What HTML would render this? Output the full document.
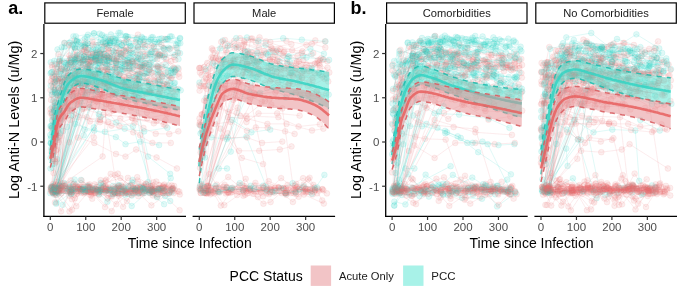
<!DOCTYPE html>
<html><head><meta charset="utf-8"><style>
html,body{margin:0;padding:0;background:#fff;width:685px;height:295px;overflow:hidden;position:relative}
</style></head><body>
<svg width="685" height="295" viewBox="0 0 685 295" style="position:absolute;left:0;top:0">
<defs><filter id="bl" filterUnits="userSpaceOnUse" x="0" y="0" width="685" height="295"><feGaussianBlur stdDeviation="0.75"/></filter><filter id="tx" filterUnits="userSpaceOnUse" x="0" y="0" width="685" height="295"><feGaussianBlur stdDeviation="0.25"/></filter></defs>
<style>.t circle{r:2.9px;fill:#16CFC0;fill-opacity:0.12;stroke:#16CFC0;stroke-opacity:0.12;stroke-width:0.8px}.p circle{r:2.9px;fill:#E86A6C;fill-opacity:0.12;stroke:#E86A6C;stroke-opacity:0.12;stroke-width:0.8px}.t path{fill:none;stroke:#16CFC0;stroke-opacity:0.15;stroke-width:0.85px}.p path{fill:none;stroke:#E86A6C;stroke-opacity:0.15;stroke-width:0.85px}</style>
<rect x="0" y="0" width="685" height="295" fill="#fff"/>
<g filter="url(#bl)">
<g class="p"><path d="M57.3,188.5L74.9,198.2L88.1,186.7L101.4,188.6L110.5,190.2L124.7,192L144.8,187.4L152,186.7L168.7,185.5"/><circle cx="57.3" cy="188.5"/><circle cx="74.9" cy="198.2"/><circle cx="88.1" cy="186.7"/><circle cx="101.4" cy="188.6"/><circle cx="110.5" cy="190.2"/><circle cx="124.7" cy="192"/><circle cx="144.8" cy="187.4"/><circle cx="152" cy="186.7"/><circle cx="168.7" cy="185.5"/></g>
<g class="t"><path d="M53.4,139.8L67.3,92.5L88.7,81.4L107.2,87.5L124.9,91.2L144.4,90.9L169,96"/><circle cx="53.4" cy="139.8"/><circle cx="67.3" cy="92.5"/><circle cx="88.7" cy="81.4"/><circle cx="107.2" cy="87.5"/><circle cx="124.9" cy="91.2"/><circle cx="144.4" cy="90.9"/><circle cx="169" cy="96"/></g>
<g class="p"><path d="M52.1,75.8L59.4,61.4L74.7,40.5L83.8,49.6L96.7,52.6"/><circle cx="52.1" cy="75.8"/><circle cx="59.4" cy="61.4"/><circle cx="74.7" cy="40.5"/><circle cx="83.8" cy="49.6"/><circle cx="96.7" cy="52.6"/></g>
<g class="t"><path d="M51.6,186.2L62.5,185.9L82.3,189.2L99.8,190.8L115.7,188.2L132.1,189.5L144.4,185.6L151.6,191.2"/><circle cx="51.6" cy="186.2"/><circle cx="62.5" cy="185.9"/><circle cx="82.3" cy="189.2"/><circle cx="99.8" cy="190.8"/><circle cx="115.7" cy="188.2"/><circle cx="132.1" cy="189.5"/><circle cx="144.4" cy="185.6"/><circle cx="151.6" cy="191.2"/></g>
<g class="p"><path d="M51.9,190.7L69.5,187.6L85.2,192.1L97.5,190.2L115.3,189.4L131.2,189.3L142.5,193.6L152.2,192.1L163.7,192.8"/><circle cx="51.9" cy="190.7"/><circle cx="69.5" cy="187.6"/><circle cx="85.2" cy="192.1"/><circle cx="97.5" cy="190.2"/><circle cx="115.3" cy="189.4"/><circle cx="131.2" cy="189.3"/><circle cx="142.5" cy="193.6"/><circle cx="152.2" cy="192.1"/><circle cx="163.7" cy="192.8"/></g>
<g class="t"><path d="M59.8,78.9L74.2,46.8L100.6,43.8L110.1,43L121.8,45.3L130.4,53.1L142.7,44.9L167.3,38.8L180.1,38"/><circle cx="59.8" cy="78.9"/><circle cx="74.2" cy="46.8"/><circle cx="100.6" cy="43.8"/><circle cx="110.1" cy="43"/><circle cx="121.8" cy="45.3"/><circle cx="130.4" cy="53.1"/><circle cx="142.7" cy="44.9"/><circle cx="167.3" cy="38.8"/><circle cx="180.1" cy="38"/></g>
<g class="p"><path d="M62.5,96.2L78,83.5L101.9,94L124.8,86.3L150.6,102"/><circle cx="62.5" cy="96.2"/><circle cx="78" cy="83.5"/><circle cx="101.9" cy="94"/><circle cx="124.8" cy="86.3"/><circle cx="150.6" cy="102"/></g>
<g class="p"><path d="M55.3,188.4L68.9,188.9L86.1,190.6L106.2,179.7L126.2,192.5L137.3,187.9L152.4,191.4"/><circle cx="55.3" cy="188.4"/><circle cx="68.9" cy="188.9"/><circle cx="86.1" cy="190.6"/><circle cx="106.2" cy="179.7"/><circle cx="126.2" cy="192.5"/><circle cx="137.3" cy="187.9"/><circle cx="152.4" cy="191.4"/></g>
<g class="p"><path d="M78,137.6L94.3,142.9L115.9,153.9L125.5,156.6L136.1,149.5L156.6,157.5L176.9,168.5"/><circle cx="78" cy="137.6"/><circle cx="94.3" cy="142.9"/><circle cx="115.9" cy="153.9"/><circle cx="125.5" cy="156.6"/><circle cx="136.1" cy="149.5"/><circle cx="156.6" cy="157.5"/><circle cx="176.9" cy="168.5"/></g>
<g class="p"><path d="M50.5,112.9L57,81L74.8,74.7L96.4,87.9L108.7,81.9L131.2,85.1"/><circle cx="50.5" cy="112.9"/><circle cx="57" cy="81"/><circle cx="74.8" cy="74.7"/><circle cx="96.4" cy="87.9"/><circle cx="108.7" cy="81.9"/><circle cx="131.2" cy="85.1"/></g>
<g class="t"><path d="M56.5,64.1L59.3,60.6L84,60.5L108.9,69.8L123.3,69.6L135.7,76.3L158,81.5L174.1,83.4"/><circle cx="56.5" cy="64.1"/><circle cx="59.3" cy="60.6"/><circle cx="84" cy="60.5"/><circle cx="108.9" cy="69.8"/><circle cx="123.3" cy="69.6"/><circle cx="135.7" cy="76.3"/><circle cx="158" cy="81.5"/><circle cx="174.1" cy="83.4"/></g>
<g class="t"><path d="M54.5,163.7L58.6,117L82.6,60.9L91.6,57.4"/><circle cx="54.5" cy="163.7"/><circle cx="58.6" cy="117"/><circle cx="82.6" cy="60.9"/><circle cx="91.6" cy="57.4"/></g>
<g class="p"><path d="M58.1,188.9L75.2,49L95.9,55.2L120.5,56.6L141,58.3L149.4,62.6L159.7,55.2L174.1,67.7"/><circle cx="58.1" cy="188.9"/><circle cx="75.2" cy="49"/><circle cx="95.9" cy="55.2"/><circle cx="120.5" cy="56.6"/><circle cx="141" cy="58.3"/><circle cx="149.4" cy="62.6"/><circle cx="159.7" cy="55.2"/><circle cx="174.1" cy="67.7"/></g>
<g class="p"><path d="M59.9,186.1L71.9,199.2L83.6,186.6L93.2,193.2L111.7,211.1L121.6,193.2L140.5,189.9L153.4,182.4L164.7,191"/><circle cx="59.9" cy="186.1"/><circle cx="71.9" cy="199.2"/><circle cx="83.6" cy="186.6"/><circle cx="93.2" cy="193.2"/><circle cx="111.7" cy="211.1"/><circle cx="121.6" cy="193.2"/><circle cx="140.5" cy="189.9"/><circle cx="153.4" cy="182.4"/><circle cx="164.7" cy="191"/></g>
<g class="p"><path d="M54.7,64.5L74.3,81.3L86.7,82.7L105.3,88.8"/><circle cx="54.7" cy="64.5"/><circle cx="74.3" cy="81.3"/><circle cx="86.7" cy="82.7"/><circle cx="105.3" cy="88.8"/></g>
<g class="p"><path d="M57.4,192.3L72.8,186.2L80.6,188.7L87.9,187.7L96.5,188.8L115,193.1L135.4,189.6L146.5,188.9L159.2,185"/><circle cx="57.4" cy="192.3"/><circle cx="72.8" cy="186.2"/><circle cx="80.6" cy="188.7"/><circle cx="87.9" cy="187.7"/><circle cx="96.5" cy="188.8"/><circle cx="115" cy="193.1"/><circle cx="135.4" cy="189.6"/><circle cx="146.5" cy="188.9"/><circle cx="159.2" cy="185"/></g>
<g class="t"><path d="M53.7,135.1L72.9,78.3L95.8,60.8"/><circle cx="53.7" cy="135.1"/><circle cx="72.9" cy="78.3"/><circle cx="95.8" cy="60.8"/></g>
<g class="p"><path d="M56,125L59.1,112L72.4,96.2L98.4,96.7L108.4,99.2L128.4,100.8L137.3,104.3L153.7,110.4L162.2,107.2L172.1,101.4"/><circle cx="56" cy="125"/><circle cx="59.1" cy="112"/><circle cx="72.4" cy="96.2"/><circle cx="98.4" cy="96.7"/><circle cx="108.4" cy="99.2"/><circle cx="128.4" cy="100.8"/><circle cx="137.3" cy="104.3"/><circle cx="153.7" cy="110.4"/><circle cx="162.2" cy="107.2"/><circle cx="172.1" cy="101.4"/></g>
<g class="t"><path d="M55.4,107.7L75.9,36.3L93.9,33.3L108,40.2L116.1,37.9L128.1,37.2L137.2,38.4L159.3,42.3L177.6,41.8"/><circle cx="55.4" cy="107.7"/><circle cx="75.9" cy="36.3"/><circle cx="93.9" cy="33.3"/><circle cx="108" cy="40.2"/><circle cx="116.1" cy="37.9"/><circle cx="128.1" cy="37.2"/><circle cx="137.2" cy="38.4"/><circle cx="159.3" cy="42.3"/><circle cx="177.6" cy="41.8"/></g>
<g class="p"><path d="M58,140.1L64.9,80.2L75.1,55.1L90.4,60.4L102,62.7L122.6,55.5L132.6,73.1L149.9,69.5L170.6,78.4"/><circle cx="58" cy="140.1"/><circle cx="64.9" cy="80.2"/><circle cx="75.1" cy="55.1"/><circle cx="90.4" cy="60.4"/><circle cx="102" cy="62.7"/><circle cx="122.6" cy="55.5"/><circle cx="132.6" cy="73.1"/><circle cx="149.9" cy="69.5"/><circle cx="170.6" cy="78.4"/></g>
<g class="p"><path d="M56.7,115.2L61.8,78.6L87.7,68.4L107.8,69.7"/><circle cx="56.7" cy="115.2"/><circle cx="61.8" cy="78.6"/><circle cx="87.7" cy="68.4"/><circle cx="107.8" cy="69.7"/></g>
<g class="t"><path d="M50.6,73.3L72.7,44.6L94.1,33.3L104.6,38.2L115.5,40.3L139.8,42.1L154.7,41.8L178.4,43.3"/><circle cx="50.6" cy="73.3"/><circle cx="72.7" cy="44.6"/><circle cx="94.1" cy="33.3"/><circle cx="104.6" cy="38.2"/><circle cx="115.5" cy="40.3"/><circle cx="139.8" cy="42.1"/><circle cx="154.7" cy="41.8"/><circle cx="178.4" cy="43.3"/></g>
<g class="t"><path d="M57.1,92.7L81.8,57.5L100.4,53.5L124,81.8L144.1,73.4L159.5,79.8"/><circle cx="57.1" cy="92.7"/><circle cx="81.8" cy="57.5"/><circle cx="100.4" cy="53.5"/><circle cx="124" cy="81.8"/><circle cx="144.1" cy="73.4"/><circle cx="159.5" cy="79.8"/></g>
<g class="t"><path d="M53.3,154.6L60.5,112.3L86.9,93.4"/><circle cx="53.3" cy="154.6"/><circle cx="60.5" cy="112.3"/><circle cx="86.9" cy="93.4"/></g>
<g class="t"><path d="M57.4,190.7L72.5,189.7L88.8,186L98.6,189.9L114.2,189.7L127.6,194L139.4,192.8L148.1,182.1L165.1,195.9"/><circle cx="57.4" cy="190.7"/><circle cx="72.5" cy="189.7"/><circle cx="88.8" cy="186"/><circle cx="98.6" cy="189.9"/><circle cx="114.2" cy="189.7"/><circle cx="127.6" cy="194"/><circle cx="139.4" cy="192.8"/><circle cx="148.1" cy="182.1"/><circle cx="165.1" cy="195.9"/></g>
<g class="t"><path d="M52.5,167.6L72,68.2L98.3,72.4L120.6,73L147.1,81.2"/><circle cx="52.5" cy="167.6"/><circle cx="72" cy="68.2"/><circle cx="98.3" cy="72.4"/><circle cx="120.6" cy="73"/><circle cx="147.1" cy="81.2"/></g>
<g class="t"><path d="M53.9,185.8L93.8,127.4L118.5,32.8L126.4,36.1L150.9,39.7L169.5,48.7"/><circle cx="53.9" cy="185.8"/><circle cx="93.8" cy="127.4"/><circle cx="118.5" cy="32.8"/><circle cx="126.4" cy="36.1"/><circle cx="150.9" cy="39.7"/><circle cx="169.5" cy="48.7"/></g>
<g class="p"><path d="M52.7,187.5L65.2,183.8L82.2,184.7L89.5,184.4L105.4,180.9L115,174.8L130.4,185L143.8,186.7L162.8,186.7"/><circle cx="52.7" cy="187.5"/><circle cx="65.2" cy="183.8"/><circle cx="82.2" cy="184.7"/><circle cx="89.5" cy="184.4"/><circle cx="105.4" cy="180.9"/><circle cx="115" cy="174.8"/><circle cx="130.4" cy="185"/><circle cx="143.8" cy="186.7"/><circle cx="162.8" cy="186.7"/></g>
<g class="p"><path d="M59.4,136.4L63.3,116.6L74.7,85.9L85,81.4L107.4,71.4L119.5,74.2L140.2,77L159.6,72L169.4,76.3"/><circle cx="59.4" cy="136.4"/><circle cx="63.3" cy="116.6"/><circle cx="74.7" cy="85.9"/><circle cx="85" cy="81.4"/><circle cx="107.4" cy="71.4"/><circle cx="119.5" cy="74.2"/><circle cx="140.2" cy="77"/><circle cx="159.6" cy="72"/><circle cx="169.4" cy="76.3"/></g>
<g class="t"><path d="M51,143.3L65.5,63.4L80,54.5L92.7,51.2L100.8,58.1L113.7,52.3L123.6,56.5L141,66.1L154.7,58.5L174.2,72"/><circle cx="51" cy="143.3"/><circle cx="65.5" cy="63.4"/><circle cx="80" cy="54.5"/><circle cx="92.7" cy="51.2"/><circle cx="100.8" cy="58.1"/><circle cx="113.7" cy="52.3"/><circle cx="123.6" cy="56.5"/><circle cx="141" cy="66.1"/><circle cx="154.7" cy="58.5"/><circle cx="174.2" cy="72"/></g>
<g class="t"><path d="M55.4,192.4L69.1,187.5L83.2,188.7L92.6,189.8L113.1,193.5L133.2,192.9L145.6,190.4L156.4,191L173.3,188.6"/><circle cx="55.4" cy="192.4"/><circle cx="69.1" cy="187.5"/><circle cx="83.2" cy="188.7"/><circle cx="92.6" cy="189.8"/><circle cx="113.1" cy="193.5"/><circle cx="133.2" cy="192.9"/><circle cx="145.6" cy="190.4"/><circle cx="156.4" cy="191"/><circle cx="173.3" cy="188.6"/></g>
<g class="t"><path d="M54.2,89.8L80.4,62.9L100,54.1L116.6,58.3L129.4,64.5L148.5,72.5L157.4,68.7L167.7,74.9"/><circle cx="54.2" cy="89.8"/><circle cx="80.4" cy="62.9"/><circle cx="100" cy="54.1"/><circle cx="116.6" cy="58.3"/><circle cx="129.4" cy="64.5"/><circle cx="148.5" cy="72.5"/><circle cx="157.4" cy="68.7"/><circle cx="167.7" cy="74.9"/></g>
<g class="p"><path d="M58.9,192.3L84.1,108.6L95.5,99.2L109.3,103.9L119.8,102.3L131.1,107.7L144.2,105.6L159.6,105.7"/><circle cx="58.9" cy="192.3"/><circle cx="84.1" cy="108.6"/><circle cx="95.5" cy="99.2"/><circle cx="109.3" cy="103.9"/><circle cx="119.8" cy="102.3"/><circle cx="131.1" cy="107.7"/><circle cx="144.2" cy="105.6"/><circle cx="159.6" cy="105.7"/></g>
<g class="p"><path d="M50.4,109.1L53.7,82.6L78.9,74.8L88.5,54.1L105,62L127.2,71.3L144.6,66.8L160.5,73.8"/><circle cx="50.4" cy="109.1"/><circle cx="53.7" cy="82.6"/><circle cx="78.9" cy="74.8"/><circle cx="88.5" cy="54.1"/><circle cx="105" cy="62"/><circle cx="127.2" cy="71.3"/><circle cx="144.6" cy="66.8"/><circle cx="160.5" cy="73.8"/></g>
<g class="t"><path d="M51.2,148.8L64.9,79.4L88.3,82.9L96.6,81.3L115.9,80L136.9,82.2L149,84.5L170.5,89.1"/><circle cx="51.2" cy="148.8"/><circle cx="64.9" cy="79.4"/><circle cx="88.3" cy="82.9"/><circle cx="96.6" cy="81.3"/><circle cx="115.9" cy="80"/><circle cx="136.9" cy="82.2"/><circle cx="149" cy="84.5"/><circle cx="170.5" cy="89.1"/></g>
<g class="p"><path d="M52.9,117.2L59.2,105.1L78.2,117.2L100.1,119.4L109.3,113.6L119.4,126.2L134.6,122.7L143.4,128L155.7,133.7L169.3,134L178.3,131.3"/><circle cx="52.9" cy="117.2"/><circle cx="59.2" cy="105.1"/><circle cx="78.2" cy="117.2"/><circle cx="100.1" cy="119.4"/><circle cx="109.3" cy="113.6"/><circle cx="119.4" cy="126.2"/><circle cx="134.6" cy="122.7"/><circle cx="143.4" cy="128"/><circle cx="155.7" cy="133.7"/><circle cx="169.3" cy="134"/><circle cx="178.3" cy="131.3"/></g>
<g class="t"><path d="M55.3,105.4L76.5,82.8L97.3,92"/><circle cx="55.3" cy="105.4"/><circle cx="76.5" cy="82.8"/><circle cx="97.3" cy="92"/></g>
<g class="t"><path d="M54.5,191.6L98.2,48.6L110.1,41.1"/><circle cx="54.5" cy="191.6"/><circle cx="98.2" cy="48.6"/><circle cx="110.1" cy="41.1"/></g>
<g class="p"><path d="M50.7,187.3L69.2,195.7L77.8,187.9L89.3,192.2L109.1,188.4L123,186.6L140,190L152.1,191.1L164.9,187.4L172.7,188.2"/><circle cx="50.7" cy="187.3"/><circle cx="69.2" cy="195.7"/><circle cx="77.8" cy="187.9"/><circle cx="89.3" cy="192.2"/><circle cx="109.1" cy="188.4"/><circle cx="123" cy="186.6"/><circle cx="140" cy="190"/><circle cx="152.1" cy="191.1"/><circle cx="164.9" cy="187.4"/><circle cx="172.7" cy="188.2"/></g>
<g class="p"><path d="M51.7,112L61,68.3L70.3,62.2L91,57.4L104.4,57.5L116.2,61.8L136.5,61L157.9,66.8L178.7,73.5"/><circle cx="51.7" cy="112"/><circle cx="61" cy="68.3"/><circle cx="70.3" cy="62.2"/><circle cx="91" cy="57.4"/><circle cx="104.4" cy="57.5"/><circle cx="116.2" cy="61.8"/><circle cx="136.5" cy="61"/><circle cx="157.9" cy="66.8"/><circle cx="178.7" cy="73.5"/></g>
<g class="t"><path d="M51.9,120.2L56,93.2L77.9,58.8L101.4,50L126,51L142.4,56.6L160.3,54.9"/><circle cx="51.9" cy="120.2"/><circle cx="56" cy="93.2"/><circle cx="77.9" cy="58.8"/><circle cx="101.4" cy="50"/><circle cx="126" cy="51"/><circle cx="142.4" cy="56.6"/><circle cx="160.3" cy="54.9"/></g>
<g class="p"><path d="M61.5,186.7L71.1,189.7L85.7,190.6L102.4,190.1L118.3,191.9L131.5,190.8L151.4,189.3L159.3,188L172.3,189"/><circle cx="61.5" cy="186.7"/><circle cx="71.1" cy="189.7"/><circle cx="85.7" cy="190.6"/><circle cx="102.4" cy="190.1"/><circle cx="118.3" cy="191.9"/><circle cx="131.5" cy="190.8"/><circle cx="151.4" cy="189.3"/><circle cx="159.3" cy="188"/><circle cx="172.3" cy="189"/></g>
<g class="p"><path d="M56.5,191.3L76.3,81L99.6,90L108.1,84.6L121.1,85.8L135.1,89L146.1,93.2L157.8,95.7L165.6,98.2"/><circle cx="56.5" cy="191.3"/><circle cx="76.3" cy="81"/><circle cx="99.6" cy="90"/><circle cx="108.1" cy="84.6"/><circle cx="121.1" cy="85.8"/><circle cx="135.1" cy="89"/><circle cx="146.1" cy="93.2"/><circle cx="157.8" cy="95.7"/><circle cx="165.6" cy="98.2"/></g>
<g class="t"><path d="M56.5,138.8L63.8,84.7L84.3,45.8L96.5,45.3L109.8,42.6L136,53.1L156.3,51.3L177.6,52.3"/><circle cx="56.5" cy="138.8"/><circle cx="63.8" cy="84.7"/><circle cx="84.3" cy="45.8"/><circle cx="96.5" cy="45.3"/><circle cx="109.8" cy="42.6"/><circle cx="136" cy="53.1"/><circle cx="156.3" cy="51.3"/><circle cx="177.6" cy="52.3"/></g>
<g class="t"><path d="M50.6,143.2L54.1,111.1L74.6,59L86.1,57L104,59.9L130.3,63.1"/><circle cx="50.6" cy="143.2"/><circle cx="54.1" cy="111.1"/><circle cx="74.6" cy="59"/><circle cx="86.1" cy="57"/><circle cx="104" cy="59.9"/><circle cx="130.3" cy="63.1"/></g>
<g class="p"><path d="M53,76.9L68.3,75.3L81.7,84.1L94.8,87.3L114.7,93.6L136,93.9L151.3,192.5"/><circle cx="53" cy="76.9"/><circle cx="68.3" cy="75.3"/><circle cx="81.7" cy="84.1"/><circle cx="94.8" cy="87.3"/><circle cx="114.7" cy="93.6"/><circle cx="136" cy="93.9"/><circle cx="151.3" cy="192.5"/></g>
<g class="t"><path d="M50.8,62.3L54.2,60.9L67.7,64.6L87.9,64.8L112.8,54.7"/><circle cx="50.8" cy="62.3"/><circle cx="54.2" cy="60.9"/><circle cx="67.7" cy="64.6"/><circle cx="87.9" cy="64.8"/><circle cx="112.8" cy="54.7"/></g>
<g class="p"><path d="M52.1,78.5L54.7,82.8L79.8,100.8L99.7,94.4L121.9,95.3L136,101.4L151.5,93.4L172.4,97.8"/><circle cx="52.1" cy="78.5"/><circle cx="54.7" cy="82.8"/><circle cx="79.8" cy="100.8"/><circle cx="99.7" cy="94.4"/><circle cx="121.9" cy="95.3"/><circle cx="136" cy="101.4"/><circle cx="151.5" cy="93.4"/><circle cx="172.4" cy="97.8"/></g>
<g class="p"><path d="M54.5,187.4L93.8,137.4L107.4,57L116.1,60.5L132.4,68.5"/><circle cx="54.5" cy="187.4"/><circle cx="93.8" cy="137.4"/><circle cx="107.4" cy="57"/><circle cx="116.1" cy="60.5"/><circle cx="132.4" cy="68.5"/></g>
<g class="p"><path d="M56.3,134.4L72.1,64.5L81.8,51.5L94.1,61.7L115.1,68.3"/><circle cx="56.3" cy="134.4"/><circle cx="72.1" cy="64.5"/><circle cx="81.8" cy="51.5"/><circle cx="94.1" cy="61.7"/><circle cx="115.1" cy="68.3"/></g>
<g class="p"><path d="M53.9,152.7L67.9,115.6L77.4,104.5L96.2,101.5L110.9,95.6L127.3,97.3L145.9,104.3L169.9,103.1"/><circle cx="53.9" cy="152.7"/><circle cx="67.9" cy="115.6"/><circle cx="77.4" cy="104.5"/><circle cx="96.2" cy="101.5"/><circle cx="110.9" cy="95.6"/><circle cx="127.3" cy="97.3"/><circle cx="145.9" cy="104.3"/><circle cx="169.9" cy="103.1"/></g>
<g class="p"><path d="M57.4,125.5L67.1,67.9L85,46.7L110.7,38.8L124.1,42.6L138,34.6"/><circle cx="57.4" cy="125.5"/><circle cx="67.1" cy="67.9"/><circle cx="85" cy="46.7"/><circle cx="110.7" cy="38.8"/><circle cx="124.1" cy="42.6"/><circle cx="138" cy="34.6"/></g>
<g class="p"><path d="M55.7,189.1L72,209.7L81.4,188.9L91.2,192.5L106.2,190.5L118.6,195.8L133.5,193.8L153.8,193.4L164.4,188.4L179.3,191.7"/><circle cx="55.7" cy="189.1"/><circle cx="72" cy="209.7"/><circle cx="81.4" cy="188.9"/><circle cx="91.2" cy="192.5"/><circle cx="106.2" cy="190.5"/><circle cx="118.6" cy="195.8"/><circle cx="133.5" cy="193.8"/><circle cx="153.8" cy="193.4"/><circle cx="164.4" cy="188.4"/><circle cx="179.3" cy="191.7"/></g>
<g class="t"><path d="M51.1,189.2L98.1,62.6L120.2,64.3L138,73.3"/><circle cx="51.1" cy="189.2"/><circle cx="98.1" cy="62.6"/><circle cx="120.2" cy="64.3"/><circle cx="138" cy="73.3"/></g>
<g class="p"><path d="M59.4,118.6L79.1,96.5L92.6,99.7L102.1,96.4L110.7,106.4L136.9,97.2L156.3,107.5L167,102.1L176,108.1"/><circle cx="59.4" cy="118.6"/><circle cx="79.1" cy="96.5"/><circle cx="92.6" cy="99.7"/><circle cx="102.1" cy="96.4"/><circle cx="110.7" cy="106.4"/><circle cx="136.9" cy="97.2"/><circle cx="156.3" cy="107.5"/><circle cx="167" cy="102.1"/><circle cx="176" cy="108.1"/></g>
<g class="p"><path d="M52,65L57.7,78.4L73,95.3L81.8,92.9L91.4,92.2L103.9,93.7L121.3,104.2L147.2,118.3L167,114.3"/><circle cx="52" cy="65"/><circle cx="57.7" cy="78.4"/><circle cx="73" cy="95.3"/><circle cx="81.8" cy="92.9"/><circle cx="91.4" cy="92.2"/><circle cx="103.9" cy="93.7"/><circle cx="121.3" cy="104.2"/><circle cx="147.2" cy="118.3"/><circle cx="167" cy="114.3"/></g>
<g class="p"><path d="M51,99.9L64.6,43L85,42.3L103.9,46.5L126.8,39.4L143.4,42.1L153.9,46.8L165,38.8"/><circle cx="51" cy="99.9"/><circle cx="64.6" cy="43"/><circle cx="85" cy="42.3"/><circle cx="103.9" cy="46.5"/><circle cx="126.8" cy="39.4"/><circle cx="143.4" cy="42.1"/><circle cx="153.9" cy="46.8"/><circle cx="165" cy="38.8"/></g>
<g class="t"><path d="M55.7,190.1L94.1,82.5L104,81.7L119.3,74.5L132,91.2L149.6,91.2L160.5,88.3"/><circle cx="55.7" cy="190.1"/><circle cx="94.1" cy="82.5"/><circle cx="104" cy="81.7"/><circle cx="119.3" cy="74.5"/><circle cx="132" cy="91.2"/><circle cx="149.6" cy="91.2"/><circle cx="160.5" cy="88.3"/></g>
<g class="p"><path d="M55.9,79.1L74.4,86.3L94,97.8L113.2,92.5L122.5,106.9L146.9,112.4L168.3,110.5"/><circle cx="55.9" cy="79.1"/><circle cx="74.4" cy="86.3"/><circle cx="94" cy="97.8"/><circle cx="113.2" cy="92.5"/><circle cx="122.5" cy="106.9"/><circle cx="146.9" cy="112.4"/><circle cx="168.3" cy="110.5"/></g>
<g class="t"><path d="M57.9,187.9L84.8,38.7L109.1,41L132.6,53.5L145.1,47.1L164.4,49.4"/><circle cx="57.9" cy="187.9"/><circle cx="84.8" cy="38.7"/><circle cx="109.1" cy="41"/><circle cx="132.6" cy="53.5"/><circle cx="145.1" cy="47.1"/><circle cx="164.4" cy="49.4"/></g>
<g class="t"><path d="M51.9,187.9L83.9,73.4"/><circle cx="51.9" cy="187.9"/><circle cx="83.9" cy="73.4"/></g>
<g class="p"><path d="M58.5,190.7L103.9,88.2L123.1,90.6L134.8,94.8"/><circle cx="58.5" cy="190.7"/><circle cx="103.9" cy="88.2"/><circle cx="123.1" cy="90.6"/><circle cx="134.8" cy="94.8"/></g>
<g class="p"><path d="M52.1,67.1L59.3,64L85.4,47.9L97.8,60.2L119.2,51.5L135.8,42.1L154.9,51.5L164.9,54"/><circle cx="52.1" cy="67.1"/><circle cx="59.3" cy="64"/><circle cx="85.4" cy="47.9"/><circle cx="97.8" cy="60.2"/><circle cx="119.2" cy="51.5"/><circle cx="135.8" cy="42.1"/><circle cx="154.9" cy="51.5"/><circle cx="164.9" cy="54"/></g>
<g class="p"><path d="M53.9,188.4L65.5,188L73.1,184.5L87.4,191.4L97.1,186.7L107.5,198.4L121.7,186.6L137.4,189.6L150.8,186.1L159.6,190.8L174.1,185.9"/><circle cx="53.9" cy="188.4"/><circle cx="65.5" cy="188"/><circle cx="73.1" cy="184.5"/><circle cx="87.4" cy="191.4"/><circle cx="97.1" cy="186.7"/><circle cx="107.5" cy="198.4"/><circle cx="121.7" cy="186.6"/><circle cx="137.4" cy="189.6"/><circle cx="150.8" cy="186.1"/><circle cx="159.6" cy="190.8"/><circle cx="174.1" cy="185.9"/></g>
<g class="p"><path d="M54.9,121.3L61.6,69L75.1,62.7L100.5,60.8L125.1,68.7L139.7,66.9L154.4,76.9L165.8,72.6"/><circle cx="54.9" cy="121.3"/><circle cx="61.6" cy="69"/><circle cx="75.1" cy="62.7"/><circle cx="100.5" cy="60.8"/><circle cx="125.1" cy="68.7"/><circle cx="139.7" cy="66.9"/><circle cx="154.4" cy="76.9"/><circle cx="165.8" cy="72.6"/></g>
<g class="t"><path d="M50.5,168.4L74.4,75.2L94.3,74.2L102.5,76.4L113.4,76.6L122.4,80.9L141.5,81.1"/><circle cx="50.5" cy="168.4"/><circle cx="74.4" cy="75.2"/><circle cx="94.3" cy="74.2"/><circle cx="102.5" cy="76.4"/><circle cx="113.4" cy="76.6"/><circle cx="122.4" cy="80.9"/><circle cx="141.5" cy="81.1"/></g>
<g class="p"><path d="M57.1,190.5L100.1,120.1L111.4,125.6L132.6,118.3L153.8,123.3L165.4,120.1"/><circle cx="57.1" cy="190.5"/><circle cx="100.1" cy="120.1"/><circle cx="111.4" cy="125.6"/><circle cx="132.6" cy="118.3"/><circle cx="153.8" cy="123.3"/><circle cx="165.4" cy="120.1"/></g>
<g class="t"><path d="M52.2,147.6L66.7,76.5L88.7,63.7L109.5,66.9L130.3,68.7L143.2,75.9L157.8,74.6L172.6,75.4"/><circle cx="52.2" cy="147.6"/><circle cx="66.7" cy="76.5"/><circle cx="88.7" cy="63.7"/><circle cx="109.5" cy="66.9"/><circle cx="130.3" cy="68.7"/><circle cx="143.2" cy="75.9"/><circle cx="157.8" cy="74.6"/><circle cx="172.6" cy="75.4"/></g>
<g class="t"><path d="M54.7,90L59.5,59L84,56.4L109.3,60.1L122.3,62.9L142.7,67.5L158.2,71.3L174.9,82.8"/><circle cx="54.7" cy="90"/><circle cx="59.5" cy="59"/><circle cx="84" cy="56.4"/><circle cx="109.3" cy="60.1"/><circle cx="122.3" cy="62.9"/><circle cx="142.7" cy="67.5"/><circle cx="158.2" cy="71.3"/><circle cx="174.9" cy="82.8"/></g>
<g class="t"><path d="M60.9,74.5L75,47.7L90.7,57.6L107.3,64L117.3,56.3L140.6,59.9L157.7,66.2L172.5,68.7"/><circle cx="60.9" cy="74.5"/><circle cx="75" cy="47.7"/><circle cx="90.7" cy="57.6"/><circle cx="107.3" cy="64"/><circle cx="117.3" cy="56.3"/><circle cx="140.6" cy="59.9"/><circle cx="157.7" cy="66.2"/><circle cx="172.5" cy="68.7"/></g>
<g class="p"><path d="M59.2,191.4L78.5,191.2L92.2,198.7L110.7,173.8L125.4,191.2L145.3,189.8L163.3,185.6"/><circle cx="59.2" cy="191.4"/><circle cx="78.5" cy="191.2"/><circle cx="92.2" cy="198.7"/><circle cx="110.7" cy="173.8"/><circle cx="125.4" cy="191.2"/><circle cx="145.3" cy="189.8"/><circle cx="163.3" cy="185.6"/></g>
<g class="t"><path d="M56.1,203.7L73.2,190.9L81.9,188.9L97.4,190.4L105.5,191.5L113.1,185.9L131.7,206L150.1,190.1L160,188.9L171.4,189.2"/><circle cx="56.1" cy="203.7"/><circle cx="73.2" cy="190.9"/><circle cx="81.9" cy="188.9"/><circle cx="97.4" cy="190.4"/><circle cx="105.5" cy="191.5"/><circle cx="113.1" cy="185.9"/><circle cx="131.7" cy="206"/><circle cx="150.1" cy="190.1"/><circle cx="160" cy="188.9"/><circle cx="171.4" cy="189.2"/></g>
<g class="p"><path d="M55.6,193.2L70,190.8L79.8,189.2L88.4,192.2L101.3,189.1L117.9,191.2L128.6,193.4L138.2,196.1L158.6,188.7"/><circle cx="55.6" cy="193.2"/><circle cx="70" cy="190.8"/><circle cx="79.8" cy="189.2"/><circle cx="88.4" cy="192.2"/><circle cx="101.3" cy="189.1"/><circle cx="117.9" cy="191.2"/><circle cx="128.6" cy="193.4"/><circle cx="138.2" cy="196.1"/><circle cx="158.6" cy="188.7"/></g>
<g class="t"><path d="M60.9,71.2L92.8,75.7L135.4,97.8L148.1,156.6L170.1,173.8"/><circle cx="60.9" cy="71.2"/><circle cx="92.8" cy="75.7"/><circle cx="135.4" cy="97.8"/><circle cx="148.1" cy="156.6"/><circle cx="170.1" cy="173.8"/></g>
<g class="p"><path d="M58.7,99.7L71.7,109.7L89.9,121.4L108.2,122.2L120.3,118.4L140.1,135L153.8,191L172.7,187.9"/><circle cx="58.7" cy="99.7"/><circle cx="71.7" cy="109.7"/><circle cx="89.9" cy="121.4"/><circle cx="108.2" cy="122.2"/><circle cx="120.3" cy="118.4"/><circle cx="140.1" cy="135"/><circle cx="153.8" cy="191"/><circle cx="172.7" cy="187.9"/></g>
<g class="p"><path d="M56.9,190.4L109.3,61.7L126.1,63.6L144.1,64.8L156.7,66.2L166,59.3L178.7,68.8"/><circle cx="56.9" cy="190.4"/><circle cx="109.3" cy="61.7"/><circle cx="126.1" cy="63.6"/><circle cx="144.1" cy="64.8"/><circle cx="156.7" cy="66.2"/><circle cx="166" cy="59.3"/><circle cx="178.7" cy="68.8"/></g>
<g class="t"><path d="M52,113.4L77,40.5L88.2,48L110.4,42.9L128.8,42.8"/><circle cx="52" cy="113.4"/><circle cx="77" cy="40.5"/><circle cx="88.2" cy="48"/><circle cx="110.4" cy="42.9"/><circle cx="128.8" cy="42.8"/></g>
<g class="p"><path d="M59.6,188.4L80.9,79.3L92,80.8L111.1,81.6L132.4,91.7L155.2,85.4L173,91.8"/><circle cx="59.6" cy="188.4"/><circle cx="80.9" cy="79.3"/><circle cx="92" cy="80.8"/><circle cx="111.1" cy="81.6"/><circle cx="132.4" cy="91.7"/><circle cx="155.2" cy="85.4"/><circle cx="173" cy="91.8"/></g>
<g class="t"><path d="M52.1,107.3L70.1,85.2L87.6,89.6L105.1,81.4L131.5,82.9L139.5,90.8L150.1,104.4L160,97.7"/><circle cx="52.1" cy="107.3"/><circle cx="70.1" cy="85.2"/><circle cx="87.6" cy="89.6"/><circle cx="105.1" cy="81.4"/><circle cx="131.5" cy="82.9"/><circle cx="139.5" cy="90.8"/><circle cx="150.1" cy="104.4"/><circle cx="160" cy="97.7"/></g>
<g class="p"><path d="M62.5,185.5L73,188.6L80.4,189.4L92.5,188.7L110.5,190.2L121.3,185.3L132.8,186.1L142.7,186.7L157.1,196.7"/><circle cx="62.5" cy="185.5"/><circle cx="73" cy="188.6"/><circle cx="80.4" cy="189.4"/><circle cx="92.5" cy="188.7"/><circle cx="110.5" cy="190.2"/><circle cx="121.3" cy="185.3"/><circle cx="132.8" cy="186.1"/><circle cx="142.7" cy="186.7"/><circle cx="157.1" cy="196.7"/></g>
<g class="t"><path d="M58.5,193.5L71.1,193.3L80.9,179.9L99.1,194.2L108.7,189.9L122,191.8L132.6,179.9L148.7,190L168.6,193.8"/><circle cx="58.5" cy="193.5"/><circle cx="71.1" cy="193.3"/><circle cx="80.9" cy="179.9"/><circle cx="99.1" cy="194.2"/><circle cx="108.7" cy="189.9"/><circle cx="122" cy="191.8"/><circle cx="132.6" cy="179.9"/><circle cx="148.7" cy="190"/><circle cx="168.6" cy="193.8"/></g>
<g class="t"><path d="M60.4,106L62.9,92.8L71.7,60.8L87,37L105.4,37.2L125.9,36.1L140,41.4L152.8,37.1L161.6,38.5L171.6,36.5L179.9,38.6"/><circle cx="60.4" cy="106"/><circle cx="62.9" cy="92.8"/><circle cx="71.7" cy="60.8"/><circle cx="87" cy="37"/><circle cx="105.4" cy="37.2"/><circle cx="125.9" cy="36.1"/><circle cx="140" cy="41.4"/><circle cx="152.8" cy="37.1"/><circle cx="161.6" cy="38.5"/><circle cx="171.6" cy="36.5"/><circle cx="179.9" cy="38.6"/></g>
<g class="t"><path d="M58.5,87.8L64.3,43L73.4,36.3L92.9,49.5L106.7,46.2L129.4,54.3L138,47.4"/><circle cx="58.5" cy="87.8"/><circle cx="64.3" cy="43"/><circle cx="73.4" cy="36.3"/><circle cx="92.9" cy="49.5"/><circle cx="106.7" cy="46.2"/><circle cx="129.4" cy="54.3"/><circle cx="138" cy="47.4"/></g>
<g class="p"><path d="M55.1,193.4L64.6,186.1L78.2,187L89.7,187.4L105.2,190.2L115.4,192.8L123.1,206.8L134.4,189.2L154.9,189.8L173.7,193"/><circle cx="55.1" cy="193.4"/><circle cx="64.6" cy="186.1"/><circle cx="78.2" cy="187"/><circle cx="89.7" cy="187.4"/><circle cx="105.2" cy="190.2"/><circle cx="115.4" cy="192.8"/><circle cx="123.1" cy="206.8"/><circle cx="134.4" cy="189.2"/><circle cx="154.9" cy="189.8"/><circle cx="173.7" cy="193"/></g>
<g class="p"><path d="M52.3,190.3L77.2,101.3L88.9,99.5L100.4,95.9L108.8,94.7L126.3,102.1L147.8,102.1L167,108.7"/><circle cx="52.3" cy="190.3"/><circle cx="77.2" cy="101.3"/><circle cx="88.9" cy="99.5"/><circle cx="100.4" cy="95.9"/><circle cx="108.8" cy="94.7"/><circle cx="126.3" cy="102.1"/><circle cx="147.8" cy="102.1"/><circle cx="167" cy="108.7"/></g>
<g class="t"><path d="M52.7,193L87.8,83.8L110.4,90.2"/><circle cx="52.7" cy="193"/><circle cx="87.8" cy="83.8"/><circle cx="110.4" cy="90.2"/></g>
<g class="t"><path d="M56.2,189.6L85.4,95L101,57.1L112.2,70.7L124.7,63.9L142.5,63.7"/><circle cx="56.2" cy="189.6"/><circle cx="85.4" cy="95"/><circle cx="101" cy="57.1"/><circle cx="112.2" cy="70.7"/><circle cx="124.7" cy="63.9"/><circle cx="142.5" cy="63.7"/></g>
<g class="p"><path d="M52.4,84L58.4,54.1L75.6,58.5L88.2,59.7L96.2,56.6L107.8,50.1L118.8,52.9L134.9,64.7L159.5,68.2L171,61.3"/><circle cx="52.4" cy="84"/><circle cx="58.4" cy="54.1"/><circle cx="75.6" cy="58.5"/><circle cx="88.2" cy="59.7"/><circle cx="96.2" cy="56.6"/><circle cx="107.8" cy="50.1"/><circle cx="118.8" cy="52.9"/><circle cx="134.9" cy="64.7"/><circle cx="159.5" cy="68.2"/><circle cx="171" cy="61.3"/></g>
<g class="p"><path d="M52.8,192.4L86,74.7L105.1,82.8L123.4,82.5L147.5,93.8L171.3,88.6"/><circle cx="52.8" cy="192.4"/><circle cx="86" cy="74.7"/><circle cx="105.1" cy="82.8"/><circle cx="123.4" cy="82.5"/><circle cx="147.5" cy="93.8"/><circle cx="171.3" cy="88.6"/></g>
<g class="p"><path d="M56.8,95.1L63.1,69.8L82.9,64L101.2,55.8"/><circle cx="56.8" cy="95.1"/><circle cx="63.1" cy="69.8"/><circle cx="82.9" cy="64"/><circle cx="101.2" cy="55.8"/></g>
<g class="p"><path d="M50.9,81.4L54.5,73.6L71.4,76.1L88,71.5L111.9,83.2L125.4,83L150.4,93.2L159.9,89.1"/><circle cx="50.9" cy="81.4"/><circle cx="54.5" cy="73.6"/><circle cx="71.4" cy="76.1"/><circle cx="88" cy="71.5"/><circle cx="111.9" cy="83.2"/><circle cx="125.4" cy="83"/><circle cx="150.4" cy="93.2"/><circle cx="159.9" cy="89.1"/></g>
<g class="p"><path d="M51.2,187.1L60.7,187L75.5,187L89.7,188.2L97.8,189.4L115.1,186.6L126.7,190.4L137.7,187.4L152.9,195.4"/><circle cx="51.2" cy="187.1"/><circle cx="60.7" cy="187"/><circle cx="75.5" cy="187"/><circle cx="89.7" cy="188.2"/><circle cx="97.8" cy="189.4"/><circle cx="115.1" cy="186.6"/><circle cx="126.7" cy="190.4"/><circle cx="137.7" cy="187.4"/><circle cx="152.9" cy="195.4"/></g>
<g class="t"><path d="M63,130.9L72.5,96.1L82,81.1L97.6,68.2"/><circle cx="63" cy="130.9"/><circle cx="72.5" cy="96.1"/><circle cx="82" cy="81.1"/><circle cx="97.6" cy="68.2"/></g>
<g class="t"><path d="M57.4,192.3L98.7,82.8L117.9,85.7L135.2,78.1L155,82.6L170.1,83.1L180.7,90.3"/><circle cx="57.4" cy="192.3"/><circle cx="98.7" cy="82.8"/><circle cx="117.9" cy="85.7"/><circle cx="135.2" cy="78.1"/><circle cx="155" cy="82.6"/><circle cx="170.1" cy="83.1"/><circle cx="180.7" cy="90.3"/></g>
<g class="p"><path d="M56.5,195L69.5,211.4L79.8,188.8L99,194.7L111.9,196.4L125.4,192.9L143.9,193.1L153.9,190.9L171.8,185.5"/><circle cx="56.5" cy="195"/><circle cx="69.5" cy="211.4"/><circle cx="79.8" cy="188.8"/><circle cx="99" cy="194.7"/><circle cx="111.9" cy="196.4"/><circle cx="125.4" cy="192.9"/><circle cx="143.9" cy="193.1"/><circle cx="153.9" cy="190.9"/><circle cx="171.8" cy="185.5"/></g>
<g class="t"><path d="M55.2,108L67.9,108.4L89.5,107L98.8,114L116.2,122.6L132.9,126.4L152.1,189.7L170.4,190.8"/><circle cx="55.2" cy="108"/><circle cx="67.9" cy="108.4"/><circle cx="89.5" cy="107"/><circle cx="98.8" cy="114"/><circle cx="116.2" cy="122.6"/><circle cx="132.9" cy="126.4"/><circle cx="152.1" cy="189.7"/><circle cx="170.4" cy="190.8"/></g>
<g class="p"><path d="M52.3,186.7L76.1,69L84.3,71.6L98.7,71.7L122.3,78.6L136.2,82.9L146.6,77L167.4,85"/><circle cx="52.3" cy="186.7"/><circle cx="76.1" cy="69"/><circle cx="84.3" cy="71.6"/><circle cx="98.7" cy="71.7"/><circle cx="122.3" cy="78.6"/><circle cx="136.2" cy="82.9"/><circle cx="146.6" cy="77"/><circle cx="167.4" cy="85"/></g>
<g class="p"><path d="M50.5,90.1L57.3,68.9L69.5,62.3L89.2,61.5"/><circle cx="50.5" cy="90.1"/><circle cx="57.3" cy="68.9"/><circle cx="69.5" cy="62.3"/><circle cx="89.2" cy="61.5"/></g>
<g class="p"><path d="M60.3,187.8L78.6,190L90.2,192L100.9,191.4L115,193.6L125.3,188.6L134.8,190.7L152.4,190.2L162.7,192.8"/><circle cx="60.3" cy="187.8"/><circle cx="78.6" cy="190"/><circle cx="90.2" cy="192"/><circle cx="100.9" cy="191.4"/><circle cx="115" cy="193.6"/><circle cx="125.3" cy="188.6"/><circle cx="134.8" cy="190.7"/><circle cx="152.4" cy="190.2"/><circle cx="162.7" cy="192.8"/></g>
<g class="p"><path d="M59.1,189.8L70.3,191.7L89.8,187.4L107.5,189.9L126.9,201.1L135.5,191.7L154.3,190.9L171.6,188.8"/><circle cx="59.1" cy="189.8"/><circle cx="70.3" cy="191.7"/><circle cx="89.8" cy="187.4"/><circle cx="107.5" cy="189.9"/><circle cx="126.9" cy="201.1"/><circle cx="135.5" cy="191.7"/><circle cx="154.3" cy="190.9"/><circle cx="171.6" cy="188.8"/></g>
<g class="p"><path d="M53.2,192L71.8,192.2L84.1,193.4L99.3,191.9L110.2,190.8L130.1,192L140.5,187.4L149.4,189.6L161.1,192.2L179.6,210.2"/><circle cx="53.2" cy="192"/><circle cx="71.8" cy="192.2"/><circle cx="84.1" cy="193.4"/><circle cx="99.3" cy="191.9"/><circle cx="110.2" cy="190.8"/><circle cx="130.1" cy="192"/><circle cx="140.5" cy="187.4"/><circle cx="149.4" cy="189.6"/><circle cx="161.1" cy="192.2"/><circle cx="179.6" cy="210.2"/></g>
<g class="t"><path d="M52.3,186.8L86.6,83.2L95.2,79.7L118.8,80.1L130.2,79.6L138.4,80.1L160,81.8L168,86.4"/><circle cx="52.3" cy="186.8"/><circle cx="86.6" cy="83.2"/><circle cx="95.2" cy="79.7"/><circle cx="118.8" cy="80.1"/><circle cx="130.2" cy="79.6"/><circle cx="138.4" cy="80.1"/><circle cx="160" cy="81.8"/><circle cx="168" cy="86.4"/></g>
<g class="p"><path d="M52.5,191.8L61.2,193.4L76.5,191.8L92.9,189.6L104.9,191.7L120.4,188.5L138.6,193.1L158.4,189.4"/><circle cx="52.5" cy="191.8"/><circle cx="61.2" cy="193.4"/><circle cx="76.5" cy="191.8"/><circle cx="92.9" cy="189.6"/><circle cx="104.9" cy="191.7"/><circle cx="120.4" cy="188.5"/><circle cx="138.6" cy="193.1"/><circle cx="158.4" cy="189.4"/></g>
<g class="p"><path d="M51,187.9L63.8,185.9L76.3,206.2L94.6,184.3L105.9,186.1L113.8,191.7L121.5,190L137.2,177.2L154.5,188.1"/><circle cx="51" cy="187.9"/><circle cx="63.8" cy="185.9"/><circle cx="76.3" cy="206.2"/><circle cx="94.6" cy="184.3"/><circle cx="105.9" cy="186.1"/><circle cx="113.8" cy="191.7"/><circle cx="121.5" cy="190"/><circle cx="137.2" cy="177.2"/><circle cx="154.5" cy="188.1"/></g>
<g class="t"><path d="M52.8,190.5L99.6,62.5L122.2,66.3"/><circle cx="52.8" cy="190.5"/><circle cx="99.6" cy="62.5"/><circle cx="122.2" cy="66.3"/></g>
<g class="p"><path d="M51.9,115.2L70.2,92.1L83,80.1L106.1,104.1L125.2,95L138.5,98L163.1,108.8"/><circle cx="51.9" cy="115.2"/><circle cx="70.2" cy="92.1"/><circle cx="83" cy="80.1"/><circle cx="106.1" cy="104.1"/><circle cx="125.2" cy="95"/><circle cx="138.5" cy="98"/><circle cx="163.1" cy="108.8"/></g>
<g class="t"><path d="M62.7,204.8L71.1,190.8L80.9,191.6L98.3,193.1L118.8,191.3L131.9,195.5L149.5,192.7"/><circle cx="62.7" cy="204.8"/><circle cx="71.1" cy="190.8"/><circle cx="80.9" cy="191.6"/><circle cx="98.3" cy="193.1"/><circle cx="118.8" cy="191.3"/><circle cx="131.9" cy="195.5"/><circle cx="149.5" cy="192.7"/></g>
<g class="p"><path d="M56,121.9L58.2,109.9L74.9,73.3L96.1,61.2L115.3,67.6L129.1,68.4L141.8,68.4L161.6,78.2"/><circle cx="56" cy="121.9"/><circle cx="58.2" cy="109.9"/><circle cx="74.9" cy="73.3"/><circle cx="96.1" cy="61.2"/><circle cx="115.3" cy="67.6"/><circle cx="129.1" cy="68.4"/><circle cx="141.8" cy="68.4"/><circle cx="161.6" cy="78.2"/></g>
<g class="t"><path d="M51.5,125.7L54.4,117.1L79,72.9L99.4,72.4L111.3,76.7L120,69.4L145.4,73.8L167.9,71.5L177.7,67.8"/><circle cx="51.5" cy="125.7"/><circle cx="54.4" cy="117.1"/><circle cx="79" cy="72.9"/><circle cx="99.4" cy="72.4"/><circle cx="111.3" cy="76.7"/><circle cx="120" cy="69.4"/><circle cx="145.4" cy="73.8"/><circle cx="167.9" cy="71.5"/><circle cx="177.7" cy="67.8"/></g>
<g class="t"><path d="M53.5,190.1L100.6,117L116.3,62.9L129,68.3"/><circle cx="53.5" cy="190.1"/><circle cx="100.6" cy="117"/><circle cx="116.3" cy="62.9"/><circle cx="129" cy="68.3"/></g>
<g class="p"><path d="M59.3,189.5L70.2,58.2L86.9,50L95.6,60.4L104.1,56.9L114.5,61.2L127.6,62.5L142.6,66L162.4,66.9L174.6,68.7"/><circle cx="59.3" cy="189.5"/><circle cx="70.2" cy="58.2"/><circle cx="86.9" cy="50"/><circle cx="95.6" cy="60.4"/><circle cx="104.1" cy="56.9"/><circle cx="114.5" cy="61.2"/><circle cx="127.6" cy="62.5"/><circle cx="142.6" cy="66"/><circle cx="162.4" cy="66.9"/><circle cx="174.6" cy="68.7"/></g>
<g class="t"><path d="M54.6,137.6L61.8,92.9L76.1,66.9L87.5,68.6L95.3,57.3L121.6,68.9L140.4,67.2L149.2,69.8L168.5,81.2"/><circle cx="54.6" cy="137.6"/><circle cx="61.8" cy="92.9"/><circle cx="76.1" cy="66.9"/><circle cx="87.5" cy="68.6"/><circle cx="95.3" cy="57.3"/><circle cx="121.6" cy="68.9"/><circle cx="140.4" cy="67.2"/><circle cx="149.2" cy="69.8"/><circle cx="168.5" cy="81.2"/></g>
<g class="p"><path d="M57.8,137.5L64.7,77.4L90.3,61.7L103.3,54L116.3,53L128.1,63.3L145.2,56L158.9,53.6L175.2,72"/><circle cx="57.8" cy="137.5"/><circle cx="64.7" cy="77.4"/><circle cx="90.3" cy="61.7"/><circle cx="103.3" cy="54"/><circle cx="116.3" cy="53"/><circle cx="128.1" cy="63.3"/><circle cx="145.2" cy="56"/><circle cx="158.9" cy="53.6"/><circle cx="175.2" cy="72"/></g>
<g class="p"><path d="M53.1,87.3L76,90.9L85.7,88.5L102.9,97.2L117.3,192.8L134.5,190.5"/><circle cx="53.1" cy="87.3"/><circle cx="76" cy="90.9"/><circle cx="85.7" cy="88.5"/><circle cx="102.9" cy="97.2"/><circle cx="117.3" cy="192.8"/><circle cx="134.5" cy="190.5"/></g>
<g class="t"><path d="M59,188.4L99.6,33.7L110.9,34.5L120.2,32.8L141.6,36.9L151.4,37.3L170.1,36.4"/><circle cx="59" cy="188.4"/><circle cx="99.6" cy="33.7"/><circle cx="110.9" cy="34.5"/><circle cx="120.2" cy="32.8"/><circle cx="141.6" cy="36.9"/><circle cx="151.4" cy="37.3"/><circle cx="170.1" cy="36.4"/></g>
<g class="p"><path d="M54.4,106.4L62.1,81.9L70.6,88.3L79.6,83.4L99.1,80.1L108.8,87.7"/><circle cx="54.4" cy="106.4"/><circle cx="62.1" cy="81.9"/><circle cx="70.6" cy="88.3"/><circle cx="79.6" cy="83.4"/><circle cx="99.1" cy="80.1"/><circle cx="108.8" cy="87.7"/></g>
<g class="t"><path d="M51.3,136.8L57.1,72.4L81.6,67.2L103.7,72.4L115.7,73.3"/><circle cx="51.3" cy="136.8"/><circle cx="57.1" cy="72.4"/><circle cx="81.6" cy="67.2"/><circle cx="103.7" cy="72.4"/><circle cx="115.7" cy="73.3"/></g>
<g class="t"><path d="M53.9,190.3L73.8,183.7L83.3,187.7L95.4,189L107.4,201.7L119.3,185.5L132.1,182.6L150.5,188.4L170.2,201"/><circle cx="53.9" cy="190.3"/><circle cx="73.8" cy="183.7"/><circle cx="83.3" cy="187.7"/><circle cx="95.4" cy="189"/><circle cx="107.4" cy="201.7"/><circle cx="119.3" cy="185.5"/><circle cx="132.1" cy="182.6"/><circle cx="150.5" cy="188.4"/><circle cx="170.2" cy="201"/></g>
<g class="t"><path d="M60,133.3L76.5,61.2L99,62.7L125,60.9L135.8,57.7L144.3,66.8L165.8,64.8"/><circle cx="60" cy="133.3"/><circle cx="76.5" cy="61.2"/><circle cx="99" cy="62.7"/><circle cx="125" cy="60.9"/><circle cx="135.8" cy="57.7"/><circle cx="144.3" cy="66.8"/><circle cx="165.8" cy="64.8"/></g>
<g class="t"><path d="M53.1,164L67.5,77.8L76.8,78.4L92.8,76.6L112.2,84L130,88.2L138.9,95.9L151.6,88.1L174.8,95.6"/><circle cx="53.1" cy="164"/><circle cx="67.5" cy="77.8"/><circle cx="76.8" cy="78.4"/><circle cx="92.8" cy="76.6"/><circle cx="112.2" cy="84"/><circle cx="130" cy="88.2"/><circle cx="138.9" cy="95.9"/><circle cx="151.6" cy="88.1"/><circle cx="174.8" cy="95.6"/></g>
<g class="p"><path d="M57.4,181.8L82.2,108.8L103.5,114.6L131.8,117.7L163.7,124.3"/><circle cx="57.4" cy="181.8"/><circle cx="82.2" cy="108.8"/><circle cx="103.5" cy="114.6"/><circle cx="131.8" cy="117.7"/><circle cx="163.7" cy="124.3"/></g>
<g class="t"><path d="M75.1,123.9L94.3,130.5L115.9,137.1L125.5,144.2L140.3,141.6L159.1,145.1"/><circle cx="75.1" cy="123.9"/><circle cx="94.3" cy="130.5"/><circle cx="115.9" cy="137.1"/><circle cx="125.5" cy="144.2"/><circle cx="140.3" cy="141.6"/><circle cx="159.1" cy="145.1"/></g>
<g class="t"><path d="M71.6,115.5L84.7,129.6L104.9,131.8L124.7,128.7L144.2,131.4L167.3,127.8"/><circle cx="71.6" cy="115.5"/><circle cx="84.7" cy="129.6"/><circle cx="104.9" cy="131.8"/><circle cx="124.7" cy="128.7"/><circle cx="144.2" cy="131.4"/><circle cx="167.3" cy="127.8"/></g>
<g class="p"><path d="M52.9,148.6L59.1,115.3L73.7,89.7L88.9,85.8L105.4,75.7L125.5,86.8L133.5,90.6L145.7,81.6L164.1,88.3"/><circle cx="52.9" cy="148.6"/><circle cx="59.1" cy="115.3"/><circle cx="73.7" cy="89.7"/><circle cx="88.9" cy="85.8"/><circle cx="105.4" cy="75.7"/><circle cx="125.5" cy="86.8"/><circle cx="133.5" cy="90.6"/><circle cx="145.7" cy="81.6"/><circle cx="164.1" cy="88.3"/></g>
<g class="p"><path d="M53.6,173.1L58.6,95.7L77.9,71.2L88.7,62.5L106.8,74.3"/><circle cx="53.6" cy="173.1"/><circle cx="58.6" cy="95.7"/><circle cx="77.9" cy="71.2"/><circle cx="88.7" cy="62.5"/><circle cx="106.8" cy="74.3"/></g>
<g class="t"><path d="M54.5,128L59.2,93.1L79.8,46.7L87.6,43.5L102.9,42.1L114.9,39.2L130.5,45.8L151,52.1L159.2,38.9"/><circle cx="54.5" cy="128"/><circle cx="59.2" cy="93.1"/><circle cx="79.8" cy="46.7"/><circle cx="87.6" cy="43.5"/><circle cx="102.9" cy="42.1"/><circle cx="114.9" cy="39.2"/><circle cx="130.5" cy="45.8"/><circle cx="151" cy="52.1"/><circle cx="159.2" cy="38.9"/></g>
<g class="p"><path d="M52.1,127.7L59.5,81.1L85.7,55.5L99,51.6L124.2,49.9L147.7,54.3L162.2,55.3"/><circle cx="52.1" cy="127.7"/><circle cx="59.5" cy="81.1"/><circle cx="85.7" cy="55.5"/><circle cx="99" cy="51.6"/><circle cx="124.2" cy="49.9"/><circle cx="147.7" cy="54.3"/><circle cx="162.2" cy="55.3"/></g>
<g class="p"><path d="M54.3,109.4L77.9,69.7L87,67.4L106.6,68.9L128.8,75.2L141.5,72.8L164.5,83.6"/><circle cx="54.3" cy="109.4"/><circle cx="77.9" cy="69.7"/><circle cx="87" cy="67.4"/><circle cx="106.6" cy="68.9"/><circle cx="128.8" cy="75.2"/><circle cx="141.5" cy="72.8"/><circle cx="164.5" cy="83.6"/></g>
<g class="p"><path d="M52.4,192.8L70.3,76L84.8,79.3L93.6,85.8L109.9,82.3L122.5,84L138.3,84.7L149,91.4L158.4,93.8"/><circle cx="52.4" cy="192.8"/><circle cx="70.3" cy="76"/><circle cx="84.8" cy="79.3"/><circle cx="93.6" cy="85.8"/><circle cx="109.9" cy="82.3"/><circle cx="122.5" cy="84"/><circle cx="138.3" cy="84.7"/><circle cx="149" cy="91.4"/><circle cx="158.4" cy="93.8"/></g>
<g class="p"><path d="M50.8,128.8L76.3,55.1L92.8,54.3L114.2,59.1L137.4,65.8L149.2,69.3L173.9,56.8"/><circle cx="50.8" cy="128.8"/><circle cx="76.3" cy="55.1"/><circle cx="92.8" cy="54.3"/><circle cx="114.2" cy="59.1"/><circle cx="137.4" cy="65.8"/><circle cx="149.2" cy="69.3"/><circle cx="173.9" cy="56.8"/></g>
<g class="t"><path d="M52,72.2L74.6,80.8L96.4,90.8L115.7,94.9L133.8,95.9L149.8,192.4"/><circle cx="52" cy="72.2"/><circle cx="74.6" cy="80.8"/><circle cx="96.4" cy="90.8"/><circle cx="115.7" cy="94.9"/><circle cx="133.8" cy="95.9"/><circle cx="149.8" cy="192.4"/></g>
<g class="t"><path d="M56.4,190.9L80.7,83.3L91.6,91L115.7,81.9L140.4,90.7L158.8,93.8L166.9,92.1"/><circle cx="56.4" cy="190.9"/><circle cx="80.7" cy="83.3"/><circle cx="91.6" cy="91"/><circle cx="115.7" cy="81.9"/><circle cx="140.4" cy="90.7"/><circle cx="158.8" cy="93.8"/><circle cx="166.9" cy="92.1"/></g>
<g class="p"><path d="M58.7,189L71.8,190.3L83.9,192.3L95.3,189L103.4,186.4L117.9,186.8L126.5,192.1L146.1,184.2L158.7,194.4L177.6,190.9"/><circle cx="58.7" cy="189"/><circle cx="71.8" cy="190.3"/><circle cx="83.9" cy="192.3"/><circle cx="95.3" cy="189"/><circle cx="103.4" cy="186.4"/><circle cx="117.9" cy="186.8"/><circle cx="126.5" cy="192.1"/><circle cx="146.1" cy="184.2"/><circle cx="158.7" cy="194.4"/><circle cx="177.6" cy="190.9"/></g>
<g class="t"><path d="M59.2,185.2L78.1,79.1L86.6,77.4L104.8,81.5L125.8,82.2L136,85.4L150,90.8L173.6,86.3"/><circle cx="59.2" cy="185.2"/><circle cx="78.1" cy="79.1"/><circle cx="86.6" cy="77.4"/><circle cx="104.8" cy="81.5"/><circle cx="125.8" cy="82.2"/><circle cx="136" cy="85.4"/><circle cx="150" cy="90.8"/><circle cx="173.6" cy="86.3"/></g>
<g class="p"><path d="M57,190.8L76.7,188.3L90.6,195.3L101.6,189.5L116.6,187.9L136.4,191.5L148.2,190.2L162,188.7L169.1,192.7L179.8,194.4"/><circle cx="57" cy="190.8"/><circle cx="76.7" cy="188.3"/><circle cx="90.6" cy="195.3"/><circle cx="101.6" cy="189.5"/><circle cx="116.6" cy="187.9"/><circle cx="136.4" cy="191.5"/><circle cx="148.2" cy="190.2"/><circle cx="162" cy="188.7"/><circle cx="169.1" cy="192.7"/><circle cx="179.8" cy="194.4"/></g>
<g class="p"><path d="M55.3,161.2L60.3,118.6L85.8,51.8L101.5,52.8L116.2,47.5L129.4,50L142.5,51.9L163.8,48.1L176.2,47.7"/><circle cx="55.3" cy="161.2"/><circle cx="60.3" cy="118.6"/><circle cx="85.8" cy="51.8"/><circle cx="101.5" cy="52.8"/><circle cx="116.2" cy="47.5"/><circle cx="129.4" cy="50"/><circle cx="142.5" cy="51.9"/><circle cx="163.8" cy="48.1"/><circle cx="176.2" cy="47.7"/></g>
<g class="p"><path d="M51.7,94.9L70.8,77.5L90.3,75.1L111.1,78.7L128,89L154.5,81L170,95.3"/><circle cx="51.7" cy="94.9"/><circle cx="70.8" cy="77.5"/><circle cx="90.3" cy="75.1"/><circle cx="111.1" cy="78.7"/><circle cx="128" cy="89"/><circle cx="154.5" cy="81"/><circle cx="170" cy="95.3"/></g>
<g class="t"><path d="M56.7,188.5L70.4,42.5L78.7,41.9L100.2,54L116.4,43.9L138.3,58.2L159.8,55.6"/><circle cx="56.7" cy="188.5"/><circle cx="70.4" cy="42.5"/><circle cx="78.7" cy="41.9"/><circle cx="100.2" cy="54"/><circle cx="116.4" cy="43.9"/><circle cx="138.3" cy="58.2"/><circle cx="159.8" cy="55.6"/></g>
<g class="t"><path d="M62.7,189.5L72.1,192.5L85.2,189.5L93.8,189.8L107.3,190.2L118.3,185.1L125.4,188.6L144.4,188.9L164.1,204.2"/><circle cx="62.7" cy="189.5"/><circle cx="72.1" cy="192.5"/><circle cx="85.2" cy="189.5"/><circle cx="93.8" cy="189.8"/><circle cx="107.3" cy="190.2"/><circle cx="118.3" cy="185.1"/><circle cx="125.4" cy="188.6"/><circle cx="144.4" cy="188.9"/><circle cx="164.1" cy="204.2"/></g>
<g class="p"><path d="M56.9,185L76.1,185.1L92.5,191.9L103.5,183.5L120.4,178L130.9,186.2L141.4,186.1L152.3,185.9L166.3,187"/><circle cx="56.9" cy="185"/><circle cx="76.1" cy="185.1"/><circle cx="92.5" cy="191.9"/><circle cx="103.5" cy="183.5"/><circle cx="120.4" cy="178"/><circle cx="130.9" cy="186.2"/><circle cx="141.4" cy="186.1"/><circle cx="152.3" cy="185.9"/><circle cx="166.3" cy="187"/></g>
<g class="p"><path d="M51.4,189.4L66,71.2L88.6,65.8L105,70L126.4,79.2L138.5,70.9L158.4,79.6L179.2,76.8"/><circle cx="51.4" cy="189.4"/><circle cx="66" cy="71.2"/><circle cx="88.6" cy="65.8"/><circle cx="105" cy="70"/><circle cx="126.4" cy="79.2"/><circle cx="138.5" cy="70.9"/><circle cx="158.4" cy="79.6"/><circle cx="179.2" cy="76.8"/></g>
<g class="p"><path d="M52.5,120.9L68.9,81.5L95.4,58.1L119,76.5L131.1,80.6"/><circle cx="52.5" cy="120.9"/><circle cx="68.9" cy="81.5"/><circle cx="95.4" cy="58.1"/><circle cx="119" cy="76.5"/><circle cx="131.1" cy="80.6"/></g>
<g class="t"><path d="M55.3,190.9L97,54.1"/><circle cx="55.3" cy="190.9"/><circle cx="97" cy="54.1"/></g>
<g class="p"><path d="M54.8,191.6L74,194.5L81.4,192.8L94.8,193L110.9,196.1L131.3,194.9L149.6,193.2L157.6,194L170.1,191.9"/><circle cx="54.8" cy="191.6"/><circle cx="74" cy="194.5"/><circle cx="81.4" cy="192.8"/><circle cx="94.8" cy="193"/><circle cx="110.9" cy="196.1"/><circle cx="131.3" cy="194.9"/><circle cx="149.6" cy="193.2"/><circle cx="157.6" cy="194"/><circle cx="170.1" cy="191.9"/></g>
<g class="t"><path d="M57.9,191L69.1,190.6L88.1,189.8L101,187L118.2,188.5L138.4,193.3L151.5,190.2L164.3,190.7"/><circle cx="57.9" cy="191"/><circle cx="69.1" cy="190.6"/><circle cx="88.1" cy="189.8"/><circle cx="101" cy="187"/><circle cx="118.2" cy="188.5"/><circle cx="138.4" cy="193.3"/><circle cx="151.5" cy="190.2"/><circle cx="164.3" cy="190.7"/></g>
<g class="t"><path d="M51.1,142.8L54.3,110.5L64.4,62.4L83.5,60.1L91.6,69.8L105.4,63.2"/><circle cx="51.1" cy="142.8"/><circle cx="54.3" cy="110.5"/><circle cx="64.4" cy="62.4"/><circle cx="83.5" cy="60.1"/><circle cx="91.6" cy="69.8"/><circle cx="105.4" cy="63.2"/></g>
<g class="p"><path d="M53.9,194.4L61.1,211.3L70.2,192.2L89.1,186.7L108.7,193.6L125.4,190.7L141.6,192.7L158.5,189.7L167.2,193"/><circle cx="53.9" cy="194.4"/><circle cx="61.1" cy="211.3"/><circle cx="70.2" cy="192.2"/><circle cx="89.1" cy="186.7"/><circle cx="108.7" cy="193.6"/><circle cx="125.4" cy="190.7"/><circle cx="141.6" cy="192.7"/><circle cx="158.5" cy="189.7"/><circle cx="167.2" cy="193"/></g>
<g class="t"><path d="M55.9,133.9L60.7,101.1L75.2,70.7L90.5,71.4L99.8,73.4L110.4,75.8L126.2,81.3"/><circle cx="55.9" cy="133.9"/><circle cx="60.7" cy="101.1"/><circle cx="75.2" cy="70.7"/><circle cx="90.5" cy="71.4"/><circle cx="99.8" cy="73.4"/><circle cx="110.4" cy="75.8"/><circle cx="126.2" cy="81.3"/></g>
<g class="t"><path d="M53.4,189.5L69.7,186.2L87.4,190.6L97.9,189.9L117.8,193.5L133.3,189L143.4,189.1L163.5,189.1L170.7,178.2"/><circle cx="53.4" cy="189.5"/><circle cx="69.7" cy="186.2"/><circle cx="87.4" cy="190.6"/><circle cx="97.9" cy="189.9"/><circle cx="117.8" cy="193.5"/><circle cx="133.3" cy="189"/><circle cx="143.4" cy="189.1"/><circle cx="163.5" cy="189.1"/><circle cx="170.7" cy="178.2"/></g>
<g class="p"><path d="M61.2,190.7L78.1,188.9L95.8,191.9L106.2,191.1L118.8,188.6L138.2,191.1L150.5,188.1L162.2,187.7"/><circle cx="61.2" cy="190.7"/><circle cx="78.1" cy="188.9"/><circle cx="95.8" cy="191.9"/><circle cx="106.2" cy="191.1"/><circle cx="118.8" cy="188.6"/><circle cx="138.2" cy="191.1"/><circle cx="150.5" cy="188.1"/><circle cx="162.2" cy="187.7"/></g>
<g class="p"><path d="M54.2,187.2L90.1,65.6L103.5,83.1L117.2,71.8L137.2,79.7"/><circle cx="54.2" cy="187.2"/><circle cx="90.1" cy="65.6"/><circle cx="103.5" cy="83.1"/><circle cx="117.2" cy="71.8"/><circle cx="137.2" cy="79.7"/></g>
<g class="t"><path d="M55.5,194.8L96.8,89.9L104.2,54L112.9,49.6L121.2,55.3L132,62L140.1,54.2L150.7,54.3L163.9,57.3L180,53.2"/><circle cx="55.5" cy="194.8"/><circle cx="96.8" cy="89.9"/><circle cx="104.2" cy="54"/><circle cx="112.9" cy="49.6"/><circle cx="121.2" cy="55.3"/><circle cx="132" cy="62"/><circle cx="140.1" cy="54.2"/><circle cx="150.7" cy="54.3"/><circle cx="163.9" cy="57.3"/><circle cx="180" cy="53.2"/></g>
<g class="p"><path d="M69.4,142.3L76.6,92.9L100.8,69.5"/><circle cx="69.4" cy="142.3"/><circle cx="76.6" cy="92.9"/><circle cx="100.8" cy="69.5"/></g>
<g class="p"><path d="M71.6,111L86.8,117.2L99.9,122.1L133.3,132.3L152.4,142.9L170.8,142.9"/><circle cx="71.6" cy="111"/><circle cx="86.8" cy="117.2"/><circle cx="99.9" cy="122.1"/><circle cx="133.3" cy="132.3"/><circle cx="152.4" cy="142.9"/><circle cx="170.8" cy="142.9"/></g>
<g class="t"><path d="M55.2,92.3L69.1,60.5L95.1,58.9L106.9,56L132.5,48.1L157.7,56.1"/><circle cx="55.2" cy="92.3"/><circle cx="69.1" cy="60.5"/><circle cx="95.1" cy="58.9"/><circle cx="106.9" cy="56"/><circle cx="132.5" cy="48.1"/><circle cx="157.7" cy="56.1"/></g>
<g class="t"><path d="M53.2,192.2L71.1,194.1L85.2,192L99.4,191.5L112.7,194.4L125.3,194.7L139.6,187.2L157,197.2L171.6,192.3"/><circle cx="53.2" cy="192.2"/><circle cx="71.1" cy="194.1"/><circle cx="85.2" cy="192"/><circle cx="99.4" cy="191.5"/><circle cx="112.7" cy="194.4"/><circle cx="125.3" cy="194.7"/><circle cx="139.6" cy="187.2"/><circle cx="157" cy="197.2"/><circle cx="171.6" cy="192.3"/></g>
<g class="p"><path d="M61.9,183.4L81.6,180.5L96.7,190L116.3,204.1L136.4,187.5L156.3,181.6L174.6,189.8"/><circle cx="61.9" cy="183.4"/><circle cx="81.6" cy="180.5"/><circle cx="96.7" cy="190"/><circle cx="116.3" cy="204.1"/><circle cx="136.4" cy="187.5"/><circle cx="156.3" cy="181.6"/><circle cx="174.6" cy="189.8"/></g>
<g class="p"><path d="M57.1,190.7L92.9,44.8L105.5,44.1L126.1,48.2L138.1,47.2L151.4,45.8L161.4,44.6L170.2,48.6"/><circle cx="57.1" cy="190.7"/><circle cx="92.9" cy="44.8"/><circle cx="105.5" cy="44.1"/><circle cx="126.1" cy="48.2"/><circle cx="138.1" cy="47.2"/><circle cx="151.4" cy="45.8"/><circle cx="161.4" cy="44.6"/><circle cx="170.2" cy="48.6"/></g>
<g class="t"><path d="M52,94.4L74.5,61.5L95.5,65.6"/><circle cx="52" cy="94.4"/><circle cx="74.5" cy="61.5"/><circle cx="95.5" cy="65.6"/></g>
<g class="t"><path d="M57.2,159.2L64.7,102.9L75.6,77.7L97.6,68.6L114.6,69.6L139,76.3L146.9,72.5L171.2,69.9"/><circle cx="57.2" cy="159.2"/><circle cx="64.7" cy="102.9"/><circle cx="75.6" cy="77.7"/><circle cx="97.6" cy="68.6"/><circle cx="114.6" cy="69.6"/><circle cx="139" cy="76.3"/><circle cx="146.9" cy="72.5"/><circle cx="171.2" cy="69.9"/></g>
<g class="p"><path d="M56,150.6L60.3,112.2L80.7,71.7L102.2,67.5L116.2,65.9L137.6,74.6L151.6,72.6L162.1,76L171.6,77.9"/><circle cx="56" cy="150.6"/><circle cx="60.3" cy="112.2"/><circle cx="80.7" cy="71.7"/><circle cx="102.2" cy="67.5"/><circle cx="116.2" cy="65.9"/><circle cx="137.6" cy="74.6"/><circle cx="151.6" cy="72.6"/><circle cx="162.1" cy="76"/><circle cx="171.6" cy="77.9"/></g>
<g class="t"><path d="M52,154.4L74.7,76.1L88.4,77.2L110.6,79"/><circle cx="52" cy="154.4"/><circle cx="74.7" cy="76.1"/><circle cx="88.4" cy="77.2"/><circle cx="110.6" cy="79"/></g>
<g class="p"><path d="M50.6,189.9L69.4,55.5L81.3,63.8L95.3,53.1L108.8,51.2L117.3,59L132,61L145.6,63.1"/><circle cx="50.6" cy="189.9"/><circle cx="69.4" cy="55.5"/><circle cx="81.3" cy="63.8"/><circle cx="95.3" cy="53.1"/><circle cx="108.8" cy="51.2"/><circle cx="117.3" cy="59"/><circle cx="132" cy="61"/><circle cx="145.6" cy="63.1"/></g>
<g class="p"><path d="M55.8,162.2L75.8,80.6L88.2,79.4L105.8,76.3"/><circle cx="55.8" cy="162.2"/><circle cx="75.8" cy="80.6"/><circle cx="88.2" cy="79.4"/><circle cx="105.8" cy="76.3"/></g>
<g class="p"><path d="M55.3,186.1L65.5,186L81.4,187.1L95.4,193L103.3,188.7L121.3,194.1L135.6,190.2L151.4,205.3L169,193.1"/><circle cx="55.3" cy="186.1"/><circle cx="65.5" cy="186"/><circle cx="81.4" cy="187.1"/><circle cx="95.4" cy="193"/><circle cx="103.3" cy="188.7"/><circle cx="121.3" cy="194.1"/><circle cx="135.6" cy="190.2"/><circle cx="151.4" cy="205.3"/><circle cx="169" cy="193.1"/></g>
<g class="p"><path d="M55.1,89L70.6,91.8L91.9,82.4L108.5,85.8L116.5,92.1L136.1,85L148.2,84.9L162.4,94.6"/><circle cx="55.1" cy="89"/><circle cx="70.6" cy="91.8"/><circle cx="91.9" cy="82.4"/><circle cx="108.5" cy="85.8"/><circle cx="116.5" cy="92.1"/><circle cx="136.1" cy="85"/><circle cx="148.2" cy="84.9"/><circle cx="162.4" cy="94.6"/></g>
<g class="t"><path d="M50.8,85.7L56.6,80.5L71.4,62.5L91.4,57.4L105.8,66.6L128.6,57.8L149.1,65"/><circle cx="50.8" cy="85.7"/><circle cx="56.6" cy="80.5"/><circle cx="71.4" cy="62.5"/><circle cx="91.4" cy="57.4"/><circle cx="105.8" cy="66.6"/><circle cx="128.6" cy="57.8"/><circle cx="149.1" cy="65"/></g>
<g class="t"><path d="M53.3,101.1L63.9,85.6L80,84.5L95.9,78.3L116.4,92.3L127.4,88.4L139.3,79.2L163.7,83.7L178.3,88.9"/><circle cx="53.3" cy="101.1"/><circle cx="63.9" cy="85.6"/><circle cx="80" cy="84.5"/><circle cx="95.9" cy="78.3"/><circle cx="116.4" cy="92.3"/><circle cx="127.4" cy="88.4"/><circle cx="139.3" cy="79.2"/><circle cx="163.7" cy="83.7"/><circle cx="178.3" cy="88.9"/></g>
<g class="t"><path d="M51.9,127.6L62.9,87.7L89.3,65.6L99.4,60.5L112.9,76.6L133.4,66.9L145.1,63.5L162.5,76.9L171.2,72.9"/><circle cx="51.9" cy="127.6"/><circle cx="62.9" cy="87.7"/><circle cx="89.3" cy="65.6"/><circle cx="99.4" cy="60.5"/><circle cx="112.9" cy="76.6"/><circle cx="133.4" cy="66.9"/><circle cx="145.1" cy="63.5"/><circle cx="162.5" cy="76.9"/><circle cx="171.2" cy="72.9"/></g>
<g class="t"><path d="M51.5,126.2L55.7,103L76.5,41.3L88,34.7L106.3,43.1L114.1,43.1L121.9,45.3L148.4,41.6L168.1,39.2L180.3,43.3"/><circle cx="51.5" cy="126.2"/><circle cx="55.7" cy="103"/><circle cx="76.5" cy="41.3"/><circle cx="88" cy="34.7"/><circle cx="106.3" cy="43.1"/><circle cx="114.1" cy="43.1"/><circle cx="121.9" cy="45.3"/><circle cx="148.4" cy="41.6"/><circle cx="168.1" cy="39.2"/><circle cx="180.3" cy="43.3"/></g>
<g class="p"><path d="M51.3,152.3L54.6,117.4L74.3,85.7L98.1,86.7L117.4,82.4L139.1,89L162.1,85.6L175.8,92.3"/><circle cx="51.3" cy="152.3"/><circle cx="54.6" cy="117.4"/><circle cx="74.3" cy="85.7"/><circle cx="98.1" cy="86.7"/><circle cx="117.4" cy="82.4"/><circle cx="139.1" cy="89"/><circle cx="162.1" cy="85.6"/><circle cx="175.8" cy="92.3"/></g>
<g class="t"><path d="M51.1,188L67.1,126.9L77.3,55.1L95.7,58.4L111.7,58.5L127.4,60L146.9,58.5L164.7,55.3"/><circle cx="51.1" cy="188"/><circle cx="67.1" cy="126.9"/><circle cx="77.3" cy="55.1"/><circle cx="95.7" cy="58.4"/><circle cx="111.7" cy="58.5"/><circle cx="127.4" cy="60"/><circle cx="146.9" cy="58.5"/><circle cx="164.7" cy="55.3"/></g>
<g class="t"><path d="M50.6,157.7L63.7,62.1L86.1,68.7L109,57.9L116.8,67.5"/><circle cx="50.6" cy="157.7"/><circle cx="63.7" cy="62.1"/><circle cx="86.1" cy="68.7"/><circle cx="109" cy="57.9"/><circle cx="116.8" cy="67.5"/></g>
<g class="t"><path d="M50.3,135L54.2,77.4L69.4,43L85.2,44.8L108,60.5L119.5,46.3L137.3,60.4L150.7,62.8L175.4,70.3"/><circle cx="50.3" cy="135"/><circle cx="54.2" cy="77.4"/><circle cx="69.4" cy="43"/><circle cx="85.2" cy="44.8"/><circle cx="108" cy="60.5"/><circle cx="119.5" cy="46.3"/><circle cx="137.3" cy="60.4"/><circle cx="150.7" cy="62.8"/><circle cx="175.4" cy="70.3"/></g>
<g class="t"><path d="M51.3,72.4L57.5,49.4L75.2,47.5L84.2,56.5L108.6,57.6L124.8,66.6L133.1,63.3L150.8,66.5L176,69.5"/><circle cx="51.3" cy="72.4"/><circle cx="57.5" cy="49.4"/><circle cx="75.2" cy="47.5"/><circle cx="84.2" cy="56.5"/><circle cx="108.6" cy="57.6"/><circle cx="124.8" cy="66.6"/><circle cx="133.1" cy="63.3"/><circle cx="150.8" cy="66.5"/><circle cx="176" cy="69.5"/></g>
<g class="t"><path d="M50.5,126L74.6,57L84.9,60L106.7,55.4L129.1,77.9L139.8,74.2"/><circle cx="50.5" cy="126"/><circle cx="74.6" cy="57"/><circle cx="84.9" cy="60"/><circle cx="106.7" cy="55.4"/><circle cx="129.1" cy="77.9"/><circle cx="139.8" cy="74.2"/></g>
<g class="t"><path d="M58,188.5L71.6,189.5L87.3,186.4L102.7,185.7L122.6,190.4L142.6,187.9L153,192.1L161.1,189.3"/><circle cx="58" cy="188.5"/><circle cx="71.6" cy="189.5"/><circle cx="87.3" cy="186.4"/><circle cx="102.7" cy="185.7"/><circle cx="122.6" cy="190.4"/><circle cx="142.6" cy="187.9"/><circle cx="153" cy="192.1"/><circle cx="161.1" cy="189.3"/></g>
<g class="p"><path d="M53.4,159.3L61.6,89.3L83.1,88.5L96.9,83L115,84.8L136.6,79"/><circle cx="53.4" cy="159.3"/><circle cx="61.6" cy="89.3"/><circle cx="83.1" cy="88.5"/><circle cx="96.9" cy="83"/><circle cx="115" cy="84.8"/><circle cx="136.6" cy="79"/></g>
<g class="p"><path d="M55.3,189.1L102.6,156.5L110,56.6L125.3,53.7L137.6,54.8"/><circle cx="55.3" cy="189.1"/><circle cx="102.6" cy="156.5"/><circle cx="110" cy="56.6"/><circle cx="125.3" cy="53.7"/><circle cx="137.6" cy="54.8"/></g>
<g class="p"><path d="M56.1,71.8L58.3,79.1L69.5,83.4L82.4,92.2L100,84.1L119.3,90.5L142,96.1L166.8,84"/><circle cx="56.1" cy="71.8"/><circle cx="58.3" cy="79.1"/><circle cx="69.5" cy="83.4"/><circle cx="82.4" cy="92.2"/><circle cx="100" cy="84.1"/><circle cx="119.3" cy="90.5"/><circle cx="142" cy="96.1"/><circle cx="166.8" cy="84"/></g>
<g class="t"><path d="M57.6,66.7L64.2,47.1L81.2,45.7L102.1,34.9L126,42.5L137.8,46.4L151.9,51.5L176.2,45"/><circle cx="57.6" cy="66.7"/><circle cx="64.2" cy="47.1"/><circle cx="81.2" cy="45.7"/><circle cx="102.1" cy="34.9"/><circle cx="126" cy="42.5"/><circle cx="137.8" cy="46.4"/><circle cx="151.9" cy="51.5"/><circle cx="176.2" cy="45"/></g>
<g class="t"><path d="M52.2,132.2L74.8,59.4L83,63.3L96.5,54.6L115.9,62.7L129.1,62.5L152.6,59.8L173.2,72.9"/><circle cx="52.2" cy="132.2"/><circle cx="74.8" cy="59.4"/><circle cx="83" cy="63.3"/><circle cx="96.5" cy="54.6"/><circle cx="115.9" cy="62.7"/><circle cx="129.1" cy="62.5"/><circle cx="152.6" cy="59.8"/><circle cx="173.2" cy="72.9"/></g>
<g class="p"><path d="M57.9,190.8L77.3,193.5L87.9,185.1L105.6,188.6L118.8,193.2L132.7,187.7L144.5,189.8L164.3,184.6L172.3,189.6"/><circle cx="57.9" cy="190.8"/><circle cx="77.3" cy="193.5"/><circle cx="87.9" cy="185.1"/><circle cx="105.6" cy="188.6"/><circle cx="118.8" cy="193.2"/><circle cx="132.7" cy="187.7"/><circle cx="144.5" cy="189.8"/><circle cx="164.3" cy="184.6"/><circle cx="172.3" cy="189.6"/></g>
<g class="p"><path d="M55.3,146.2L66.5,101.8L77.8,95.7L99.4,89.9L109.4,89.8L125.1,94L151.1,92L174,99"/><circle cx="55.3" cy="146.2"/><circle cx="66.5" cy="101.8"/><circle cx="77.8" cy="95.7"/><circle cx="99.4" cy="89.9"/><circle cx="109.4" cy="89.8"/><circle cx="125.1" cy="94"/><circle cx="151.1" cy="92"/><circle cx="174" cy="99"/></g>
<g class="t"><path d="M50.3,193.2L101.1,40.3L112.7,38.5L125.3,36.9L142.5,38.1L157.4,42.1L166.1,39.3"/><circle cx="50.3" cy="193.2"/><circle cx="101.1" cy="40.3"/><circle cx="112.7" cy="38.5"/><circle cx="125.3" cy="36.9"/><circle cx="142.5" cy="38.1"/><circle cx="157.4" cy="42.1"/><circle cx="166.1" cy="39.3"/></g>
<g class="p"><path d="M55.7,184.5L64.4,90.6L85,92.9L101.3,80.6L112.1,94.7L126,92.6L145,91.7L161.4,100.1"/><circle cx="55.7" cy="184.5"/><circle cx="64.4" cy="90.6"/><circle cx="85" cy="92.9"/><circle cx="101.3" cy="80.6"/><circle cx="112.1" cy="94.7"/><circle cx="126" cy="92.6"/><circle cx="145" cy="91.7"/><circle cx="161.4" cy="100.1"/></g>
<g class="t"><path d="M50.7,138.7L61.7,47.3L76.5,41.7L87.1,51.5L102.2,49.3L118.9,41.6L130.4,46.3L144.5,38.9L163.3,48.1L178.5,59.1"/><circle cx="50.7" cy="138.7"/><circle cx="61.7" cy="47.3"/><circle cx="76.5" cy="41.7"/><circle cx="87.1" cy="51.5"/><circle cx="102.2" cy="49.3"/><circle cx="118.9" cy="41.6"/><circle cx="130.4" cy="46.3"/><circle cx="144.5" cy="38.9"/><circle cx="163.3" cy="48.1"/><circle cx="178.5" cy="59.1"/></g>
<g class="p"><path d="M52.9,184.1L66.8,190.9L75.5,185.8L91.5,190.9L103.8,187.3L117.8,173.7L130.9,190.5L140.1,189.6L160.5,187.9"/><circle cx="52.9" cy="184.1"/><circle cx="66.8" cy="190.9"/><circle cx="75.5" cy="185.8"/><circle cx="91.5" cy="190.9"/><circle cx="103.8" cy="187.3"/><circle cx="117.8" cy="173.7"/><circle cx="130.9" cy="190.5"/><circle cx="140.1" cy="189.6"/><circle cx="160.5" cy="187.9"/></g>
<g class="p"><path d="M54.8,159.2L62.1,85.4L75,73.8L91.2,73.6L105.9,77L124.5,77.5L149,80.3"/><circle cx="54.8" cy="159.2"/><circle cx="62.1" cy="85.4"/><circle cx="75" cy="73.8"/><circle cx="91.2" cy="73.6"/><circle cx="105.9" cy="77"/><circle cx="124.5" cy="77.5"/><circle cx="149" cy="80.3"/></g>
<g class="t"><path d="M56.3,94.4L66.7,68.4L77.6,61L94.3,56.2L106.9,60.8L130.3,57.5L149.7,54.5L175,55.1"/><circle cx="56.3" cy="94.4"/><circle cx="66.7" cy="68.4"/><circle cx="77.6" cy="61"/><circle cx="94.3" cy="56.2"/><circle cx="106.9" cy="60.8"/><circle cx="130.3" cy="57.5"/><circle cx="149.7" cy="54.5"/><circle cx="175" cy="55.1"/></g>
<g class="p"><path d="M60.1,188.7L69.2,45L79,58.6L92.4,40.8L108.4,47.4L122.6,52.9L144.7,45.4L157.3,59.1L178.1,53.1"/><circle cx="60.1" cy="188.7"/><circle cx="69.2" cy="45"/><circle cx="79" cy="58.6"/><circle cx="92.4" cy="40.8"/><circle cx="108.4" cy="47.4"/><circle cx="122.6" cy="52.9"/><circle cx="144.7" cy="45.4"/><circle cx="157.3" cy="59.1"/><circle cx="178.1" cy="53.1"/></g>
<g class="t"><path d="M55.3,187.5L83.7,135.3L105.3,43.5L120.8,53.5L136.2,39.4L153.6,46.3L168.4,47.8L177.3,48"/><circle cx="55.3" cy="187.5"/><circle cx="83.7" cy="135.3"/><circle cx="105.3" cy="43.5"/><circle cx="120.8" cy="53.5"/><circle cx="136.2" cy="39.4"/><circle cx="153.6" cy="46.3"/><circle cx="168.4" cy="47.8"/><circle cx="177.3" cy="48"/></g>
<g class="p"><path d="M58.5,142.4L70.1,119.9L89.2,107.4L97.5,101.7L112.9,110.7L135.7,119.3L156.5,121L165.5,125.4"/><circle cx="58.5" cy="142.4"/><circle cx="70.1" cy="119.9"/><circle cx="89.2" cy="107.4"/><circle cx="97.5" cy="101.7"/><circle cx="112.9" cy="110.7"/><circle cx="135.7" cy="119.3"/><circle cx="156.5" cy="121"/><circle cx="165.5" cy="125.4"/></g>
<g class="p"><path d="M54.8,102.1L60,61.3L83.2,59.7L107.6,56.9L132.6,61.4L158.4,54.7L175.3,59.9"/><circle cx="54.8" cy="102.1"/><circle cx="60" cy="61.3"/><circle cx="83.2" cy="59.7"/><circle cx="107.6" cy="56.9"/><circle cx="132.6" cy="61.4"/><circle cx="158.4" cy="54.7"/><circle cx="175.3" cy="59.9"/></g>
<g class="t"><path d="M56.4,202.7L67.6,189.9L75.1,188.9L92.4,190.1L100.5,189.8L114.2,192L128.4,186.6L135.8,189.7L144.4,192.9L158.7,190.2"/><circle cx="56.4" cy="202.7"/><circle cx="67.6" cy="189.9"/><circle cx="75.1" cy="188.9"/><circle cx="92.4" cy="190.1"/><circle cx="100.5" cy="189.8"/><circle cx="114.2" cy="192"/><circle cx="128.4" cy="186.6"/><circle cx="135.8" cy="189.7"/><circle cx="144.4" cy="192.9"/><circle cx="158.7" cy="190.2"/></g>
<g class="t"><path d="M56.3,191.5L80.9,85.3L92.9,90.4L112.9,94.2L124.5,84.7L139.7,90"/><circle cx="56.3" cy="191.5"/><circle cx="80.9" cy="85.3"/><circle cx="92.9" cy="90.4"/><circle cx="112.9" cy="94.2"/><circle cx="124.5" cy="84.7"/><circle cx="139.7" cy="90"/></g>
<g class="p"><path d="M55.8,131.5L78.1,83.6L95,76.2L104,83.7L126.9,87.3L149.5,89.9L159.9,92.3"/><circle cx="55.8" cy="131.5"/><circle cx="78.1" cy="83.6"/><circle cx="95" cy="76.2"/><circle cx="104" cy="83.7"/><circle cx="126.9" cy="87.3"/><circle cx="149.5" cy="89.9"/><circle cx="159.9" cy="92.3"/></g>
<g class="p"><path d="M54.9,202.4L70.7,188.3L87.8,190.9L105.4,186.4L118.8,186L137.9,181.4L152.2,192L163.4,191"/><circle cx="54.9" cy="202.4"/><circle cx="70.7" cy="188.3"/><circle cx="87.8" cy="190.9"/><circle cx="105.4" cy="186.4"/><circle cx="118.8" cy="186"/><circle cx="137.9" cy="181.4"/><circle cx="152.2" cy="192"/><circle cx="163.4" cy="191"/></g>
<g class="p"><path d="M56.9,149.5L65,89.3L89.6,74.2L113.5,86.7L133.2,88.3L150.4,82.9L176.7,89.5"/><circle cx="56.9" cy="149.5"/><circle cx="65" cy="89.3"/><circle cx="89.6" cy="74.2"/><circle cx="113.5" cy="86.7"/><circle cx="133.2" cy="88.3"/><circle cx="150.4" cy="82.9"/><circle cx="176.7" cy="89.5"/></g>
<g class="t"><path d="M52.5,91.8L54.8,82.2L64.1,67.3L87.6,43.3L96,50L109.6,45.2"/><circle cx="52.5" cy="91.8"/><circle cx="54.8" cy="82.2"/><circle cx="64.1" cy="67.3"/><circle cx="87.6" cy="43.3"/><circle cx="96" cy="50"/><circle cx="109.6" cy="45.2"/></g>
<g class="p"><path d="M51,191.5L70.8,192.4L91.2,193.9L100.7,180.2L109.4,187.5L120.7,188.6L127.9,177.9L145.9,183.6L162.9,193.1"/><circle cx="51" cy="191.5"/><circle cx="70.8" cy="192.4"/><circle cx="91.2" cy="193.9"/><circle cx="100.7" cy="180.2"/><circle cx="109.4" cy="187.5"/><circle cx="120.7" cy="188.6"/><circle cx="127.9" cy="177.9"/><circle cx="145.9" cy="183.6"/><circle cx="162.9" cy="193.1"/></g>
<g class="t"><path d="M54.8,188.2L63.8,183L74.6,179.6L82.6,190.1L100.8,182.9L110.3,189.4L124.1,188.4L135.1,189L142.9,189.5L157.9,188.9"/><circle cx="54.8" cy="188.2"/><circle cx="63.8" cy="183"/><circle cx="74.6" cy="179.6"/><circle cx="82.6" cy="190.1"/><circle cx="100.8" cy="182.9"/><circle cx="110.3" cy="189.4"/><circle cx="124.1" cy="188.4"/><circle cx="135.1" cy="189"/><circle cx="142.9" cy="189.5"/><circle cx="157.9" cy="188.9"/></g>
<g class="p"><path d="M62.6,189.6L70.6,180.4L90.9,192.1L105,207.1L114.6,192.5L124.3,190.6L137.1,191.2L151.7,190.2L166.3,188.9"/><circle cx="62.6" cy="189.6"/><circle cx="70.6" cy="180.4"/><circle cx="90.9" cy="192.1"/><circle cx="105" cy="207.1"/><circle cx="114.6" cy="192.5"/><circle cx="124.3" cy="190.6"/><circle cx="137.1" cy="191.2"/><circle cx="151.7" cy="190.2"/><circle cx="166.3" cy="188.9"/></g>
<g class="p"><path d="M59.6,190.6L95.8,74.9"/><circle cx="59.6" cy="190.6"/><circle cx="95.8" cy="74.9"/></g>
<g class="p"><path d="M55.9,189.3L69.8,79.8L78.3,80.2L95,74.2L107.3,83L129.1,85.1L139.8,85.5L159.4,85.2"/><circle cx="55.9" cy="189.3"/><circle cx="69.8" cy="79.8"/><circle cx="78.3" cy="80.2"/><circle cx="95" cy="74.2"/><circle cx="107.3" cy="83"/><circle cx="129.1" cy="85.1"/><circle cx="139.8" cy="85.5"/><circle cx="159.4" cy="85.2"/></g>
<path d="M50.3,145.5L50.8,142.2L51.4,138.8L51.9,135.3L52.4,131.7L53,127.8L53.5,123.6L54,119.6L54.6,115.9L55.1,112.8L55.6,110.4L56.1,108.4L56.7,106.7L57.2,105.1L57.7,103.5L58.3,101.9L58.8,100.2L59.3,98.4L59.9,96.8L60.4,95.1L60.9,93.4L61.5,91.7L62,90.1L62.5,88.4L63.1,86.6L63.6,84.9L64.1,83.3L64.5,82.4L65.9,79.5L67.3,77.1L68.7,75.1L70.2,73.6L71.6,72.6L73,71.7L74.4,70.9L75.8,70.2L77.2,69.6L78.7,69.2L80.1,69L81.5,69L82.9,69.1L84.3,69.2L85.8,69.4L87.2,69.6L88.6,69.8L90,70L91.4,70.3L92.8,70.6L94.3,70.8L95.7,71.1L97.1,71.4L98.5,71.6L99.9,71.9L101.3,72.2L102.8,72.5L104.2,72.8L105.6,73.2L107,73.6L108.4,74.1L109.9,74.5L111.3,75L112.7,75.5L114.1,76L115.5,76.4L116.9,76.9L118.4,77.4L119.8,77.8L121.2,78.2L122.6,78.6L124,79L125.5,79.4L126.9,79.7L128.3,80L129.7,80.3L131.1,80.6L132.5,80.9L134,81.1L135.4,81.4L136.8,81.6L138.2,81.9L139.6,82.1L141.1,82.4L142.5,82.6L143.9,82.9L145.3,83.1L146.7,83.4L148.1,83.7L149.6,84L151,84.2L152.4,84.5L153.8,84.8L155.2,85L156.6,85.3L158.1,85.6L159.5,85.9L160.9,86.1L162.3,86.4L163.7,86.7L165.2,86.9L166.6,87.2L168,87.5L169.4,87.8L170.8,88L172.2,88.3L173.7,88.6L175.1,88.9L176.5,89.1L177.9,89.4L179.3,89.7L180,89.8L180,110.2L179.3,110L177.9,109.7L176.5,109.5L175.1,109.2L173.7,108.9L172.2,108.6L170.8,108.4L169.4,108.1L168,107.8L166.6,107.5L165.2,107.2L163.7,106.9L162.3,106.6L160.9,106.4L159.5,106.1L158.1,105.8L156.6,105.5L155.2,105.2L153.8,104.9L152.4,104.6L151,104.3L149.6,104L148.1,103.7L146.7,103.4L145.3,103.1L143.9,102.8L142.5,102.5L141.1,102.3L139.6,102L138.2,101.7L136.8,101.4L135.4,101.1L134,100.8L132.5,100.5L131.1,100.2L129.7,99.9L128.3,99.6L126.9,99.2L125.5,98.8L124,98.5L122.6,98L121.2,97.5L119.8,97L118.4,96.4L116.9,95.8L115.5,95.1L114.1,94.4L112.7,93.7L111.3,93.1L109.9,92.4L108.4,91.7L107,91L105.6,90.3L104.2,89.7L102.8,89.1L101.3,88.5L99.9,88L98.5,87.5L97.1,87L95.7,86.5L94.3,86L92.8,85.5L91.4,85.1L90,84.7L88.6,84.3L87.2,83.9L85.8,83.6L84.3,83.4L82.9,83.3L81.5,83.2L80.1,83.2L78.7,83.6L77.2,84.2L75.8,85L74.4,86L73,87.2L71.6,88.5L70.2,89.8L68.7,91.6L67.3,93.9L65.9,96.7L64.5,99.8L64.1,100.8L63.6,102.4L63.1,104.2L62.5,106L62,107.7L61.5,109.4L60.9,111.1L60.4,112.8L59.9,114.4L59.3,116.1L58.8,117.9L58.3,119.6L57.7,121.2L57.2,122.7L56.7,124.4L56.1,126.1L55.6,128.1L55.1,130.5L54.6,133.6L54,137.3L53.5,141.3L53,145.4L52.4,149.4L51.9,153L51.4,156.4L50.8,159.9L50.3,163.2Z" fill="#4FE3CF" fill-opacity="0.5"/>
<path d="M50.3,145.5L50.8,142.2L51.4,138.8L51.9,135.3L52.4,131.7L53,127.8L53.5,123.6L54,119.6L54.6,115.9L55.1,112.8L55.6,110.4L56.1,108.4L56.7,106.7L57.2,105.1L57.7,103.5L58.3,101.9L58.8,100.2L59.3,98.4L59.9,96.8L60.4,95.1L60.9,93.4L61.5,91.7L62,90.1L62.5,88.4L63.1,86.6L63.6,84.9L64.1,83.3L64.5,82.4L65.9,79.5L67.3,77.1L68.7,75.1L70.2,73.6L71.6,72.6L73,71.7L74.4,70.9L75.8,70.2L77.2,69.6L78.7,69.2L80.1,69L81.5,69L82.9,69.1L84.3,69.2L85.8,69.4L87.2,69.6L88.6,69.8L90,70L91.4,70.3L92.8,70.6L94.3,70.8L95.7,71.1L97.1,71.4L98.5,71.6L99.9,71.9L101.3,72.2L102.8,72.5L104.2,72.8L105.6,73.2L107,73.6L108.4,74.1L109.9,74.5L111.3,75L112.7,75.5L114.1,76L115.5,76.4L116.9,76.9L118.4,77.4L119.8,77.8L121.2,78.2L122.6,78.6L124,79L125.5,79.4L126.9,79.7L128.3,80L129.7,80.3L131.1,80.6L132.5,80.9L134,81.1L135.4,81.4L136.8,81.6L138.2,81.9L139.6,82.1L141.1,82.4L142.5,82.6L143.9,82.9L145.3,83.1L146.7,83.4L148.1,83.7L149.6,84L151,84.2L152.4,84.5L153.8,84.8L155.2,85L156.6,85.3L158.1,85.6L159.5,85.9L160.9,86.1L162.3,86.4L163.7,86.7L165.2,86.9L166.6,87.2L168,87.5L169.4,87.8L170.8,88L172.2,88.3L173.7,88.6L175.1,88.9L176.5,89.1L177.9,89.4L179.3,89.7L180,89.8" fill="none" stroke="#22BDAE" stroke-width="1.5" stroke-dasharray="5,5.3" stroke-opacity="0.9"/>
<path d="M50.3,163.2L50.8,159.9L51.4,156.4L51.9,153L52.4,149.4L53,145.4L53.5,141.3L54,137.3L54.6,133.6L55.1,130.5L55.6,128.1L56.1,126.1L56.7,124.4L57.2,122.7L57.7,121.2L58.3,119.6L58.8,117.9L59.3,116.1L59.9,114.4L60.4,112.8L60.9,111.1L61.5,109.4L62,107.7L62.5,106L63.1,104.2L63.6,102.4L64.1,100.8L64.5,99.8L65.9,96.7L67.3,93.9L68.7,91.6L70.2,89.8L71.6,88.5L73,87.2L74.4,86L75.8,85L77.2,84.2L78.7,83.6L80.1,83.2L81.5,83.2L82.9,83.3L84.3,83.4L85.8,83.6L87.2,83.9L88.6,84.3L90,84.7L91.4,85.1L92.8,85.5L94.3,86L95.7,86.5L97.1,87L98.5,87.5L99.9,88L101.3,88.5L102.8,89.1L104.2,89.7L105.6,90.3L107,91L108.4,91.7L109.9,92.4L111.3,93.1L112.7,93.7L114.1,94.4L115.5,95.1L116.9,95.8L118.4,96.4L119.8,97L121.2,97.5L122.6,98L124,98.5L125.5,98.8L126.9,99.2L128.3,99.6L129.7,99.9L131.1,100.2L132.5,100.5L134,100.8L135.4,101.1L136.8,101.4L138.2,101.7L139.6,102L141.1,102.3L142.5,102.5L143.9,102.8L145.3,103.1L146.7,103.4L148.1,103.7L149.6,104L151,104.3L152.4,104.6L153.8,104.9L155.2,105.2L156.6,105.5L158.1,105.8L159.5,106.1L160.9,106.4L162.3,106.6L163.7,106.9L165.2,107.2L166.6,107.5L168,107.8L169.4,108.1L170.8,108.4L172.2,108.6L173.7,108.9L175.1,109.2L176.5,109.5L177.9,109.7L179.3,110L180,110.2" fill="none" stroke="#22BDAE" stroke-width="1.5" stroke-dasharray="5,5.3" stroke-opacity="0.9"/>
<path d="M50.3,154.4L50.8,151L51.4,147.6L51.9,144.1L52.4,140.5L53,136.6L53.5,132.5L54,128.4L54.6,124.7L55.1,121.6L55.6,119.3L56.1,117.3L56.7,115.5L57.2,113.9L57.7,112.3L58.3,110.7L58.8,109L59.3,107.3L59.9,105.6L60.4,103.9L60.9,102.2L61.5,100.6L62,98.9L62.5,97.2L63.1,95.4L63.6,93.6L64.1,92L64.5,91.1L65.9,88.1L67.3,85.5L68.7,83.3L70.2,81.7L71.6,80.5L73,79.5L74.4,78.5L75.8,77.6L77.2,76.9L78.7,76.4L80.1,76.1L81.5,76.1L82.9,76.2L84.3,76.3L85.8,76.5L87.2,76.7L88.6,77L90,77.3L91.4,77.7L92.8,78.1L94.3,78.4L95.7,78.8L97.1,79.2L98.5,79.5L99.9,79.9L101.3,80.3L102.8,80.8L104.2,81.3L105.6,81.8L107,82.3L108.4,82.9L109.9,83.4L111.3,84L112.7,84.6L114.1,85.2L115.5,85.8L116.9,86.3L118.4,86.9L119.8,87.4L121.2,87.9L122.6,88.3L124,88.7L125.5,89.1L126.9,89.5L128.3,89.8L129.7,90.1L131.1,90.4L132.5,90.7L134,91L135.4,91.3L136.8,91.5L138.2,91.8L139.6,92.1L141.1,92.3L142.5,92.6L143.9,92.9L145.3,93.1L146.7,93.4L148.1,93.7L149.6,94L151,94.3L152.4,94.6L153.8,94.8L155.2,95.1L156.6,95.4L158.1,95.7L159.5,96L160.9,96.2L162.3,96.5L163.7,96.8L165.2,97.1L166.6,97.4L168,97.6L169.4,97.9L170.8,98.2L172.2,98.5L173.7,98.7L175.1,99L176.5,99.3L177.9,99.6L179.3,99.8L180,100" fill="none" stroke="#35D3C3" stroke-width="2.6" stroke-opacity="0.85"/>
<path d="M50.3,150L50.8,147.8L51.4,145.6L51.9,143.3L52.4,140.9L53,138.5L53.5,136.1L54,133.6L54.6,130.9L55.1,127.8L55.6,124.6L56.1,121.3L56.7,118.1L57.2,115.2L57.7,112.8L58.3,111.1L58.8,109.9L59.3,108.8L59.9,107.8L60.4,107L60.9,106.2L61.5,105.6L62,104.9L62.5,104.3L63.1,103.6L63.6,103L64.1,102.3L64.5,101.8L65.9,99.5L67.3,97.2L68.7,95L70.2,93.4L71.6,92.3L73,91.4L74.4,90.5L75.8,89.7L77.2,89.1L78.7,88.7L80.1,88.5L81.5,88.5L82.9,88.6L84.3,88.7L85.8,88.9L87.2,89.1L88.6,89.3L90,89.6L91.4,89.9L92.8,90.2L94.3,90.5L95.7,90.8L97.1,91.1L98.5,91.3L99.9,91.6L101.3,91.8L102.8,92.1L104.2,92.3L105.6,92.6L107,92.8L108.4,93.1L109.9,93.3L111.3,93.6L112.7,93.8L114.1,94.1L115.5,94.3L116.9,94.6L118.4,94.9L119.8,95.1L121.2,95.4L122.6,95.6L124,95.9L125.5,96.1L126.9,96.4L128.3,96.6L129.7,96.9L131.1,97.1L132.5,97.4L134,97.6L135.4,97.9L136.8,98.1L138.2,98.4L139.6,98.6L141.1,98.9L142.5,99.1L143.9,99.4L145.3,99.6L146.7,99.9L148.1,100.2L149.6,100.4L151,100.7L152.4,101L153.8,101.3L155.2,101.5L156.6,101.8L158.1,102.1L159.5,102.4L160.9,102.6L162.3,102.9L163.7,103.2L165.2,103.5L166.6,103.8L168,104.1L169.4,104.4L170.8,104.7L172.2,105L173.7,105.3L175.1,105.6L176.5,105.9L177.9,106.2L179.3,106.5L180,106.6L180,126.1L179.3,125.9L177.9,125.5L176.5,125.1L175.1,124.7L173.7,124.3L172.2,124L170.8,123.6L169.4,123.2L168,122.9L166.6,122.5L165.2,122.2L163.7,121.8L162.3,121.5L160.9,121.1L159.5,120.8L158.1,120.4L156.6,120.1L155.2,119.8L153.8,119.5L152.4,119.1L151,118.8L149.6,118.5L148.1,118.2L146.7,117.9L145.3,117.6L143.9,117.3L142.5,117L141.1,116.7L139.6,116.4L138.2,116.2L136.8,115.9L135.4,115.6L134,115.4L132.5,115.1L131.1,114.8L129.7,114.6L128.3,114.3L126.9,114.1L125.5,113.8L124,113.6L122.6,113.3L121.2,113.1L119.8,112.8L118.4,112.6L116.9,112.3L115.5,112.1L114.1,111.9L112.7,111.6L111.3,111.4L109.9,111.2L108.4,110.9L107,110.7L105.6,110.5L104.2,110.3L102.8,110L101.3,109.8L99.9,109.6L98.5,109.4L97.1,109.2L95.7,108.9L94.3,108.7L92.8,108.4L91.4,108.2L90,107.9L88.6,107.7L87.2,107.5L85.8,107.3L84.3,107.2L82.9,107.1L81.5,107.1L80.1,107.1L78.7,107.4L77.2,107.9L75.8,108.6L74.4,109.4L73,110.3L71.6,111.4L70.2,112.5L68.7,114.2L67.3,116.4L65.9,118.9L64.5,121.2L64.1,121.7L63.6,122.4L63.1,123.1L62.5,123.7L62,124.4L61.5,125L60.9,125.7L60.4,126.5L59.9,127.3L59.3,128.2L58.8,129.2L58.3,130.4L57.7,132.1L57.2,134.4L56.7,137.2L56.1,140.2L55.6,143.5L55.1,146.6L54.6,149.6L54,152.1L53.5,154.5L53,156.9L52.4,159.1L51.9,161.4L51.4,163.5L50.8,165.6L50.3,167.7Z" fill="#E5898D" fill-opacity="0.5"/>
<path d="M50.3,150L50.8,147.8L51.4,145.6L51.9,143.3L52.4,140.9L53,138.5L53.5,136.1L54,133.6L54.6,130.9L55.1,127.8L55.6,124.6L56.1,121.3L56.7,118.1L57.2,115.2L57.7,112.8L58.3,111.1L58.8,109.9L59.3,108.8L59.9,107.8L60.4,107L60.9,106.2L61.5,105.6L62,104.9L62.5,104.3L63.1,103.6L63.6,103L64.1,102.3L64.5,101.8L65.9,99.5L67.3,97.2L68.7,95L70.2,93.4L71.6,92.3L73,91.4L74.4,90.5L75.8,89.7L77.2,89.1L78.7,88.7L80.1,88.5L81.5,88.5L82.9,88.6L84.3,88.7L85.8,88.9L87.2,89.1L88.6,89.3L90,89.6L91.4,89.9L92.8,90.2L94.3,90.5L95.7,90.8L97.1,91.1L98.5,91.3L99.9,91.6L101.3,91.8L102.8,92.1L104.2,92.3L105.6,92.6L107,92.8L108.4,93.1L109.9,93.3L111.3,93.6L112.7,93.8L114.1,94.1L115.5,94.3L116.9,94.6L118.4,94.9L119.8,95.1L121.2,95.4L122.6,95.6L124,95.9L125.5,96.1L126.9,96.4L128.3,96.6L129.7,96.9L131.1,97.1L132.5,97.4L134,97.6L135.4,97.9L136.8,98.1L138.2,98.4L139.6,98.6L141.1,98.9L142.5,99.1L143.9,99.4L145.3,99.6L146.7,99.9L148.1,100.2L149.6,100.4L151,100.7L152.4,101L153.8,101.3L155.2,101.5L156.6,101.8L158.1,102.1L159.5,102.4L160.9,102.6L162.3,102.9L163.7,103.2L165.2,103.5L166.6,103.8L168,104.1L169.4,104.4L170.8,104.7L172.2,105L173.7,105.3L175.1,105.6L176.5,105.9L177.9,106.2L179.3,106.5L180,106.6" fill="none" stroke="#D85F63" stroke-width="1.5" stroke-dasharray="5,5.3" stroke-opacity="0.9"/>
<path d="M50.3,167.7L50.8,165.6L51.4,163.5L51.9,161.4L52.4,159.1L53,156.9L53.5,154.5L54,152.1L54.6,149.6L55.1,146.6L55.6,143.5L56.1,140.2L56.7,137.2L57.2,134.4L57.7,132.1L58.3,130.4L58.8,129.2L59.3,128.2L59.9,127.3L60.4,126.5L60.9,125.7L61.5,125L62,124.4L62.5,123.7L63.1,123.1L63.6,122.4L64.1,121.7L64.5,121.2L65.9,118.9L67.3,116.4L68.7,114.2L70.2,112.5L71.6,111.4L73,110.3L74.4,109.4L75.8,108.6L77.2,107.9L78.7,107.4L80.1,107.1L81.5,107.1L82.9,107.1L84.3,107.2L85.8,107.3L87.2,107.5L88.6,107.7L90,107.9L91.4,108.2L92.8,108.4L94.3,108.7L95.7,108.9L97.1,109.2L98.5,109.4L99.9,109.6L101.3,109.8L102.8,110L104.2,110.3L105.6,110.5L107,110.7L108.4,110.9L109.9,111.2L111.3,111.4L112.7,111.6L114.1,111.9L115.5,112.1L116.9,112.3L118.4,112.6L119.8,112.8L121.2,113.1L122.6,113.3L124,113.6L125.5,113.8L126.9,114.1L128.3,114.3L129.7,114.6L131.1,114.8L132.5,115.1L134,115.4L135.4,115.6L136.8,115.9L138.2,116.2L139.6,116.4L141.1,116.7L142.5,117L143.9,117.3L145.3,117.6L146.7,117.9L148.1,118.2L149.6,118.5L151,118.8L152.4,119.1L153.8,119.5L155.2,119.8L156.6,120.1L158.1,120.4L159.5,120.8L160.9,121.1L162.3,121.5L163.7,121.8L165.2,122.2L166.6,122.5L168,122.9L169.4,123.2L170.8,123.6L172.2,124L173.7,124.3L175.1,124.7L176.5,125.1L177.9,125.5L179.3,125.9L180,126.1" fill="none" stroke="#D85F63" stroke-width="1.5" stroke-dasharray="5,5.3" stroke-opacity="0.9"/>
<path d="M50.3,158.8L50.8,156.7L51.4,154.6L51.9,152.3L52.4,150L53,147.7L53.5,145.3L54,142.8L54.6,140.2L55.1,137.2L55.6,134L56.1,130.8L56.7,127.6L57.2,124.8L57.7,122.4L58.3,120.8L58.8,119.6L59.3,118.5L59.9,117.6L60.4,116.7L60.9,116L61.5,115.3L62,114.6L62.5,114L63.1,113.4L63.6,112.7L64.1,112L64.5,111.5L65.9,109.2L67.3,106.8L68.7,104.6L70.2,102.9L71.6,101.8L73,100.9L74.4,99.9L75.8,99.1L77.2,98.5L78.7,98L80.1,97.8L81.5,97.8L82.9,97.8L84.3,97.9L85.8,98.1L87.2,98.3L88.6,98.5L90,98.8L91.4,99L92.8,99.3L94.3,99.6L95.7,99.9L97.1,100.1L98.5,100.4L99.9,100.6L101.3,100.8L102.8,101L104.2,101.3L105.6,101.5L107,101.8L108.4,102L109.9,102.2L111.3,102.5L112.7,102.7L114.1,103L115.5,103.2L116.9,103.5L118.4,103.7L119.8,104L121.2,104.2L122.6,104.5L124,104.7L125.5,105L126.9,105.2L128.3,105.5L129.7,105.7L131.1,106L132.5,106.2L134,106.5L135.4,106.7L136.8,107L138.2,107.3L139.6,107.5L141.1,107.8L142.5,108.1L143.9,108.3L145.3,108.6L146.7,108.9L148.1,109.2L149.6,109.5L151,109.8L152.4,110.1L153.8,110.4L155.2,110.7L156.6,111L158.1,111.3L159.5,111.6L160.9,111.9L162.3,112.2L163.7,112.5L165.2,112.8L166.6,113.1L168,113.5L169.4,113.8L170.8,114.1L172.2,114.5L173.7,114.8L175.1,115.1L176.5,115.5L177.9,115.8L179.3,116.2L180,116.3" fill="none" stroke="#E8605F" stroke-width="2.6" stroke-opacity="0.85"/>
</g>
<g filter="url(#bl)">
<g class="p"><path d="M203.8,152L218.3,59L230.3,55.4L243.2,48.3L256.9,51.8L277.3,49.9L296.9,61.9L317.2,63.3L327.4,61.2"/><circle cx="203.8" cy="152"/><circle cx="218.3" cy="59"/><circle cx="230.3" cy="55.4"/><circle cx="243.2" cy="48.3"/><circle cx="256.9" cy="51.8"/><circle cx="277.3" cy="49.9"/><circle cx="296.9" cy="61.9"/><circle cx="317.2" cy="63.3"/><circle cx="327.4" cy="61.2"/></g>
<g class="p"><path d="M202.3,188.4L245.9,67.3L267.4,76.3L279.6,87.3L299.4,85.7L314.8,73.4"/><circle cx="202.3" cy="188.4"/><circle cx="245.9" cy="67.3"/><circle cx="267.4" cy="76.3"/><circle cx="279.6" cy="87.3"/><circle cx="299.4" cy="85.7"/><circle cx="314.8" cy="73.4"/></g>
<g class="p"><path d="M199.4,189.3L214.5,193.5L228.2,192.6L245.7,178.8L253.2,193.6L269.1,194.2L285.4,192.9L303.9,194.5L323.8,203.6"/><circle cx="199.4" cy="189.3"/><circle cx="214.5" cy="193.5"/><circle cx="228.2" cy="192.6"/><circle cx="245.7" cy="178.8"/><circle cx="253.2" cy="193.6"/><circle cx="269.1" cy="194.2"/><circle cx="285.4" cy="192.9"/><circle cx="303.9" cy="194.5"/><circle cx="323.8" cy="203.6"/></g>
<g class="p"><path d="M199.4,85.4L217.5,90.5L236.7,88.8L254.1,92.9L271.3,104.6L282.3,108.4L293.3,188.2L305.2,189.7L322.5,189"/><circle cx="199.4" cy="85.4"/><circle cx="217.5" cy="90.5"/><circle cx="236.7" cy="88.8"/><circle cx="254.1" cy="92.9"/><circle cx="271.3" cy="104.6"/><circle cx="282.3" cy="108.4"/><circle cx="293.3" cy="188.2"/><circle cx="305.2" cy="189.7"/><circle cx="322.5" cy="189"/></g>
<g class="p"><path d="M210,190.1L219.4,192.5L227,192.3L238.9,184.9L259,187.7L266.3,193.3L285.3,193.1L295.9,192.2L308.1,179.3L317,193.3"/><circle cx="210" cy="190.1"/><circle cx="219.4" cy="192.5"/><circle cx="227" cy="192.3"/><circle cx="238.9" cy="184.9"/><circle cx="259" cy="187.7"/><circle cx="266.3" cy="193.3"/><circle cx="285.3" cy="193.1"/><circle cx="295.9" cy="192.2"/><circle cx="308.1" cy="179.3"/><circle cx="317" cy="193.3"/></g>
<g class="t"><path d="M208.7,190.4L222.8,69L247.2,63.5L256.8,62.6L267.8,70.9L279.4,61.4L291.1,72.9L298.9,77.7L320.2,74.8"/><circle cx="208.7" cy="190.4"/><circle cx="222.8" cy="69"/><circle cx="247.2" cy="63.5"/><circle cx="256.8" cy="62.6"/><circle cx="267.8" cy="70.9"/><circle cx="279.4" cy="61.4"/><circle cx="291.1" cy="72.9"/><circle cx="298.9" cy="77.7"/><circle cx="320.2" cy="74.8"/></g>
<g class="p"><path d="M200.4,189.1L215.6,188.3L226.9,187L244.2,189.4L263.2,188.1L278.8,187.6L296.1,194L313.4,184.9"/><circle cx="200.4" cy="189.1"/><circle cx="215.6" cy="188.3"/><circle cx="226.9" cy="187"/><circle cx="244.2" cy="189.4"/><circle cx="263.2" cy="188.1"/><circle cx="278.8" cy="187.6"/><circle cx="296.1" cy="194"/><circle cx="313.4" cy="184.9"/></g>
<g class="p"><path d="M208,192.4L219.1,187.7L232.4,192L248.6,190.7L268.7,181.2L289.2,190.5L305.8,188.6"/><circle cx="208" cy="192.4"/><circle cx="219.1" cy="187.7"/><circle cx="232.4" cy="192"/><circle cx="248.6" cy="190.7"/><circle cx="268.7" cy="181.2"/><circle cx="289.2" cy="190.5"/><circle cx="305.8" cy="188.6"/></g>
<g class="p"><path d="M206.4,79.3L221,84.3L244.7,80.3L257.7,78.8"/><circle cx="206.4" cy="79.3"/><circle cx="221" cy="84.3"/><circle cx="244.7" cy="80.3"/><circle cx="257.7" cy="78.8"/></g>
<g class="p"><path d="M209.3,174.1L216.7,184.6L226.1,189.8L243.4,195.7L254.2,185.6L273,191.4L287.6,184.9L306.5,191.1L314.8,190"/><circle cx="209.3" cy="174.1"/><circle cx="216.7" cy="184.6"/><circle cx="226.1" cy="189.8"/><circle cx="243.4" cy="195.7"/><circle cx="254.2" cy="185.6"/><circle cx="273" cy="191.4"/><circle cx="287.6" cy="184.9"/><circle cx="306.5" cy="191.1"/><circle cx="314.8" cy="190"/></g>
<g class="p"><path d="M199.5,118.5L216.7,81L243.1,72.5L264.9,82.7L284.7,78.5L299.2,81L318.4,94.7"/><circle cx="199.5" cy="118.5"/><circle cx="216.7" cy="81"/><circle cx="243.1" cy="72.5"/><circle cx="264.9" cy="82.7"/><circle cx="284.7" cy="78.5"/><circle cx="299.2" cy="81"/><circle cx="318.4" cy="94.7"/></g>
<g class="t"><path d="M200.1,125.6L205.8,98L216.9,84.8L233.2,66.3L247.5,69.4"/><circle cx="200.1" cy="125.6"/><circle cx="205.8" cy="98"/><circle cx="216.9" cy="84.8"/><circle cx="233.2" cy="66.3"/><circle cx="247.5" cy="69.4"/></g>
<g class="p"><path d="M199.3,124.5L202,114.5L213.1,86.1L222.5,87.7L238.7,82.3L254.9,84.3L267,88.3L278.2,82.3L288.3,84.7"/><circle cx="199.3" cy="124.5"/><circle cx="202" cy="114.5"/><circle cx="213.1" cy="86.1"/><circle cx="222.5" cy="87.7"/><circle cx="238.7" cy="82.3"/><circle cx="254.9" cy="84.3"/><circle cx="267" cy="88.3"/><circle cx="278.2" cy="82.3"/><circle cx="288.3" cy="84.7"/></g>
<g class="p"><path d="M203.8,113.5L211,76.1L230.9,66.8L250,70.8L258.6,74.2L280.8,74.1L288.7,83.3L312.4,85.4L324.6,78.9"/><circle cx="203.8" cy="113.5"/><circle cx="211" cy="76.1"/><circle cx="230.9" cy="66.8"/><circle cx="250" cy="70.8"/><circle cx="258.6" cy="74.2"/><circle cx="280.8" cy="74.1"/><circle cx="288.7" cy="83.3"/><circle cx="312.4" cy="85.4"/><circle cx="324.6" cy="78.9"/></g>
<g class="t"><path d="M199.5,82.6L222.8,40.6L247.8,51.1L265.6,44.9L276,51.4L288.1,56.4L310.4,48.8L323.9,53.8"/><circle cx="199.5" cy="82.6"/><circle cx="222.8" cy="40.6"/><circle cx="247.8" cy="51.1"/><circle cx="265.6" cy="44.9"/><circle cx="276" cy="51.4"/><circle cx="288.1" cy="56.4"/><circle cx="310.4" cy="48.8"/><circle cx="323.9" cy="53.8"/></g>
<g class="p"><path d="M210.6,130.7L214.5,62L224.9,40L248.1,54.1L258.1,68.4L275.3,63.2L284.4,68.4L309.4,67.8L328.2,81.5"/><circle cx="210.6" cy="130.7"/><circle cx="214.5" cy="62"/><circle cx="224.9" cy="40"/><circle cx="248.1" cy="54.1"/><circle cx="258.1" cy="68.4"/><circle cx="275.3" cy="63.2"/><circle cx="284.4" cy="68.4"/><circle cx="309.4" cy="67.8"/><circle cx="328.2" cy="81.5"/></g>
<g class="p"><path d="M227.7,133.2L239,150.8L259.2,150.8L279.8,149.5L291.5,146.4"/><circle cx="227.7" cy="133.2"/><circle cx="239" cy="150.8"/><circle cx="259.2" cy="150.8"/><circle cx="279.8" cy="149.5"/><circle cx="291.5" cy="146.4"/></g>
<g class="t"><path d="M202.8,156.8L210.1,112.9L218.8,75.4L229.2,76.3L245.4,57L254.2,62.8L271.3,65.4L291.6,67.8L303.9,70.7L318.8,72.7"/><circle cx="202.8" cy="156.8"/><circle cx="210.1" cy="112.9"/><circle cx="218.8" cy="75.4"/><circle cx="229.2" cy="76.3"/><circle cx="245.4" cy="57"/><circle cx="254.2" cy="62.8"/><circle cx="271.3" cy="65.4"/><circle cx="291.6" cy="67.8"/><circle cx="303.9" cy="70.7"/><circle cx="318.8" cy="72.7"/></g>
<g class="t"><path d="M203.5,142.7L223.5,78.1L233.4,59.8L256.5,76.9L272.3,73L281.3,77.7L303,69.3L326.2,73.8"/><circle cx="203.5" cy="142.7"/><circle cx="223.5" cy="78.1"/><circle cx="233.4" cy="59.8"/><circle cx="256.5" cy="76.9"/><circle cx="272.3" cy="73"/><circle cx="281.3" cy="77.7"/><circle cx="303" cy="69.3"/><circle cx="326.2" cy="73.8"/></g>
<g class="p"><path d="M228,117.2L247.2,118.6L267.4,123.9L286.5,123.9L312,130.5L323.4,128.7"/><circle cx="228" cy="117.2"/><circle cx="247.2" cy="118.6"/><circle cx="267.4" cy="123.9"/><circle cx="286.5" cy="123.9"/><circle cx="312" cy="130.5"/><circle cx="323.4" cy="128.7"/></g>
<g class="p"><path d="M204.6,193L247.8,64L259.3,61.3L279.8,67.9L289.5,76.1L306.8,73.2L318.6,73.1"/><circle cx="204.6" cy="193"/><circle cx="247.8" cy="64"/><circle cx="259.3" cy="61.3"/><circle cx="279.8" cy="67.9"/><circle cx="289.5" cy="76.1"/><circle cx="306.8" cy="73.2"/><circle cx="318.6" cy="73.1"/></g>
<g class="p"><path d="M206.2,77.9L210.3,68.6L230.5,62.3L242.8,60.7L258.7,69L280.9,69.5L291,65.5L304.3,68.7L318.8,63.4"/><circle cx="206.2" cy="77.9"/><circle cx="210.3" cy="68.6"/><circle cx="230.5" cy="62.3"/><circle cx="242.8" cy="60.7"/><circle cx="258.7" cy="69"/><circle cx="280.9" cy="69.5"/><circle cx="291" cy="65.5"/><circle cx="304.3" cy="68.7"/><circle cx="318.8" cy="63.4"/></g>
<g class="p"><path d="M207.3,186L226.6,187.5L243,190.6L261.1,192.1L278.4,187.1L296.4,187.8L307.9,192L318.9,190.4"/><circle cx="207.3" cy="186"/><circle cx="226.6" cy="187.5"/><circle cx="243" cy="190.6"/><circle cx="261.1" cy="192.1"/><circle cx="278.4" cy="187.1"/><circle cx="296.4" cy="187.8"/><circle cx="307.9" cy="192"/><circle cx="318.9" cy="190.4"/></g>
<g class="p"><path d="M202.3,130L215.3,123.9L230.4,121.9L247,130.7L255.8,127.5L267.6,127.7L285.2,131.3L294.6,133.9"/><circle cx="202.3" cy="130"/><circle cx="215.3" cy="123.9"/><circle cx="230.4" cy="121.9"/><circle cx="247" cy="130.7"/><circle cx="255.8" cy="127.5"/><circle cx="267.6" cy="127.7"/><circle cx="285.2" cy="131.3"/><circle cx="294.6" cy="133.9"/></g>
<g class="p"><path d="M203.3,190.1L249.9,54.2L272.9,50.6L295.8,68.2"/><circle cx="203.3" cy="190.1"/><circle cx="249.9" cy="54.2"/><circle cx="272.9" cy="50.6"/><circle cx="295.8" cy="68.2"/></g>
<g class="p"><path d="M200.8,192.9L209,192.8L224.9,189.2L242.6,185.2L254.6,191.5L274.4,192.7L281.6,193.2L292.9,201.9L302.6,191.4L310.1,189.8"/><circle cx="200.8" cy="192.9"/><circle cx="209" cy="192.8"/><circle cx="224.9" cy="189.2"/><circle cx="242.6" cy="185.2"/><circle cx="254.6" cy="191.5"/><circle cx="274.4" cy="192.7"/><circle cx="281.6" cy="193.2"/><circle cx="292.9" cy="201.9"/><circle cx="302.6" cy="191.4"/><circle cx="310.1" cy="189.8"/></g>
<g class="p"><path d="M199.4,67.9L224.8,88.2L249.7,99.7"/><circle cx="199.4" cy="67.9"/><circle cx="224.8" cy="88.2"/><circle cx="249.7" cy="99.7"/></g>
<g class="t"><path d="M199.9,186.1L230.8,151.6L248.3,69.8L261,71.1L281.9,80L291.7,72.4L311.7,67.7L326.8,78.2"/><circle cx="199.9" cy="186.1"/><circle cx="230.8" cy="151.6"/><circle cx="248.3" cy="69.8"/><circle cx="261" cy="71.1"/><circle cx="281.9" cy="80"/><circle cx="291.7" cy="72.4"/><circle cx="311.7" cy="67.7"/><circle cx="326.8" cy="78.2"/></g>
<g class="t"><path d="M205.6,69.1L212.9,63.1L234.6,63L252.8,75.9L276.4,68.4"/><circle cx="205.6" cy="69.1"/><circle cx="212.9" cy="63.1"/><circle cx="234.6" cy="63"/><circle cx="252.8" cy="75.9"/><circle cx="276.4" cy="68.4"/></g>
<g class="p"><path d="M203.4,81.3L208.1,74.8L230.5,66.1L250.3,63.4L269.9,59.9L288.7,70L302.2,72L327.5,67.7"/><circle cx="203.4" cy="81.3"/><circle cx="208.1" cy="74.8"/><circle cx="230.5" cy="66.1"/><circle cx="250.3" cy="63.4"/><circle cx="269.9" cy="59.9"/><circle cx="288.7" cy="70"/><circle cx="302.2" cy="72"/><circle cx="327.5" cy="67.7"/></g>
<g class="p"><path d="M207.7,97.8L224.5,98L246.2,191.3L266.6,189.8L285.1,193.3L307.7,188.8L323.4,190.3"/><circle cx="207.7" cy="97.8"/><circle cx="224.5" cy="98"/><circle cx="246.2" cy="191.3"/><circle cx="266.6" cy="189.8"/><circle cx="285.1" cy="193.3"/><circle cx="307.7" cy="188.8"/><circle cx="323.4" cy="190.3"/></g>
<g class="p"><path d="M199.6,90.6L221.7,63.8L248.2,69.8L270.7,67.9L280.2,65.3L295,70.5L312.7,80.4"/><circle cx="199.6" cy="90.6"/><circle cx="221.7" cy="63.8"/><circle cx="248.2" cy="69.8"/><circle cx="270.7" cy="67.9"/><circle cx="280.2" cy="65.3"/><circle cx="295" cy="70.5"/><circle cx="312.7" cy="80.4"/></g>
<g class="p"><path d="M211.1,187.4L224.3,205.1L243.6,191.5L255.4,182.9L265.4,185.9L274.7,188L283.3,188.1L302.4,187.4L312.6,194.4"/><circle cx="211.1" cy="187.4"/><circle cx="224.3" cy="205.1"/><circle cx="243.6" cy="191.5"/><circle cx="255.4" cy="182.9"/><circle cx="265.4" cy="185.9"/><circle cx="274.7" cy="188"/><circle cx="283.3" cy="188.1"/><circle cx="302.4" cy="187.4"/><circle cx="312.6" cy="194.4"/></g>
<g class="p"><path d="M208.4,107.8L223.9,59.9L242.2,62.9L252.8,56.6L270.2,72.3"/><circle cx="208.4" cy="107.8"/><circle cx="223.9" cy="59.9"/><circle cx="242.2" cy="62.9"/><circle cx="252.8" cy="56.6"/><circle cx="270.2" cy="72.3"/></g>
<g class="p"><path d="M208.2,185.7L235.7,98.2L255,93.8L275.3,92.6L286.8,95L300.1,95.3L321.6,96.8"/><circle cx="208.2" cy="185.7"/><circle cx="235.7" cy="98.2"/><circle cx="255" cy="93.8"/><circle cx="275.3" cy="92.6"/><circle cx="286.8" cy="95"/><circle cx="300.1" cy="95.3"/><circle cx="321.6" cy="96.8"/></g>
<g class="p"><path d="M220.6,128.7L241.8,157.9L263.1,164.1"/><circle cx="220.6" cy="128.7"/><circle cx="241.8" cy="157.9"/><circle cx="263.1" cy="164.1"/></g>
<g class="p"><path d="M213.5,106.6L240.4,115.9L278.4,117.2L298.6,126.5L319.8,124.3"/><circle cx="213.5" cy="106.6"/><circle cx="240.4" cy="115.9"/><circle cx="278.4" cy="117.2"/><circle cx="298.6" cy="126.5"/><circle cx="319.8" cy="124.3"/></g>
<g class="p"><path d="M201.9,156.1L225.9,50.1L239.9,38.2L265.9,41.3L292.2,50.2L315.3,40.4"/><circle cx="201.9" cy="156.1"/><circle cx="225.9" cy="50.1"/><circle cx="239.9" cy="38.2"/><circle cx="265.9" cy="41.3"/><circle cx="292.2" cy="50.2"/><circle cx="315.3" cy="40.4"/></g>
<g class="t"><path d="M200.6,189.2L210.1,114.5L220.2,48.4L236.4,47.1L245.9,57.1L266.2,63.2L287.5,63.8L311.6,69.4L322.9,59.2"/><circle cx="200.6" cy="189.2"/><circle cx="210.1" cy="114.5"/><circle cx="220.2" cy="48.4"/><circle cx="236.4" cy="47.1"/><circle cx="245.9" cy="57.1"/><circle cx="266.2" cy="63.2"/><circle cx="287.5" cy="63.8"/><circle cx="311.6" cy="69.4"/><circle cx="322.9" cy="59.2"/></g>
<g class="p"><path d="M202.9,132.3L205.2,86L215.3,53.2L227.1,52.6L238.3,45.1L251.3,52L263,55L277.3,61L300.7,73.7L309.3,71.2L317.7,60.4L329.3,72.5"/><circle cx="202.9" cy="132.3"/><circle cx="205.2" cy="86"/><circle cx="215.3" cy="53.2"/><circle cx="227.1" cy="52.6"/><circle cx="238.3" cy="45.1"/><circle cx="251.3" cy="52"/><circle cx="263" cy="55"/><circle cx="277.3" cy="61"/><circle cx="300.7" cy="73.7"/><circle cx="309.3" cy="71.2"/><circle cx="317.7" cy="60.4"/><circle cx="329.3" cy="72.5"/></g>
<g class="p"><path d="M211.6,193.1L228.6,192.7L239,191.6L250.9,191.7L270.2,188.6L286.1,192.8L295,191.4L303.6,184.6L312.5,188.9"/><circle cx="211.6" cy="193.1"/><circle cx="228.6" cy="192.7"/><circle cx="239" cy="191.6"/><circle cx="250.9" cy="191.7"/><circle cx="270.2" cy="188.6"/><circle cx="286.1" cy="192.8"/><circle cx="295" cy="191.4"/><circle cx="303.6" cy="184.6"/><circle cx="312.5" cy="188.9"/></g>
<g class="p"><path d="M202.8,132.2L206,101.1L221.2,41.9L234.2,40.9L258.9,47.7L283.6,52.3L306.6,64.5L323.4,59.7"/><circle cx="202.8" cy="132.2"/><circle cx="206" cy="101.1"/><circle cx="221.2" cy="41.9"/><circle cx="234.2" cy="40.9"/><circle cx="258.9" cy="47.7"/><circle cx="283.6" cy="52.3"/><circle cx="306.6" cy="64.5"/><circle cx="323.4" cy="59.7"/></g>
<g class="p"><path d="M200.3,190.6L214.6,189.5L232.5,187.7L246.1,187.9L263.4,203.7L270.6,202L285.9,188.2L303.1,178.2L314.5,187.4"/><circle cx="200.3" cy="190.6"/><circle cx="214.6" cy="189.5"/><circle cx="232.5" cy="187.7"/><circle cx="246.1" cy="187.9"/><circle cx="263.4" cy="203.7"/><circle cx="270.6" cy="202"/><circle cx="285.9" cy="188.2"/><circle cx="303.1" cy="178.2"/><circle cx="314.5" cy="187.4"/></g>
<g class="p"><path d="M200.6,125.3L204.2,100.6L216.2,86.8L225,84L234.9,75.2L250.5,75L271.8,76L292.5,75.5L309,82.3L326.5,74.7"/><circle cx="200.6" cy="125.3"/><circle cx="204.2" cy="100.6"/><circle cx="216.2" cy="86.8"/><circle cx="225" cy="84"/><circle cx="234.9" cy="75.2"/><circle cx="250.5" cy="75"/><circle cx="271.8" cy="76"/><circle cx="292.5" cy="75.5"/><circle cx="309" cy="82.3"/><circle cx="326.5" cy="74.7"/></g>
<g class="p"><path d="M200,122.2L222.5,97.2L243.1,92.1L261.7,102.1"/><circle cx="200" cy="122.2"/><circle cx="222.5" cy="97.2"/><circle cx="243.1" cy="92.1"/><circle cx="261.7" cy="102.1"/></g>
<g class="p"><path d="M206.1,188.9L220.3,106.6L228.1,111.8L237.6,107.7L246.5,122L258.5,113.3L277.2,113.3L299.6,115.6"/><circle cx="206.1" cy="188.9"/><circle cx="220.3" cy="106.6"/><circle cx="228.1" cy="111.8"/><circle cx="237.6" cy="107.7"/><circle cx="246.5" cy="122"/><circle cx="258.5" cy="113.3"/><circle cx="277.2" cy="113.3"/><circle cx="299.6" cy="115.6"/></g>
<g class="t"><path d="M208.1,191.8L256.3,57.4L266.3,53.5L289.2,56.4"/><circle cx="208.1" cy="191.8"/><circle cx="256.3" cy="57.4"/><circle cx="266.3" cy="53.5"/><circle cx="289.2" cy="56.4"/></g>
<g class="p"><path d="M203.5,86.4L225.6,67.4L237.1,57L247.9,57L260.2,60L277.7,59.5L296,63.3L320,68.2"/><circle cx="203.5" cy="86.4"/><circle cx="225.6" cy="67.4"/><circle cx="237.1" cy="57"/><circle cx="247.9" cy="57"/><circle cx="260.2" cy="60"/><circle cx="277.7" cy="59.5"/><circle cx="296" cy="63.3"/><circle cx="320" cy="68.2"/></g>
<g class="p"><path d="M206.3,192.9L235.5,90L244.4,41.1L259.5,37.3L270.3,42L286.4,40.9L306.4,44.8L324.9,41.3"/><circle cx="206.3" cy="192.9"/><circle cx="235.5" cy="90"/><circle cx="244.4" cy="41.1"/><circle cx="259.5" cy="37.3"/><circle cx="270.3" cy="42"/><circle cx="286.4" cy="40.9"/><circle cx="306.4" cy="44.8"/><circle cx="324.9" cy="41.3"/></g>
<g class="p"><path d="M208.3,191.1L215.5,191.5L228.6,192.1L239.3,189.6L256.3,191.8L271.6,187L290.7,193.2L298.6,196.7L310.2,192.2"/><circle cx="208.3" cy="191.1"/><circle cx="215.5" cy="191.5"/><circle cx="228.6" cy="192.1"/><circle cx="239.3" cy="189.6"/><circle cx="256.3" cy="191.8"/><circle cx="271.6" cy="187"/><circle cx="290.7" cy="193.2"/><circle cx="298.6" cy="196.7"/><circle cx="310.2" cy="192.2"/></g>
<g class="t"><path d="M232.3,119.9L251.4,132.3L270.2,129.6"/><circle cx="232.3" cy="119.9"/><circle cx="251.4" cy="132.3"/><circle cx="270.2" cy="129.6"/></g>
<g class="p"><path d="M201.7,74.8L207.3,63L221.2,72L234,66.8L246.9,64.3"/><circle cx="201.7" cy="74.8"/><circle cx="207.3" cy="63"/><circle cx="221.2" cy="72"/><circle cx="234" cy="66.8"/><circle cx="246.9" cy="64.3"/></g>
<g class="t"><path d="M200.5,133.5L211.4,137.3L226.7,139.1L246.4,136.6L266.4,187.1"/><circle cx="200.5" cy="133.5"/><circle cx="211.4" cy="137.3"/><circle cx="226.7" cy="139.1"/><circle cx="246.4" cy="136.6"/><circle cx="266.4" cy="187.1"/></g>
<g class="p"><path d="M200,167.8L225,45.5L238.6,47L252,38.5L271,47.3L291.4,44.2"/><circle cx="200" cy="167.8"/><circle cx="225" cy="45.5"/><circle cx="238.6" cy="47"/><circle cx="252" cy="38.5"/><circle cx="271" cy="47.3"/><circle cx="291.4" cy="44.2"/></g>
<g class="t"><path d="M218.8,168.5L227,168.5"/><circle cx="218.8" cy="168.5"/><circle cx="227" cy="168.5"/></g>
<g class="p"><path d="M208.2,185.7L242.2,75.2L259.6,74.6L270,81.4L293.1,83.8L307.7,85.9L317.2,91"/><circle cx="208.2" cy="185.7"/><circle cx="242.2" cy="75.2"/><circle cx="259.6" cy="74.6"/><circle cx="270" cy="81.4"/><circle cx="293.1" cy="83.8"/><circle cx="307.7" cy="85.9"/><circle cx="317.2" cy="91"/></g>
<g class="t"><path d="M200.7,190.4L247.2,54.4L269.7,52L287.2,58.8L306.5,57.6L329.1,59.9"/><circle cx="200.7" cy="190.4"/><circle cx="247.2" cy="54.4"/><circle cx="269.7" cy="52"/><circle cx="287.2" cy="58.8"/><circle cx="306.5" cy="57.6"/><circle cx="329.1" cy="59.9"/></g>
<g class="p"><path d="M200.9,86.2L209.5,81.8L228.7,89.3L238.9,81.6L259.4,94L269.7,98.7"/><circle cx="200.9" cy="86.2"/><circle cx="209.5" cy="81.8"/><circle cx="228.7" cy="89.3"/><circle cx="238.9" cy="81.6"/><circle cx="259.4" cy="94"/><circle cx="269.7" cy="98.7"/></g>
<g class="p"><path d="M200.9,124.6L211.9,48.5L229.9,45.1L244.5,42.3L255.8,42.5L278.6,51.3"/><circle cx="200.9" cy="124.6"/><circle cx="211.9" cy="48.5"/><circle cx="229.9" cy="45.1"/><circle cx="244.5" cy="42.3"/><circle cx="255.8" cy="42.5"/><circle cx="278.6" cy="51.3"/></g>
<g class="p"><path d="M204.3,192.9L234.6,48.2L253.1,58.1L271.9,61.8L296.5,68.4L321.2,58.3"/><circle cx="204.3" cy="192.9"/><circle cx="234.6" cy="48.2"/><circle cx="253.1" cy="58.1"/><circle cx="271.9" cy="61.8"/><circle cx="296.5" cy="68.4"/><circle cx="321.2" cy="58.3"/></g>
<g class="p"><path d="M208.3,186.4L228.8,66.5L244.5,69.6L265.5,73.2L276.7,77.9L290,72.8L301.9,77.8L312.4,77.3L322.4,76.7"/><circle cx="208.3" cy="186.4"/><circle cx="228.8" cy="66.5"/><circle cx="244.5" cy="69.6"/><circle cx="265.5" cy="73.2"/><circle cx="276.7" cy="77.9"/><circle cx="290" cy="72.8"/><circle cx="301.9" cy="77.8"/><circle cx="312.4" cy="77.3"/><circle cx="322.4" cy="76.7"/></g>
<g class="p"><path d="M200.7,68L204.2,66.9L213.1,58.2L221.3,63.1L235.1,59L249.1,61.9L260.2,71.1L274.7,68.3L297.7,74.6"/><circle cx="200.7" cy="68"/><circle cx="204.2" cy="66.9"/><circle cx="213.1" cy="58.2"/><circle cx="221.3" cy="63.1"/><circle cx="235.1" cy="59"/><circle cx="249.1" cy="61.9"/><circle cx="260.2" cy="71.1"/><circle cx="274.7" cy="68.3"/><circle cx="297.7" cy="74.6"/></g>
<g class="p"><path d="M206.2,193.6L246.3,115.8L264.8,101.2"/><circle cx="206.2" cy="193.6"/><circle cx="246.3" cy="115.8"/><circle cx="264.8" cy="101.2"/></g>
<g class="p"><path d="M201.6,114.5L219.6,59.9L238.5,64.7L253.8,73.5L268.6,66.3L293.3,76.7"/><circle cx="201.6" cy="114.5"/><circle cx="219.6" cy="59.9"/><circle cx="238.5" cy="64.7"/><circle cx="253.8" cy="73.5"/><circle cx="268.6" cy="66.3"/><circle cx="293.3" cy="76.7"/></g>
<g class="t"><path d="M206,143.4L227.8,46.1L236.2,38.1L247,37.5L258.3,41.2L283.2,38.2L301.8,39.7L325.5,41.3"/><circle cx="206" cy="143.4"/><circle cx="227.8" cy="46.1"/><circle cx="236.2" cy="38.1"/><circle cx="247" cy="37.5"/><circle cx="258.3" cy="41.2"/><circle cx="283.2" cy="38.2"/><circle cx="301.8" cy="39.7"/><circle cx="325.5" cy="41.3"/></g>
<g class="p"><path d="M200.8,192.9L221.3,189.3L231.6,189.8L250,189.8L260.5,189.5L278.6,187.7L295,185.5L314.2,191.7"/><circle cx="200.8" cy="192.9"/><circle cx="221.3" cy="189.3"/><circle cx="231.6" cy="189.8"/><circle cx="250" cy="189.8"/><circle cx="260.5" cy="189.5"/><circle cx="278.6" cy="187.7"/><circle cx="295" cy="185.5"/><circle cx="314.2" cy="191.7"/></g>
<g class="p"><path d="M207.2,193.4L236.6,112.9L250.7,38.8L272.1,48.6L280.4,49L302.4,51.2L311.9,43.7L325.3,47.5"/><circle cx="207.2" cy="193.4"/><circle cx="236.6" cy="112.9"/><circle cx="250.7" cy="38.8"/><circle cx="272.1" cy="48.6"/><circle cx="280.4" cy="49"/><circle cx="302.4" cy="51.2"/><circle cx="311.9" cy="43.7"/><circle cx="325.3" cy="47.5"/></g>
<g class="p"><path d="M205.4,190.9L216.1,188L225.8,193.4L244.8,186.2L260.4,191L275.5,188.3L286.7,191L297.4,186.6L317.9,188.9L326.9,193.4"/><circle cx="205.4" cy="190.9"/><circle cx="216.1" cy="188"/><circle cx="225.8" cy="193.4"/><circle cx="244.8" cy="186.2"/><circle cx="260.4" cy="191"/><circle cx="275.5" cy="188.3"/><circle cx="286.7" cy="191"/><circle cx="297.4" cy="186.6"/><circle cx="317.9" cy="188.9"/><circle cx="326.9" cy="193.4"/></g>
<g class="p"><path d="M210.4,194.3L223.3,186.8L237.1,195L250.1,189.7L270.2,192.1L286.2,194.8L293.6,193.2L309.6,177.8L322.2,200.4"/><circle cx="210.4" cy="194.3"/><circle cx="223.3" cy="186.8"/><circle cx="237.1" cy="195"/><circle cx="250.1" cy="189.7"/><circle cx="270.2" cy="192.1"/><circle cx="286.2" cy="194.8"/><circle cx="293.6" cy="193.2"/><circle cx="309.6" cy="177.8"/><circle cx="322.2" cy="200.4"/></g>
<g class="p"><path d="M210.7,190.5L228.2,177L247.2,193.4L266.8,189.5L283.4,188.2L298.9,189.1L312,190.8"/><circle cx="210.7" cy="190.5"/><circle cx="228.2" cy="177"/><circle cx="247.2" cy="193.4"/><circle cx="266.8" cy="189.5"/><circle cx="283.4" cy="188.2"/><circle cx="298.9" cy="189.1"/><circle cx="312" cy="190.8"/></g>
<g class="p"><path d="M199.7,187.7L236.5,69.4L253.3,69.8L275.9,73.7L289.7,83.1L302.3,78"/><circle cx="199.7" cy="187.7"/><circle cx="236.5" cy="69.4"/><circle cx="253.3" cy="69.8"/><circle cx="275.9" cy="73.7"/><circle cx="289.7" cy="83.1"/><circle cx="302.3" cy="78"/></g>
<g class="t"><path d="M206.1,190.9L227.9,137.5L249.2,91.7L260.1,92.8L273.8,87.4L285.8,97.6L308.5,100L328.7,94.6"/><circle cx="206.1" cy="190.9"/><circle cx="227.9" cy="137.5"/><circle cx="249.2" cy="91.7"/><circle cx="260.1" cy="92.8"/><circle cx="273.8" cy="87.4"/><circle cx="285.8" cy="97.6"/><circle cx="308.5" cy="100"/><circle cx="328.7" cy="94.6"/></g>
<g class="p"><path d="M205,188L215.7,57.8L225.7,59.5L245.5,56.5L253.4,59.1L269.9,59L286,67.9L298.9,61.5L314.8,64"/><circle cx="205" cy="188"/><circle cx="215.7" cy="57.8"/><circle cx="225.7" cy="59.5"/><circle cx="245.5" cy="56.5"/><circle cx="253.4" cy="59.1"/><circle cx="269.9" cy="59"/><circle cx="286" cy="67.9"/><circle cx="298.9" cy="61.5"/><circle cx="314.8" cy="64"/></g>
<g class="t"><path d="M201.7,184.1L215.5,185.9L226.5,187.9L242.9,190.2L250.7,185.8L263.2,185.6L275.7,191.3L292.7,183.2L303.6,186.3L317.1,187.5"/><circle cx="201.7" cy="184.1"/><circle cx="215.5" cy="185.9"/><circle cx="226.5" cy="187.9"/><circle cx="242.9" cy="190.2"/><circle cx="250.7" cy="185.8"/><circle cx="263.2" cy="185.6"/><circle cx="275.7" cy="191.3"/><circle cx="292.7" cy="183.2"/><circle cx="303.6" cy="186.3"/><circle cx="317.1" cy="187.5"/></g>
<g class="p"><path d="M222.7,137.6L247.2,137.6L262,142.9L282.3,141.6"/><circle cx="222.7" cy="137.6"/><circle cx="247.2" cy="137.6"/><circle cx="262" cy="142.9"/><circle cx="282.3" cy="141.6"/></g>
<g class="p"><path d="M206.5,88.8L217.7,91L233.1,99.8L250.3,97.6L270,192.6L279.4,191.1"/><circle cx="206.5" cy="88.8"/><circle cx="217.7" cy="91"/><circle cx="233.1" cy="99.8"/><circle cx="250.3" cy="97.6"/><circle cx="270" cy="192.6"/><circle cx="279.4" cy="191.1"/></g>
<g class="p"><path d="M200.4,184.7L218.1,192L233.3,189.4L248.7,188.5L263.5,187.5L283.8,188.8L295.8,190.2L305.2,189"/><circle cx="200.4" cy="184.7"/><circle cx="218.1" cy="192"/><circle cx="233.3" cy="189.4"/><circle cx="248.7" cy="188.5"/><circle cx="263.5" cy="187.5"/><circle cx="283.8" cy="188.8"/><circle cx="295.8" cy="190.2"/><circle cx="305.2" cy="189"/></g>
<g class="t"><path d="M201.7,132.1L209.3,85.6L225,64.4L245,51.7L257.5,53L268,55.2L289.8,62L302.9,55.9L311.5,54.3"/><circle cx="201.7" cy="132.1"/><circle cx="209.3" cy="85.6"/><circle cx="225" cy="64.4"/><circle cx="245" cy="51.7"/><circle cx="257.5" cy="53"/><circle cx="268" cy="55.2"/><circle cx="289.8" cy="62"/><circle cx="302.9" cy="55.9"/><circle cx="311.5" cy="54.3"/></g>
<g class="t"><path d="M204.4,187.2L218.2,191.6L230.7,189.1L250.3,188.4L266.6,191L281.3,188.2L295.4,192.3L315.1,188.4L324.4,174.9"/><circle cx="204.4" cy="187.2"/><circle cx="218.2" cy="191.6"/><circle cx="230.7" cy="189.1"/><circle cx="250.3" cy="188.4"/><circle cx="266.6" cy="191"/><circle cx="281.3" cy="188.2"/><circle cx="295.4" cy="192.3"/><circle cx="315.1" cy="188.4"/><circle cx="324.4" cy="174.9"/></g>
<g class="t"><path d="M204.9,157.5L215.5,66L227.1,75.7L242,67.2L250.5,83.3"/><circle cx="204.9" cy="157.5"/><circle cx="215.5" cy="66"/><circle cx="227.1" cy="75.7"/><circle cx="242" cy="67.2"/><circle cx="250.5" cy="83.3"/></g>
<g class="p"><path d="M202.1,185.8L233.5,60.7L244.8,50.4L255.5,61.7L273,57.2L287.2,62.5L301.2,65.7L319.7,64.8"/><circle cx="202.1" cy="185.8"/><circle cx="233.5" cy="60.7"/><circle cx="244.8" cy="50.4"/><circle cx="255.5" cy="61.7"/><circle cx="273" cy="57.2"/><circle cx="287.2" cy="62.5"/><circle cx="301.2" cy="65.7"/><circle cx="319.7" cy="64.8"/></g>
<g class="p"><path d="M200.6,152.5L219.1,69.6L231.7,65.1L257.5,62.5L283.2,55.6L303.2,60.1"/><circle cx="200.6" cy="152.5"/><circle cx="219.1" cy="69.6"/><circle cx="231.7" cy="65.1"/><circle cx="257.5" cy="62.5"/><circle cx="283.2" cy="55.6"/><circle cx="303.2" cy="60.1"/></g>
<g class="p"><path d="M200.7,163.3L212.8,50.1L223,59L243.8,57.5L261.1,54.8L274.7,54.6L297.5,55.9L313.2,53.1"/><circle cx="200.7" cy="163.3"/><circle cx="212.8" cy="50.1"/><circle cx="223" cy="59"/><circle cx="243.8" cy="57.5"/><circle cx="261.1" cy="54.8"/><circle cx="274.7" cy="54.6"/><circle cx="297.5" cy="55.9"/><circle cx="313.2" cy="53.1"/></g>
<g class="p"><path d="M205.3,192.9L213.2,192.3L220.8,205.5L230.5,192.8L245.1,194.7L257.9,197.1L270.8,189.5L287.7,192.6L296.2,183.8L305.9,192.1L322.2,189.4"/><circle cx="205.3" cy="192.9"/><circle cx="213.2" cy="192.3"/><circle cx="220.8" cy="205.5"/><circle cx="230.5" cy="192.8"/><circle cx="245.1" cy="194.7"/><circle cx="257.9" cy="197.1"/><circle cx="270.8" cy="189.5"/><circle cx="287.7" cy="192.6"/><circle cx="296.2" cy="183.8"/><circle cx="305.9" cy="192.1"/><circle cx="322.2" cy="189.4"/></g>
<g class="p"><path d="M207,190.6L244,44.4L264.2,51.2L284.3,51.3L301.7,52.8L319.7,59.8"/><circle cx="207" cy="190.6"/><circle cx="244" cy="44.4"/><circle cx="264.2" cy="51.2"/><circle cx="284.3" cy="51.3"/><circle cx="301.7" cy="52.8"/><circle cx="319.7" cy="59.8"/></g>
<g class="p"><path d="M207.1,186.7L254.7,95.6L276.4,90.7L295.7,92.7L312,93.2"/><circle cx="207.1" cy="186.7"/><circle cx="254.7" cy="95.6"/><circle cx="276.4" cy="90.7"/><circle cx="295.7" cy="92.7"/><circle cx="312" cy="93.2"/></g>
<g class="p"><path d="M201.3,189.4L208.6,187.7L224.6,184.8L244.8,188.2L263.1,196.2L281.1,178.1L295.2,188.7L303.8,190.9L315.1,190.2"/><circle cx="201.3" cy="189.4"/><circle cx="208.6" cy="187.7"/><circle cx="224.6" cy="184.8"/><circle cx="244.8" cy="188.2"/><circle cx="263.1" cy="196.2"/><circle cx="281.1" cy="178.1"/><circle cx="295.2" cy="188.7"/><circle cx="303.8" cy="190.9"/><circle cx="315.1" cy="190.2"/></g>
<g class="p"><path d="M199.9,72.6L205.5,71L218.8,83.9L238.1,83.3L251.2,88.1L271.1,79.7L284.8,86.9L308.2,94L316.4,91.5L326.3,93.7"/><circle cx="199.9" cy="72.6"/><circle cx="205.5" cy="71"/><circle cx="218.8" cy="83.9"/><circle cx="238.1" cy="83.3"/><circle cx="251.2" cy="88.1"/><circle cx="271.1" cy="79.7"/><circle cx="284.8" cy="86.9"/><circle cx="308.2" cy="94"/><circle cx="316.4" cy="91.5"/><circle cx="326.3" cy="93.7"/></g>
<g class="p"><path d="M199.4,68.2L211.5,57.3L230.6,62.5L255.9,66.2L277,72"/><circle cx="199.4" cy="68.2"/><circle cx="211.5" cy="57.3"/><circle cx="230.6" cy="62.5"/><circle cx="255.9" cy="66.2"/><circle cx="277" cy="72"/></g>
<g class="t"><path d="M203,192.6L219.6,191.8L232,188.2L239.8,183.2L254.3,188.9L272.2,192.1L286,193.7L299.6,189.7L311.8,193.7"/><circle cx="203" cy="192.6"/><circle cx="219.6" cy="191.8"/><circle cx="232" cy="188.2"/><circle cx="239.8" cy="183.2"/><circle cx="254.3" cy="188.9"/><circle cx="272.2" cy="192.1"/><circle cx="286" cy="193.7"/><circle cx="299.6" cy="189.7"/><circle cx="311.8" cy="193.7"/></g>
<path d="M199.3,149.5L199.8,144.8L200.4,140.2L200.9,136L201.4,132.3L202,128.9L202.5,125.7L203,122.5L203.6,119.4L204.1,116.5L204.6,113.6L205.1,110.8L205.7,108.1L206.2,105.6L206.7,103L207.3,100.6L207.8,98.2L208.3,96L208.9,93.7L209.4,91.6L209.9,89.5L210.5,87.4L211,85.4L211.5,83.5L212.1,81.6L212.6,79.7L213.1,77.9L213.5,76.8L214.9,72.6L216.3,69.1L217.7,66.2L219.2,63.6L220.6,61.3L222,59.6L223.4,58.2L224.8,57L226.2,55.8L227.7,54.7L229.1,53.8L230.5,53.1L231.9,52.7L233.3,52.7L234.8,52.7L236.2,52.9L237.6,53L239,53.3L240.4,53.6L241.8,53.9L243.3,54.2L244.7,54.6L246.1,55L247.5,55.3L248.9,55.7L250.3,56L251.8,56.4L253.2,56.9L254.6,57.4L256,57.9L257.4,58.5L258.9,59.1L260.3,59.7L261.7,60.3L263.1,60.9L264.5,61.4L265.9,62L267.4,62.6L268.8,63.1L270.2,63.6L271.6,64L273,64.4L274.5,64.8L275.9,65.1L277.3,65.4L278.7,65.6L280.1,65.8L281.5,66L283,66.2L284.4,66.4L285.8,66.6L287.2,66.7L288.6,66.9L290.1,67L291.5,67.2L292.9,67.4L294.3,67.5L295.7,67.7L297.1,67.9L298.6,68.1L300,68.2L301.4,68.4L302.8,68.6L304.2,68.8L305.6,69L307.1,69.2L308.5,69.3L309.9,69.5L311.3,69.7L312.7,69.9L314.2,70.1L315.6,70.2L317,70.4L318.4,70.6L319.8,70.8L321.2,71L322.7,71.2L324.1,71.4L325.5,71.6L326.9,71.8L328.3,72L329,72.1L329,108.4L328.3,108.1L326.9,107.4L325.5,106.8L324.1,106.1L322.7,105.5L321.2,104.9L319.8,104.3L318.4,103.7L317,103.1L315.6,102.5L314.2,101.9L312.7,101.3L311.3,100.8L309.9,100.2L308.5,99.6L307.1,99.1L305.6,98.6L304.2,98L302.8,97.5L301.4,97L300,96.5L298.6,96.1L297.1,95.6L295.7,95.1L294.3,94.7L292.9,94.2L291.5,93.8L290.1,93.5L288.6,93.1L287.2,92.7L285.8,92.4L284.4,92L283,91.7L281.5,91.3L280.1,91L278.7,90.7L277.3,90.3L275.9,89.9L274.5,89.6L273,89.2L271.6,88.7L270.2,88.2L268.8,87.7L267.4,87.1L265.9,86.5L264.5,85.9L263.1,85.3L261.7,84.6L260.3,84L258.9,83.4L257.4,82.8L256,82.2L254.6,81.6L253.2,81.1L251.8,80.6L250.3,80.1L248.9,79.7L247.5,79.4L246.1,79L244.7,78.6L243.3,78.2L241.8,77.9L240.4,77.5L239,77.2L237.6,77L236.2,76.8L234.8,76.6L233.3,76.5L231.9,76.6L230.5,77L229.1,77.7L227.7,78.7L226.2,80L224.8,81.3L223.4,82.8L222,84.4L220.6,86.5L219.2,89.1L217.7,92.1L216.3,95.4L214.9,99.3L213.5,104L213.1,105.2L212.6,107.2L212.1,109.2L211.5,111.3L211,113.4L210.5,115.6L209.9,117.8L209.4,120L208.9,122.4L208.3,124.8L207.8,127.3L207.3,129.9L206.7,132.6L206.2,135.3L205.7,138.2L205.1,141.1L204.6,144.2L204.1,147.3L203.6,150.6L203,153.9L202.5,157.4L202,161L201.4,164.7L200.9,168.6L200.4,173.2L199.8,178.1L199.3,183.1Z" fill="#4FE3CF" fill-opacity="0.5"/>
<path d="M199.3,149.5L199.8,144.8L200.4,140.2L200.9,136L201.4,132.3L202,128.9L202.5,125.7L203,122.5L203.6,119.4L204.1,116.5L204.6,113.6L205.1,110.8L205.7,108.1L206.2,105.6L206.7,103L207.3,100.6L207.8,98.2L208.3,96L208.9,93.7L209.4,91.6L209.9,89.5L210.5,87.4L211,85.4L211.5,83.5L212.1,81.6L212.6,79.7L213.1,77.9L213.5,76.8L214.9,72.6L216.3,69.1L217.7,66.2L219.2,63.6L220.6,61.3L222,59.6L223.4,58.2L224.8,57L226.2,55.8L227.7,54.7L229.1,53.8L230.5,53.1L231.9,52.7L233.3,52.7L234.8,52.7L236.2,52.9L237.6,53L239,53.3L240.4,53.6L241.8,53.9L243.3,54.2L244.7,54.6L246.1,55L247.5,55.3L248.9,55.7L250.3,56L251.8,56.4L253.2,56.9L254.6,57.4L256,57.9L257.4,58.5L258.9,59.1L260.3,59.7L261.7,60.3L263.1,60.9L264.5,61.4L265.9,62L267.4,62.6L268.8,63.1L270.2,63.6L271.6,64L273,64.4L274.5,64.8L275.9,65.1L277.3,65.4L278.7,65.6L280.1,65.8L281.5,66L283,66.2L284.4,66.4L285.8,66.6L287.2,66.7L288.6,66.9L290.1,67L291.5,67.2L292.9,67.4L294.3,67.5L295.7,67.7L297.1,67.9L298.6,68.1L300,68.2L301.4,68.4L302.8,68.6L304.2,68.8L305.6,69L307.1,69.2L308.5,69.3L309.9,69.5L311.3,69.7L312.7,69.9L314.2,70.1L315.6,70.2L317,70.4L318.4,70.6L319.8,70.8L321.2,71L322.7,71.2L324.1,71.4L325.5,71.6L326.9,71.8L328.3,72L329,72.1" fill="none" stroke="#22BDAE" stroke-width="1.5" stroke-dasharray="5,5.3" stroke-opacity="0.9"/>
<path d="M199.3,183.1L199.8,178.1L200.4,173.2L200.9,168.6L201.4,164.7L202,161L202.5,157.4L203,153.9L203.6,150.6L204.1,147.3L204.6,144.2L205.1,141.1L205.7,138.2L206.2,135.3L206.7,132.6L207.3,129.9L207.8,127.3L208.3,124.8L208.9,122.4L209.4,120L209.9,117.8L210.5,115.6L211,113.4L211.5,111.3L212.1,109.2L212.6,107.2L213.1,105.2L213.5,104L214.9,99.3L216.3,95.4L217.7,92.1L219.2,89.1L220.6,86.5L222,84.4L223.4,82.8L224.8,81.3L226.2,80L227.7,78.7L229.1,77.7L230.5,77L231.9,76.6L233.3,76.5L234.8,76.6L236.2,76.8L237.6,77L239,77.2L240.4,77.5L241.8,77.9L243.3,78.2L244.7,78.6L246.1,79L247.5,79.4L248.9,79.7L250.3,80.1L251.8,80.6L253.2,81.1L254.6,81.6L256,82.2L257.4,82.8L258.9,83.4L260.3,84L261.7,84.6L263.1,85.3L264.5,85.9L265.9,86.5L267.4,87.1L268.8,87.7L270.2,88.2L271.6,88.7L273,89.2L274.5,89.6L275.9,89.9L277.3,90.3L278.7,90.7L280.1,91L281.5,91.3L283,91.7L284.4,92L285.8,92.4L287.2,92.7L288.6,93.1L290.1,93.5L291.5,93.8L292.9,94.2L294.3,94.7L295.7,95.1L297.1,95.6L298.6,96.1L300,96.5L301.4,97L302.8,97.5L304.2,98L305.6,98.6L307.1,99.1L308.5,99.6L309.9,100.2L311.3,100.8L312.7,101.3L314.2,101.9L315.6,102.5L317,103.1L318.4,103.7L319.8,104.3L321.2,104.9L322.7,105.5L324.1,106.1L325.5,106.8L326.9,107.4L328.3,108.1L329,108.4" fill="none" stroke="#22BDAE" stroke-width="1.5" stroke-dasharray="5,5.3" stroke-opacity="0.9"/>
<path d="M199.3,166.3L199.8,161.4L200.4,156.7L200.9,152.3L201.4,148.5L202,145L202.5,141.5L203,138.2L203.6,135L204.1,131.9L204.6,128.9L205.1,126L205.7,123.2L206.2,120.4L206.7,117.8L207.3,115.3L207.8,112.8L208.3,110.4L208.9,108.1L209.4,105.8L209.9,103.6L210.5,101.5L211,99.4L211.5,97.4L212.1,95.4L212.6,93.4L213.1,91.6L213.5,90.4L214.9,86L216.3,82.3L217.7,79.2L219.2,76.4L220.6,73.9L222,72L223.4,70.5L224.8,69.2L226.2,67.9L227.7,66.7L229.1,65.8L230.5,65.1L231.9,64.7L233.3,64.6L234.8,64.7L236.2,64.8L237.6,65L239,65.3L240.4,65.5L241.8,65.9L243.3,66.2L244.7,66.6L246.1,67L247.5,67.3L248.9,67.7L250.3,68.1L251.8,68.5L253.2,69L254.6,69.5L256,70.1L257.4,70.6L258.9,71.2L260.3,71.8L261.7,72.5L263.1,73.1L264.5,73.7L265.9,74.3L267.4,74.8L268.8,75.4L270.2,75.9L271.6,76.4L273,76.8L274.5,77.2L275.9,77.5L277.3,77.8L278.7,78.1L280.1,78.4L281.5,78.7L283,79L284.4,79.2L285.8,79.5L287.2,79.7L288.6,80L290.1,80.2L291.5,80.5L292.9,80.8L294.3,81.1L295.7,81.4L297.1,81.7L298.6,82.1L300,82.4L301.4,82.7L302.8,83.1L304.2,83.4L305.6,83.8L307.1,84.1L308.5,84.5L309.9,84.9L311.3,85.2L312.7,85.6L314.2,86L315.6,86.4L317,86.8L318.4,87.1L319.8,87.5L321.2,87.9L322.7,88.4L324.1,88.8L325.5,89.2L326.9,89.6L328.3,90L329,90.3" fill="none" stroke="#35D3C3" stroke-width="2.6" stroke-opacity="0.85"/>
<path d="M199.3,147.7L199.8,145.4L200.4,143.1L200.9,140.8L201.4,138.5L202,136.3L202.5,134.1L203,132L203.6,130L204.1,128.1L204.6,126.2L205.1,124.4L205.7,122.8L206.2,121.1L206.7,119.5L207.3,118L207.8,116.4L208.3,115L208.9,113.5L209.4,112.1L209.9,110.7L210.5,109.3L211,108L211.5,106.7L212.1,105.4L212.6,104.1L213.1,102.9L213.5,102.1L214.9,98.9L216.3,95.8L217.7,92.6L219.2,89.3L220.6,86.3L222,84.1L223.4,83L224.8,82.1L226.2,81.2L227.7,80.5L229.1,79.9L230.5,79.5L231.9,79.2L233.3,79.2L234.8,79.3L236.2,79.6L237.6,80L239,80.4L240.4,81L241.8,81.5L243.3,82.1L244.7,82.6L246.1,83.1L247.5,83.6L248.9,83.9L250.3,84.2L251.8,84.5L253.2,84.8L254.6,85L256,85.3L257.4,85.5L258.9,85.8L260.3,86L261.7,86.2L263.1,86.4L264.5,86.6L265.9,86.8L267.4,87L268.8,87.1L270.2,87.3L271.6,87.4L273,87.5L274.5,87.6L275.9,87.7L277.3,87.8L278.7,87.9L280.1,87.9L281.5,88L283,88L284.4,88.1L285.8,88.1L287.2,88.1L288.6,88.2L290.1,88.2L291.5,88.3L292.9,88.4L294.3,88.5L295.7,88.6L297.1,88.7L298.6,88.9L300,89.2L301.4,89.4L302.8,89.8L304.2,90.1L305.6,90.5L307.1,91L308.5,91.4L309.9,91.9L311.3,92.4L312.7,92.9L314.2,93.4L315.6,94L317,94.7L318.4,95.3L319.8,96.1L321.2,96.8L322.7,97.6L324.1,98.5L325.5,99.4L326.9,100.3L328.3,101.3L329,101.8L329,129.2L328.3,128.4L326.9,126.8L325.5,125.3L324.1,123.8L322.7,122.4L321.2,121.1L319.8,119.8L318.4,118.6L317,117.5L315.6,116.6L314.2,115.7L312.7,115L311.3,114.4L309.9,113.8L308.5,113.2L307.1,112.6L305.6,112.1L304.2,111.6L302.8,111.2L301.4,110.8L300,110.4L298.6,110.1L297.1,109.8L295.7,109.6L294.3,109.4L292.9,109.3L291.5,109.2L290.1,109.1L288.6,109L287.2,108.9L285.8,108.8L284.4,108.7L283,108.6L281.5,108.5L280.1,108.4L278.7,108.4L277.3,108.2L275.9,108.1L274.5,108L273,107.9L271.6,107.7L270.2,107.5L268.8,107.4L267.4,107.2L265.9,106.9L264.5,106.7L263.1,106.5L261.7,106.2L260.3,106L258.9,105.7L257.4,105.5L256,105.2L254.6,104.9L253.2,104.6L251.8,104.3L250.3,104L248.9,103.7L247.5,103.3L246.1,102.8L244.7,102.3L243.3,101.7L241.8,101.1L240.4,100.5L239,100L237.6,99.5L236.2,99.1L234.8,98.8L233.3,98.7L231.9,98.7L230.5,98.9L229.1,99.4L227.7,99.9L226.2,100.7L224.8,101.6L223.4,102.6L222,104L220.6,106.5L219.2,109.9L217.7,113.7L216.3,117.4L214.9,121L213.5,124.7L213.1,125.6L212.6,127.1L212.1,128.5L211.5,130L211,131.5L210.5,133L209.9,134.6L209.4,136.1L208.9,137.8L208.3,139.4L207.8,141.1L207.3,142.8L206.7,144.6L206.2,146.4L205.7,148.2L205.1,150.1L204.6,152.1L204.1,154.2L203.6,156.4L203,158.6L202.5,161L202,163.4L201.4,165.8L200.9,168.3L200.4,170.9L199.8,173.4L199.3,176.1Z" fill="#E5898D" fill-opacity="0.5"/>
<path d="M199.3,147.7L199.8,145.4L200.4,143.1L200.9,140.8L201.4,138.5L202,136.3L202.5,134.1L203,132L203.6,130L204.1,128.1L204.6,126.2L205.1,124.4L205.7,122.8L206.2,121.1L206.7,119.5L207.3,118L207.8,116.4L208.3,115L208.9,113.5L209.4,112.1L209.9,110.7L210.5,109.3L211,108L211.5,106.7L212.1,105.4L212.6,104.1L213.1,102.9L213.5,102.1L214.9,98.9L216.3,95.8L217.7,92.6L219.2,89.3L220.6,86.3L222,84.1L223.4,83L224.8,82.1L226.2,81.2L227.7,80.5L229.1,79.9L230.5,79.5L231.9,79.2L233.3,79.2L234.8,79.3L236.2,79.6L237.6,80L239,80.4L240.4,81L241.8,81.5L243.3,82.1L244.7,82.6L246.1,83.1L247.5,83.6L248.9,83.9L250.3,84.2L251.8,84.5L253.2,84.8L254.6,85L256,85.3L257.4,85.5L258.9,85.8L260.3,86L261.7,86.2L263.1,86.4L264.5,86.6L265.9,86.8L267.4,87L268.8,87.1L270.2,87.3L271.6,87.4L273,87.5L274.5,87.6L275.9,87.7L277.3,87.8L278.7,87.9L280.1,87.9L281.5,88L283,88L284.4,88.1L285.8,88.1L287.2,88.1L288.6,88.2L290.1,88.2L291.5,88.3L292.9,88.4L294.3,88.5L295.7,88.6L297.1,88.7L298.6,88.9L300,89.2L301.4,89.4L302.8,89.8L304.2,90.1L305.6,90.5L307.1,91L308.5,91.4L309.9,91.9L311.3,92.4L312.7,92.9L314.2,93.4L315.6,94L317,94.7L318.4,95.3L319.8,96.1L321.2,96.8L322.7,97.6L324.1,98.5L325.5,99.4L326.9,100.3L328.3,101.3L329,101.8" fill="none" stroke="#D85F63" stroke-width="1.5" stroke-dasharray="5,5.3" stroke-opacity="0.9"/>
<path d="M199.3,176.1L199.8,173.4L200.4,170.9L200.9,168.3L201.4,165.8L202,163.4L202.5,161L203,158.6L203.6,156.4L204.1,154.2L204.6,152.1L205.1,150.1L205.7,148.2L206.2,146.4L206.7,144.6L207.3,142.8L207.8,141.1L208.3,139.4L208.9,137.8L209.4,136.1L209.9,134.6L210.5,133L211,131.5L211.5,130L212.1,128.5L212.6,127.1L213.1,125.6L213.5,124.7L214.9,121L216.3,117.4L217.7,113.7L219.2,109.9L220.6,106.5L222,104L223.4,102.6L224.8,101.6L226.2,100.7L227.7,99.9L229.1,99.4L230.5,98.9L231.9,98.7L233.3,98.7L234.8,98.8L236.2,99.1L237.6,99.5L239,100L240.4,100.5L241.8,101.1L243.3,101.7L244.7,102.3L246.1,102.8L247.5,103.3L248.9,103.7L250.3,104L251.8,104.3L253.2,104.6L254.6,104.9L256,105.2L257.4,105.5L258.9,105.7L260.3,106L261.7,106.2L263.1,106.5L264.5,106.7L265.9,106.9L267.4,107.2L268.8,107.4L270.2,107.5L271.6,107.7L273,107.9L274.5,108L275.9,108.1L277.3,108.2L278.7,108.4L280.1,108.4L281.5,108.5L283,108.6L284.4,108.7L285.8,108.8L287.2,108.9L288.6,109L290.1,109.1L291.5,109.2L292.9,109.3L294.3,109.4L295.7,109.6L297.1,109.8L298.6,110.1L300,110.4L301.4,110.8L302.8,111.2L304.2,111.6L305.6,112.1L307.1,112.6L308.5,113.2L309.9,113.8L311.3,114.4L312.7,115L314.2,115.7L315.6,116.6L317,117.5L318.4,118.6L319.8,119.8L321.2,121.1L322.7,122.4L324.1,123.8L325.5,125.3L326.9,126.8L328.3,128.4L329,129.2" fill="none" stroke="#D85F63" stroke-width="1.5" stroke-dasharray="5,5.3" stroke-opacity="0.9"/>
<path d="M199.3,161.9L199.8,159.4L200.4,157L200.9,154.5L201.4,152.2L202,149.8L202.5,147.6L203,145.3L203.6,143.2L204.1,141.1L204.6,139.2L205.1,137.3L205.7,135.5L206.2,133.8L206.7,132.1L207.3,130.4L207.8,128.8L208.3,127.2L208.9,125.6L209.4,124.1L209.9,122.6L210.5,121.2L211,119.7L211.5,118.3L212.1,116.9L212.6,115.6L213.1,114.2L213.5,113.4L214.9,109.9L216.3,106.6L217.7,103.1L219.2,99.6L220.6,96.4L222,94.1L223.4,92.8L224.8,91.8L226.2,91L227.7,90.2L229.1,89.6L230.5,89.2L231.9,89L233.3,88.9L234.8,89.1L236.2,89.4L237.6,89.7L239,90.2L240.4,90.7L241.8,91.3L243.3,91.9L244.7,92.5L246.1,93L247.5,93.4L248.9,93.8L250.3,94.1L251.8,94.4L253.2,94.7L254.6,95L256,95.2L257.4,95.5L258.9,95.7L260.3,96L261.7,96.2L263.1,96.5L264.5,96.7L265.9,96.9L267.4,97.1L268.8,97.2L270.2,97.4L271.6,97.6L273,97.7L274.5,97.8L275.9,97.9L277.3,98L278.7,98.1L280.1,98.2L281.5,98.3L283,98.3L284.4,98.4L285.8,98.4L287.2,98.5L288.6,98.6L290.1,98.7L291.5,98.7L292.9,98.8L294.3,99L295.7,99.1L297.1,99.3L298.6,99.5L300,99.8L301.4,100.1L302.8,100.5L304.2,100.9L305.6,101.3L307.1,101.8L308.5,102.3L309.9,102.8L311.3,103.4L312.7,104L314.2,104.6L315.6,105.3L317,106.1L318.4,107L319.8,107.9L321.2,108.9L322.7,110L324.1,111.2L325.5,112.3L326.9,113.6L328.3,114.8L329,115.5" fill="none" stroke="#E8605F" stroke-width="2.6" stroke-opacity="0.85"/>
</g>
<g filter="url(#bl)">
<g class="p"><path d="M392.2,123.6L405.3,103.1L424.9,105.5L448.3,118.9L464.2,104.9L488.4,119.7L510.3,116.5"/><circle cx="392.2" cy="123.6"/><circle cx="405.3" cy="103.1"/><circle cx="424.9" cy="105.5"/><circle cx="448.3" cy="118.9"/><circle cx="464.2" cy="104.9"/><circle cx="488.4" cy="119.7"/><circle cx="510.3" cy="116.5"/></g>
<g class="t"><path d="M394.2,108.8L406.3,60.8L424,63.7L447.7,69.8L461.7,74.1L484.3,74.8L503.5,81.9"/><circle cx="394.2" cy="108.8"/><circle cx="406.3" cy="60.8"/><circle cx="424" cy="63.7"/><circle cx="447.7" cy="69.8"/><circle cx="461.7" cy="74.1"/><circle cx="484.3" cy="74.8"/><circle cx="503.5" cy="81.9"/></g>
<g class="t"><path d="M400.6,189.6L420.5,190.2L440.4,191.4L452.9,192.3L470.6,189.6L491.2,191.4L506.5,191.8"/><circle cx="400.6" cy="189.6"/><circle cx="420.5" cy="190.2"/><circle cx="440.4" cy="191.4"/><circle cx="452.9" cy="192.3"/><circle cx="470.6" cy="189.6"/><circle cx="491.2" cy="191.4"/><circle cx="506.5" cy="191.8"/></g>
<g class="t"><path d="M393.8,74.5L411.6,55.7L436.9,64.9L455.9,74L463.8,76.4"/><circle cx="393.8" cy="74.5"/><circle cx="411.6" cy="55.7"/><circle cx="436.9" cy="64.9"/><circle cx="455.9" cy="74"/><circle cx="463.8" cy="76.4"/></g>
<g class="p"><path d="M414.4,145.5L434.6,157.9L455.2,142.9L475.4,142.9L494.6,144.2L514.8,142.9"/><circle cx="414.4" cy="145.5"/><circle cx="434.6" cy="157.9"/><circle cx="455.2" cy="142.9"/><circle cx="475.4" cy="142.9"/><circle cx="494.6" cy="144.2"/><circle cx="514.8" cy="142.9"/></g>
<g class="t"><path d="M395.2,188.6L422,38L435,36L457.7,37.5L475.2,35.9"/><circle cx="395.2" cy="188.6"/><circle cx="422" cy="38"/><circle cx="435" cy="36"/><circle cx="457.7" cy="37.5"/><circle cx="475.2" cy="35.9"/></g>
<g class="p"><path d="M404,188.2L414.8,188.8L426.5,186.4L438.7,200.8L448,188.5L468.4,187.4L484,187.5L491.3,191"/><circle cx="404" cy="188.2"/><circle cx="414.8" cy="188.8"/><circle cx="426.5" cy="186.4"/><circle cx="438.7" cy="200.8"/><circle cx="448" cy="188.5"/><circle cx="468.4" cy="187.4"/><circle cx="484" cy="187.5"/><circle cx="491.3" cy="191"/></g>
<g class="t"><path d="M413.4,115.5L426.5,123.9L437.5,127.8L447,132.3L457.7,136.3L478.2,152.2L510.9,174.3"/><circle cx="413.4" cy="115.5"/><circle cx="426.5" cy="123.9"/><circle cx="437.5" cy="127.8"/><circle cx="447" cy="132.3"/><circle cx="457.7" cy="136.3"/><circle cx="478.2" cy="152.2"/><circle cx="510.9" cy="174.3"/></g>
<g class="p"><path d="M401.7,191.6L444.1,113L462.2,104.7L485.5,111L507,111.7L522.2,110.7"/><circle cx="401.7" cy="191.6"/><circle cx="444.1" cy="113"/><circle cx="462.2" cy="104.7"/><circle cx="485.5" cy="111"/><circle cx="507" cy="111.7"/><circle cx="522.2" cy="110.7"/></g>
<g class="t"><path d="M394.3,205.6L406.5,188.1L423.2,193.9L435.7,188.6L443.1,183.9L452.8,174.9L472.7,186.6L483.2,184.2L493.4,186.5"/><circle cx="394.3" cy="205.6"/><circle cx="406.5" cy="188.1"/><circle cx="423.2" cy="193.9"/><circle cx="435.7" cy="188.6"/><circle cx="443.1" cy="183.9"/><circle cx="452.8" cy="174.9"/><circle cx="472.7" cy="186.6"/><circle cx="483.2" cy="184.2"/><circle cx="493.4" cy="186.5"/></g>
<g class="t"><path d="M393.2,150.5L399.6,112L411.8,89.1L435.1,86.8L445.6,84.5L459.1,92.2L476.6,96.2L500.3,92.3L515.3,90.4"/><circle cx="393.2" cy="150.5"/><circle cx="399.6" cy="112"/><circle cx="411.8" cy="89.1"/><circle cx="435.1" cy="86.8"/><circle cx="445.6" cy="84.5"/><circle cx="459.1" cy="92.2"/><circle cx="476.6" cy="96.2"/><circle cx="500.3" cy="92.3"/><circle cx="515.3" cy="90.4"/></g>
<g class="t"><path d="M396.8,191.2L405.5,62.5L428.5,42.1L442.5,40.3L455.7,36.9L472.6,37.6L495,39.7L508.3,38.7"/><circle cx="396.8" cy="191.2"/><circle cx="405.5" cy="62.5"/><circle cx="428.5" cy="42.1"/><circle cx="442.5" cy="40.3"/><circle cx="455.7" cy="36.9"/><circle cx="472.6" cy="37.6"/><circle cx="495" cy="39.7"/><circle cx="508.3" cy="38.7"/></g>
<g class="p"><path d="M404.4,192.7L416,188.7L425,191.3L440.5,193.1L458.7,193.2L477.6,189.9L488.6,189.7L508.2,191.6"/><circle cx="404.4" cy="192.7"/><circle cx="416" cy="188.7"/><circle cx="425" cy="191.3"/><circle cx="440.5" cy="193.1"/><circle cx="458.7" cy="193.2"/><circle cx="477.6" cy="189.9"/><circle cx="488.6" cy="189.7"/><circle cx="508.2" cy="191.6"/></g>
<g class="t"><path d="M395.6,187.7L408,174.3L422.9,190.4L431.7,193.1L439.2,185.4L449.6,190.7L459.2,189.2L470.4,188.2L481.4,188.9L489.4,189.9L499.9,188.9L515.4,192.2"/><circle cx="395.6" cy="187.7"/><circle cx="408" cy="174.3"/><circle cx="422.9" cy="190.4"/><circle cx="431.7" cy="193.1"/><circle cx="439.2" cy="185.4"/><circle cx="449.6" cy="190.7"/><circle cx="459.2" cy="189.2"/><circle cx="470.4" cy="188.2"/><circle cx="481.4" cy="188.9"/><circle cx="489.4" cy="189.9"/><circle cx="499.9" cy="188.9"/><circle cx="515.4" cy="192.2"/></g>
<g class="p"><path d="M408.9,150.9L431.4,58.3L455.8,54.7L472.6,59.5L491.4,68.8L513.2,69.4"/><circle cx="408.9" cy="150.9"/><circle cx="431.4" cy="58.3"/><circle cx="455.8" cy="54.7"/><circle cx="472.6" cy="59.5"/><circle cx="491.4" cy="68.8"/><circle cx="513.2" cy="69.4"/></g>
<g class="p"><path d="M394.6,187.7L419,73L434.3,81.3L445.2,76.9L466.7,82.9L484.1,88.3L501,80L513.4,90.4"/><circle cx="394.6" cy="187.7"/><circle cx="419" cy="73"/><circle cx="434.3" cy="81.3"/><circle cx="445.2" cy="76.9"/><circle cx="466.7" cy="82.9"/><circle cx="484.1" cy="88.3"/><circle cx="501" cy="80"/><circle cx="513.4" cy="90.4"/></g>
<g class="t"><path d="M401.5,187.7L439,111.7L451.7,88.2L468.8,82.3L487.2,85.6L497.6,88.2L510.9,97.2L522.2,91.6"/><circle cx="401.5" cy="187.7"/><circle cx="439" cy="111.7"/><circle cx="451.7" cy="88.2"/><circle cx="468.8" cy="82.3"/><circle cx="487.2" cy="85.6"/><circle cx="497.6" cy="88.2"/><circle cx="510.9" cy="97.2"/><circle cx="522.2" cy="91.6"/></g>
<g class="p"><path d="M400.4,66.9L405.9,69.4L428.5,57.3L445.8,62.9L459.5,68.3L472.6,64.6L489,60.7L501.6,65.4L515.1,61.7"/><circle cx="400.4" cy="66.9"/><circle cx="405.9" cy="69.4"/><circle cx="428.5" cy="57.3"/><circle cx="445.8" cy="62.9"/><circle cx="459.5" cy="68.3"/><circle cx="472.6" cy="64.6"/><circle cx="489" cy="60.7"/><circle cx="501.6" cy="65.4"/><circle cx="515.1" cy="61.7"/></g>
<g class="t"><path d="M392.2,192.4L402,195L409.6,194.3L421.7,191.3L428.9,196.6L445.9,184.4L465,188.3L485.2,189.9L497.1,206.4L515.4,193"/><circle cx="392.2" cy="192.4"/><circle cx="402" cy="195"/><circle cx="409.6" cy="194.3"/><circle cx="421.7" cy="191.3"/><circle cx="428.9" cy="196.6"/><circle cx="445.9" cy="184.4"/><circle cx="465" cy="188.3"/><circle cx="485.2" cy="189.9"/><circle cx="497.1" cy="206.4"/><circle cx="515.4" cy="193"/></g>
<g class="t"><path d="M397.5,185.5L446.1,52.2L470.4,54.7L495,67.8L514.4,57.5"/><circle cx="397.5" cy="185.5"/><circle cx="446.1" cy="52.2"/><circle cx="470.4" cy="54.7"/><circle cx="495" cy="67.8"/><circle cx="514.4" cy="57.5"/></g>
<g class="p"><path d="M396.2,191.1L415.4,55.8L438.7,57.4L459.7,56.8L477.4,53.1L488.6,55L507.2,64.9L521.3,59"/><circle cx="396.2" cy="191.1"/><circle cx="415.4" cy="55.8"/><circle cx="438.7" cy="57.4"/><circle cx="459.7" cy="56.8"/><circle cx="477.4" cy="53.1"/><circle cx="488.6" cy="55"/><circle cx="507.2" cy="64.9"/><circle cx="521.3" cy="59"/></g>
<g class="t"><path d="M445.3,133.2L467.3,142.9L482.5,141.6L498.5,145.1L514.4,144.2"/><circle cx="445.3" cy="133.2"/><circle cx="467.3" cy="142.9"/><circle cx="482.5" cy="141.6"/><circle cx="498.5" cy="145.1"/><circle cx="514.4" cy="144.2"/></g>
<g class="t"><path d="M405.6,168.5L414.4,168.5"/><circle cx="405.6" cy="168.5"/><circle cx="414.4" cy="168.5"/></g>
<g class="p"><path d="M399.1,190.9L406.3,189L416,204.1L431.5,184.9L449.8,188.8L460.1,192.4L478.4,185.8L487.1,189.5L497.8,188.1L509.7,194.4"/><circle cx="399.1" cy="190.9"/><circle cx="406.3" cy="189"/><circle cx="416" cy="204.1"/><circle cx="431.5" cy="184.9"/><circle cx="449.8" cy="188.8"/><circle cx="460.1" cy="192.4"/><circle cx="478.4" cy="185.8"/><circle cx="487.1" cy="189.5"/><circle cx="497.8" cy="188.1"/><circle cx="509.7" cy="194.4"/></g>
<g class="t"><path d="M395.6,164.8L416.7,56.7L440.4,41.9L462.1,38.1L480.9,45.1L490.6,50.2L515.7,42.4"/><circle cx="395.6" cy="164.8"/><circle cx="416.7" cy="56.7"/><circle cx="440.4" cy="41.9"/><circle cx="462.1" cy="38.1"/><circle cx="480.9" cy="45.1"/><circle cx="490.6" cy="50.2"/><circle cx="515.7" cy="42.4"/></g>
<g class="p"><path d="M394.7,127.6L413.1,53.5L423.2,52.2L436.9,51.9L445.8,54.5L457.2,51.6L477.3,60.2L491.8,54.7L509.8,55.9L518.9,60.8"/><circle cx="394.7" cy="127.6"/><circle cx="413.1" cy="53.5"/><circle cx="423.2" cy="52.2"/><circle cx="436.9" cy="51.9"/><circle cx="445.8" cy="54.5"/><circle cx="457.2" cy="51.6"/><circle cx="477.3" cy="60.2"/><circle cx="491.8" cy="54.7"/><circle cx="509.8" cy="55.9"/><circle cx="518.9" cy="60.8"/></g>
<g class="p"><path d="M397.9,191L418.1,190.7L427.2,185.9L437.6,191.3L451.2,192.8L465.4,191.8L481.2,189.3L490.3,189.3L508.2,192.5"/><circle cx="397.9" cy="191"/><circle cx="418.1" cy="190.7"/><circle cx="427.2" cy="185.9"/><circle cx="437.6" cy="191.3"/><circle cx="451.2" cy="192.8"/><circle cx="465.4" cy="191.8"/><circle cx="481.2" cy="189.3"/><circle cx="490.3" cy="189.3"/><circle cx="508.2" cy="192.5"/></g>
<g class="p"><path d="M402.7,187.8L411.5,178.5L418.9,188.2L435.4,189.6L449.1,190.3L457.5,191.6L474.1,187.9L490.6,182L497.9,193.3L511,187.1"/><circle cx="402.7" cy="187.8"/><circle cx="411.5" cy="178.5"/><circle cx="418.9" cy="188.2"/><circle cx="435.4" cy="189.6"/><circle cx="449.1" cy="190.3"/><circle cx="457.5" cy="191.6"/><circle cx="474.1" cy="187.9"/><circle cx="490.6" cy="182"/><circle cx="497.9" cy="193.3"/><circle cx="511" cy="187.1"/></g>
<g class="p"><path d="M398.1,189.6L408.3,191.6L425.5,183.9L444,177.4L453.3,186.4L471.6,185.3L485.6,183.9L493.2,187.5L512.4,185.9"/><circle cx="398.1" cy="189.6"/><circle cx="408.3" cy="191.6"/><circle cx="425.5" cy="183.9"/><circle cx="444" cy="177.4"/><circle cx="453.3" cy="186.4"/><circle cx="471.6" cy="185.3"/><circle cx="485.6" cy="183.9"/><circle cx="493.2" cy="187.5"/><circle cx="512.4" cy="185.9"/></g>
<g class="t"><path d="M392.2,188.9L430.6,42.6L440.7,48.7L453.6,54.5L464.8,48.3L485.4,59.6L498.6,60.4L519.4,59.6"/><circle cx="392.2" cy="188.9"/><circle cx="430.6" cy="42.6"/><circle cx="440.7" cy="48.7"/><circle cx="453.6" cy="54.5"/><circle cx="464.8" cy="48.3"/><circle cx="485.4" cy="59.6"/><circle cx="498.6" cy="60.4"/><circle cx="519.4" cy="59.6"/></g>
<g class="p"><path d="M394,185.7L408.1,75.6L421.8,77.1L435.4,79.7L447.1,72.8L456.3,77.3L472.3,87.4L495.1,89.4L508.6,95.3L521.6,91.6"/><circle cx="394" cy="185.7"/><circle cx="408.1" cy="75.6"/><circle cx="421.8" cy="77.1"/><circle cx="435.4" cy="79.7"/><circle cx="447.1" cy="72.8"/><circle cx="456.3" cy="77.3"/><circle cx="472.3" cy="87.4"/><circle cx="495.1" cy="89.4"/><circle cx="508.6" cy="95.3"/><circle cx="521.6" cy="91.6"/></g>
<g class="t"><path d="M392.5,124.8L409.9,59.7L426.3,72.3L452.9,75.6L470.6,68.9L489.6,75L505.3,84.8L521.8,88.7"/><circle cx="392.5" cy="124.8"/><circle cx="409.9" cy="59.7"/><circle cx="426.3" cy="72.3"/><circle cx="452.9" cy="75.6"/><circle cx="470.6" cy="68.9"/><circle cx="489.6" cy="75"/><circle cx="505.3" cy="84.8"/><circle cx="521.8" cy="88.7"/></g>
<g class="t"><path d="M416.9,102.2L434.6,113.3L459.1,114.6L488.9,118.6L509.4,127.8"/><circle cx="416.9" cy="102.2"/><circle cx="434.6" cy="113.3"/><circle cx="459.1" cy="114.6"/><circle cx="488.9" cy="118.6"/><circle cx="509.4" cy="127.8"/></g>
<g class="t"><path d="M392.8,145.4L407.8,42.5L421,42.5L437.8,42.2L452.9,41"/><circle cx="392.8" cy="145.4"/><circle cx="407.8" cy="42.5"/><circle cx="421" cy="42.5"/><circle cx="437.8" cy="42.2"/><circle cx="452.9" cy="41"/></g>
<g class="p"><path d="M394.1,186.4L401.4,54.3L419.9,41L441.1,51.9L458.4,64.9L472.9,61.1L490.5,66.7L506.3,64.8L515.1,68.2"/><circle cx="394.1" cy="186.4"/><circle cx="401.4" cy="54.3"/><circle cx="419.9" cy="41"/><circle cx="441.1" cy="51.9"/><circle cx="458.4" cy="64.9"/><circle cx="472.9" cy="61.1"/><circle cx="490.5" cy="66.7"/><circle cx="506.3" cy="64.8"/><circle cx="515.1" cy="68.2"/></g>
<g class="t"><path d="M392.8,113.2L395.9,100.7L404,81.6L420,82.2L432.9,73.2L458.4,75.2L467.8,74.5L484.2,82.7L496.1,76.7L510.9,83.4"/><circle cx="392.8" cy="113.2"/><circle cx="395.9" cy="100.7"/><circle cx="404" cy="81.6"/><circle cx="420" cy="82.2"/><circle cx="432.9" cy="73.2"/><circle cx="458.4" cy="75.2"/><circle cx="467.8" cy="74.5"/><circle cx="484.2" cy="82.7"/><circle cx="496.1" cy="76.7"/><circle cx="510.9" cy="83.4"/></g>
<g class="t"><path d="M404.5,83.7L407.7,75.9L429.7,58.1L455.1,66.9L475.9,71.1L492.6,76.4L501.1,76.3L515.1,77.2"/><circle cx="404.5" cy="83.7"/><circle cx="407.7" cy="75.9"/><circle cx="429.7" cy="58.1"/><circle cx="455.1" cy="66.9"/><circle cx="475.9" cy="71.1"/><circle cx="492.6" cy="76.4"/><circle cx="501.1" cy="76.3"/><circle cx="515.1" cy="77.2"/></g>
<g class="p"><path d="M395.8,99.1L402.5,93.8L417.1,75.9L441.8,90.3L466.7,88.2L479.9,93.4"/><circle cx="395.8" cy="99.1"/><circle cx="402.5" cy="93.8"/><circle cx="417.1" cy="75.9"/><circle cx="441.8" cy="90.3"/><circle cx="466.7" cy="88.2"/><circle cx="479.9" cy="93.4"/></g>
<g class="p"><path d="M396.3,186L412.7,188.2L430.6,187.8L447.2,183.7L460.6,179.7L470.5,190.9L488.8,186.6L501.6,181.8"/><circle cx="396.3" cy="186"/><circle cx="412.7" cy="188.2"/><circle cx="430.6" cy="187.8"/><circle cx="447.2" cy="183.7"/><circle cx="460.6" cy="179.7"/><circle cx="470.5" cy="190.9"/><circle cx="488.8" cy="186.6"/><circle cx="501.6" cy="181.8"/></g>
<g class="p"><path d="M392.9,90.8L398.2,72.3L420.9,59.3L429.5,54.2L451.6,50.5L468.6,58.2L483.5,61.1L501.1,55.1L515.5,58.7"/><circle cx="392.9" cy="90.8"/><circle cx="398.2" cy="72.3"/><circle cx="420.9" cy="59.3"/><circle cx="429.5" cy="54.2"/><circle cx="451.6" cy="50.5"/><circle cx="468.6" cy="58.2"/><circle cx="483.5" cy="61.1"/><circle cx="501.1" cy="55.1"/><circle cx="515.5" cy="58.7"/></g>
<g class="t"><path d="M395.1,148L398.7,116L412.7,53.9L437.8,50.1L453.5,41.4L465.7,39.2L475.2,42.1L486.1,41.7L501.7,41.1"/><circle cx="395.1" cy="148"/><circle cx="398.7" cy="116"/><circle cx="412.7" cy="53.9"/><circle cx="437.8" cy="50.1"/><circle cx="453.5" cy="41.4"/><circle cx="465.7" cy="39.2"/><circle cx="475.2" cy="42.1"/><circle cx="486.1" cy="41.7"/><circle cx="501.7" cy="41.1"/></g>
<g class="t"><path d="M396,68.3L399.3,53.9L423.8,43.9L446.3,44.5L464.2,52.6L479.8,49.1L488,45.6L505.8,52.1"/><circle cx="396" cy="68.3"/><circle cx="399.3" cy="53.9"/><circle cx="423.8" cy="43.9"/><circle cx="446.3" cy="44.5"/><circle cx="464.2" cy="52.6"/><circle cx="479.8" cy="49.1"/><circle cx="488" cy="45.6"/><circle cx="505.8" cy="52.1"/></g>
<g class="p"><path d="M392.7,191.7L411.7,48.1L426.5,51.7L449.5,52L459.2,63L471.2,69.4L489.6,72.2L503.5,64.4L521.4,73.1"/><circle cx="392.7" cy="191.7"/><circle cx="411.7" cy="48.1"/><circle cx="426.5" cy="51.7"/><circle cx="449.5" cy="52"/><circle cx="459.2" cy="63"/><circle cx="471.2" cy="69.4"/><circle cx="489.6" cy="72.2"/><circle cx="503.5" cy="64.4"/><circle cx="521.4" cy="73.1"/></g>
<g class="t"><path d="M394.1,61.1L399.4,51L417.7,55L439.3,53L457.2,56.6L478,49.3L495.1,53.2L510,55.9"/><circle cx="394.1" cy="61.1"/><circle cx="399.4" cy="51"/><circle cx="417.7" cy="55"/><circle cx="439.3" cy="53"/><circle cx="457.2" cy="56.6"/><circle cx="478" cy="49.3"/><circle cx="495.1" cy="53.2"/><circle cx="510" cy="55.9"/></g>
<g class="p"><path d="M394.8,150.9L411.8,77L434.9,79.1L457.3,88.2L472.2,102.1"/><circle cx="394.8" cy="150.9"/><circle cx="411.8" cy="77"/><circle cx="434.9" cy="79.1"/><circle cx="457.3" cy="88.2"/><circle cx="472.2" cy="102.1"/></g>
<g class="p"><path d="M398.2,191.3L406.5,195.5L424.6,191.4L440.6,197.5L450.4,196.1L470.3,203.6L480,197.5L489.9,194"/><circle cx="398.2" cy="191.3"/><circle cx="406.5" cy="195.5"/><circle cx="424.6" cy="191.4"/><circle cx="440.6" cy="197.5"/><circle cx="450.4" cy="196.1"/><circle cx="470.3" cy="203.6"/><circle cx="480" cy="197.5"/><circle cx="489.9" cy="194"/></g>
<g class="p"><path d="M392.7,64.6L401.3,80.1L413.6,80.6L436.2,88L451.2,82L470.7,85L482.1,81.2"/><circle cx="392.7" cy="64.6"/><circle cx="401.3" cy="80.1"/><circle cx="413.6" cy="80.6"/><circle cx="436.2" cy="88"/><circle cx="451.2" cy="82"/><circle cx="470.7" cy="85"/><circle cx="482.1" cy="81.2"/></g>
<g class="t"><path d="M397,188.3L406.7,61.2L425.9,59.1L439.5,59.5L450.1,59L463.5,62.2L478.6,69.5L490.3,63.4L503.1,67.7L517,77.5"/><circle cx="397" cy="188.3"/><circle cx="406.7" cy="61.2"/><circle cx="425.9" cy="59.1"/><circle cx="439.5" cy="59.5"/><circle cx="450.1" cy="59"/><circle cx="463.5" cy="62.2"/><circle cx="478.6" cy="69.5"/><circle cx="490.3" cy="63.4"/><circle cx="503.1" cy="67.7"/><circle cx="517" cy="77.5"/></g>
<g class="p"><path d="M396.7,140.3L402.4,86.6L412.7,58.4L437.4,65.5L462.3,61.5L471.3,65.9L493.6,74.6L509.7,67.1"/><circle cx="396.7" cy="140.3"/><circle cx="402.4" cy="86.6"/><circle cx="412.7" cy="58.4"/><circle cx="437.4" cy="65.5"/><circle cx="462.3" cy="61.5"/><circle cx="471.3" cy="65.9"/><circle cx="493.6" cy="74.6"/><circle cx="509.7" cy="67.1"/></g>
<g class="p"><path d="M401.4,188.9L427.5,82.6L450.8,90.8L461,97.8L475.7,97.3L488.3,95"/><circle cx="401.4" cy="188.9"/><circle cx="427.5" cy="82.6"/><circle cx="450.8" cy="90.8"/><circle cx="461" cy="97.8"/><circle cx="475.7" cy="97.3"/><circle cx="488.3" cy="95"/></g>
<g class="p"><path d="M395.2,189.1L407,189L417.4,189.1L427.6,191.2L445.2,188.7L456.2,193.3L468.2,191.1L483.8,188.5L500.4,191"/><circle cx="395.2" cy="189.1"/><circle cx="407" cy="189"/><circle cx="417.4" cy="189.1"/><circle cx="427.6" cy="191.2"/><circle cx="445.2" cy="188.7"/><circle cx="456.2" cy="193.3"/><circle cx="468.2" cy="191.1"/><circle cx="483.8" cy="188.5"/><circle cx="500.4" cy="191"/></g>
<g class="p"><path d="M395.8,191.7L413.3,202.8L432.9,192.7L449.8,191.9L456.9,188.2L464.1,191.8L481,191.6L498.7,204.8L510.3,191.9"/><circle cx="395.8" cy="191.7"/><circle cx="413.3" cy="202.8"/><circle cx="432.9" cy="192.7"/><circle cx="449.8" cy="191.9"/><circle cx="456.9" cy="188.2"/><circle cx="464.1" cy="191.8"/><circle cx="481" cy="191.6"/><circle cx="498.7" cy="204.8"/><circle cx="510.3" cy="191.9"/></g>
<g class="t"><path d="M397.1,116.8L419.9,57.9L431.3,66.8L446.4,71.7L470.7,63.3L493.4,75.1"/><circle cx="397.1" cy="116.8"/><circle cx="419.9" cy="57.9"/><circle cx="431.3" cy="66.8"/><circle cx="446.4" cy="71.7"/><circle cx="470.7" cy="63.3"/><circle cx="493.4" cy="75.1"/></g>
<g class="p"><path d="M398.3,189.7L413.9,188.1L426.9,186.5L445.8,189.8L465.9,190.7L476.5,187L495.4,189.7L506.3,189.8"/><circle cx="398.3" cy="189.7"/><circle cx="413.9" cy="188.1"/><circle cx="426.9" cy="186.5"/><circle cx="445.8" cy="189.8"/><circle cx="465.9" cy="190.7"/><circle cx="476.5" cy="187"/><circle cx="495.4" cy="189.7"/><circle cx="506.3" cy="189.8"/></g>
<g class="p"><path d="M400.6,190L428,83.6L443.4,83.2L466.7,91L477.2,85.5L496.6,92.2L520.2,98.1"/><circle cx="400.6" cy="190"/><circle cx="428" cy="83.6"/><circle cx="443.4" cy="83.2"/><circle cx="466.7" cy="91"/><circle cx="477.2" cy="85.5"/><circle cx="496.6" cy="92.2"/><circle cx="520.2" cy="98.1"/></g>
<g class="t"><path d="M392.6,141.4L415,67.8L426.8,75L447.8,68.5L466.8,64.9L483.4,76.5"/><circle cx="392.6" cy="141.4"/><circle cx="415" cy="67.8"/><circle cx="426.8" cy="75"/><circle cx="447.8" cy="68.5"/><circle cx="466.8" cy="64.9"/><circle cx="483.4" cy="76.5"/></g>
<g class="p"><path d="M397.5,84.4L419.2,56.7L441.2,73.6L464.7,65.1L488.7,66.1L508.1,67.7L522.1,65"/><circle cx="397.5" cy="84.4"/><circle cx="419.2" cy="56.7"/><circle cx="441.2" cy="73.6"/><circle cx="464.7" cy="65.1"/><circle cx="488.7" cy="66.1"/><circle cx="508.1" cy="67.7"/><circle cx="522.1" cy="65"/></g>
<g class="p"><path d="M398.7,191.1L448.3,88.3L459,96.4L473.9,105.4L484.6,108.7L497.4,109.4L513.1,105.3"/><circle cx="398.7" cy="191.1"/><circle cx="448.3" cy="88.3"/><circle cx="459" cy="96.4"/><circle cx="473.9" cy="105.4"/><circle cx="484.6" cy="108.7"/><circle cx="497.4" cy="109.4"/><circle cx="513.1" cy="105.3"/></g>
<g class="p"><path d="M396.6,145.2L400.4,84.9L414,45.2L432.9,48.3L451.7,54.6L465.5,52.4L485.7,70.4L501.2,62.6L514.4,62.8"/><circle cx="396.6" cy="145.2"/><circle cx="400.4" cy="84.9"/><circle cx="414" cy="45.2"/><circle cx="432.9" cy="48.3"/><circle cx="451.7" cy="54.6"/><circle cx="465.5" cy="52.4"/><circle cx="485.7" cy="70.4"/><circle cx="501.2" cy="62.6"/><circle cx="514.4" cy="62.8"/></g>
<g class="t"><path d="M401.6,189.2L413.8,194L424.2,188.8L438.3,184.5L454.9,189.3L474.8,186.6L486.4,185.9L497.7,185.8L509.6,188.3"/><circle cx="401.6" cy="189.2"/><circle cx="413.8" cy="194"/><circle cx="424.2" cy="188.8"/><circle cx="438.3" cy="184.5"/><circle cx="454.9" cy="189.3"/><circle cx="474.8" cy="186.6"/><circle cx="486.4" cy="185.9"/><circle cx="497.7" cy="185.8"/><circle cx="509.6" cy="188.3"/></g>
<g class="t"><path d="M397.3,191.7L443.6,106.2"/><circle cx="397.3" cy="191.7"/><circle cx="443.6" cy="106.2"/></g>
<g class="t"><path d="M395,117.9L398.8,60.3L423.9,49.4L441,49.9L455.1,45.2L468.3,45.3L477.9,52L497.1,43.4L515.4,57.9"/><circle cx="395" cy="117.9"/><circle cx="398.8" cy="60.3"/><circle cx="423.9" cy="49.4"/><circle cx="441" cy="49.9"/><circle cx="455.1" cy="45.2"/><circle cx="468.3" cy="45.3"/><circle cx="477.9" cy="52"/><circle cx="497.1" cy="43.4"/><circle cx="515.4" cy="57.9"/></g>
<g class="t"><path d="M394.1,155L397.5,87L411.9,55.7L427.2,52.8L443.4,57.7L451.5,64.8"/><circle cx="394.1" cy="155"/><circle cx="397.5" cy="87"/><circle cx="411.9" cy="55.7"/><circle cx="427.2" cy="52.8"/><circle cx="443.4" cy="57.7"/><circle cx="451.5" cy="64.8"/></g>
<g class="p"><path d="M395.6,97L398.8,88.2L424.4,71.6L446.7,76.8L465.3,74.9L473.2,81.9L498.7,90.7L521.8,77.6"/><circle cx="395.6" cy="97"/><circle cx="398.8" cy="88.2"/><circle cx="424.4" cy="71.6"/><circle cx="446.7" cy="76.8"/><circle cx="465.3" cy="74.9"/><circle cx="473.2" cy="81.9"/><circle cx="498.7" cy="90.7"/><circle cx="521.8" cy="77.6"/></g>
<g class="p"><path d="M393.4,110.3L414,88.8L424,70.3L437.2,79.4L449,79.4L459.1,91.1L472.9,88.4"/><circle cx="393.4" cy="110.3"/><circle cx="414" cy="88.8"/><circle cx="424" cy="70.3"/><circle cx="437.2" cy="79.4"/><circle cx="449" cy="79.4"/><circle cx="459.1" cy="91.1"/><circle cx="472.9" cy="88.4"/></g>
<g class="p"><path d="M392.5,190L400.5,49.9L422.3,59.2L444.9,52.5L453.2,64.9L464,63.5L487.1,61.9L504,71.1"/><circle cx="392.5" cy="190"/><circle cx="400.5" cy="49.9"/><circle cx="422.3" cy="59.2"/><circle cx="444.9" cy="52.5"/><circle cx="453.2" cy="64.9"/><circle cx="464" cy="63.5"/><circle cx="487.1" cy="61.9"/><circle cx="504" cy="71.1"/></g>
<g class="p"><path d="M398.9,132.5L415.3,136.8L425.1,138.8L445.7,139.6L462.9,188.3L477.6,190.9L494.7,187.8L504.9,191.2"/><circle cx="398.9" cy="132.5"/><circle cx="415.3" cy="136.8"/><circle cx="425.1" cy="138.8"/><circle cx="445.7" cy="139.6"/><circle cx="462.9" cy="188.3"/><circle cx="477.6" cy="190.9"/><circle cx="494.7" cy="187.8"/><circle cx="504.9" cy="191.2"/></g>
<g class="t"><path d="M397.6,162.7L417.7,75L442.1,61.9L468.2,65.7L476.6,62.9L488.8,67.3L502.7,63.9L519.4,72.5"/><circle cx="397.6" cy="162.7"/><circle cx="417.7" cy="75"/><circle cx="442.1" cy="61.9"/><circle cx="468.2" cy="65.7"/><circle cx="476.6" cy="62.9"/><circle cx="488.8" cy="67.3"/><circle cx="502.7" cy="63.9"/><circle cx="519.4" cy="72.5"/></g>
<g class="t"><path d="M395.8,192.5L439,47.4L452.2,56.1L460.7,60.2L474.2,65.1"/><circle cx="395.8" cy="192.5"/><circle cx="439" cy="47.4"/><circle cx="452.2" cy="56.1"/><circle cx="460.7" cy="60.2"/><circle cx="474.2" cy="65.1"/></g>
<g class="p"><path d="M396.5,183.2L405.2,188.9L423.8,185L441.8,192.6L455.6,187.8L474.2,189.1L493.2,189L513.6,198.6"/><circle cx="396.5" cy="183.2"/><circle cx="405.2" cy="188.9"/><circle cx="423.8" cy="185"/><circle cx="441.8" cy="192.6"/><circle cx="455.6" cy="187.8"/><circle cx="474.2" cy="189.1"/><circle cx="493.2" cy="189"/><circle cx="513.6" cy="198.6"/></g>
<g class="p"><path d="M395.7,194.2L404.1,190.2L412.9,179.5L424.4,193.1L441.9,189.9L455.5,183.5L474.4,191.5L491.9,189.2L506.2,191.5"/><circle cx="395.7" cy="194.2"/><circle cx="404.1" cy="190.2"/><circle cx="412.9" cy="179.5"/><circle cx="424.4" cy="193.1"/><circle cx="441.9" cy="189.9"/><circle cx="455.5" cy="183.5"/><circle cx="474.4" cy="191.5"/><circle cx="491.9" cy="189.2"/><circle cx="506.2" cy="191.5"/></g>
<g class="p"><path d="M400.1,186.1L407.4,189.8L420.4,189.7L436.4,178.8L449.6,188.4L464.6,199.7L483.8,192.2L492.8,191L505.6,187.6"/><circle cx="400.1" cy="186.1"/><circle cx="407.4" cy="189.8"/><circle cx="420.4" cy="189.7"/><circle cx="436.4" cy="178.8"/><circle cx="449.6" cy="188.4"/><circle cx="464.6" cy="199.7"/><circle cx="483.8" cy="192.2"/><circle cx="492.8" cy="191"/><circle cx="505.6" cy="187.6"/></g>
<g class="t"><path d="M393.4,114.3L415.9,47.2L429.8,50.3L439.7,56.4L465.9,66.2L477.2,60.4L502.3,63.1"/><circle cx="393.4" cy="114.3"/><circle cx="415.9" cy="47.2"/><circle cx="429.8" cy="50.3"/><circle cx="439.7" cy="56.4"/><circle cx="465.9" cy="66.2"/><circle cx="477.2" cy="60.4"/><circle cx="502.3" cy="63.1"/></g>
<g class="t"><path d="M395.3,121.7L418.7,54.2L437.4,40.7L461.2,47.7L487.7,41.5L505.6,47L514.3,51.6"/><circle cx="395.3" cy="121.7"/><circle cx="418.7" cy="54.2"/><circle cx="437.4" cy="40.7"/><circle cx="461.2" cy="47.7"/><circle cx="487.7" cy="41.5"/><circle cx="505.6" cy="47"/><circle cx="514.3" cy="51.6"/></g>
<g class="p"><path d="M392.1,172.4L395.4,108.1L409.2,46.6L435.1,36L459.4,44.7L480.4,46.8L498.7,55.5"/><circle cx="392.1" cy="172.4"/><circle cx="395.4" cy="108.1"/><circle cx="409.2" cy="46.6"/><circle cx="435.1" cy="36"/><circle cx="459.4" cy="44.7"/><circle cx="480.4" cy="46.8"/><circle cx="498.7" cy="55.5"/></g>
<g class="p"><path d="M393,99.4L413.2,60.6L435.2,53.2L447.2,62.1L458.1,53.4L478,65.9L503.7,59.1L515,65.4"/><circle cx="393" cy="99.4"/><circle cx="413.2" cy="60.6"/><circle cx="435.2" cy="53.2"/><circle cx="447.2" cy="62.1"/><circle cx="458.1" cy="53.4"/><circle cx="478" cy="65.9"/><circle cx="503.7" cy="59.1"/><circle cx="515" cy="65.4"/></g>
<g class="t"><path d="M395.5,173L398.3,133.2L413.1,56L426.7,51.3L434.6,58.3L454.9,53.2"/><circle cx="395.5" cy="173"/><circle cx="398.3" cy="133.2"/><circle cx="413.1" cy="56"/><circle cx="426.7" cy="51.3"/><circle cx="434.6" cy="58.3"/><circle cx="454.9" cy="53.2"/></g>
<g class="p"><path d="M398.1,143L417.5,113.3L435.2,102.4L451.4,99.2"/><circle cx="398.1" cy="143"/><circle cx="417.5" cy="113.3"/><circle cx="435.2" cy="102.4"/><circle cx="451.4" cy="99.2"/></g>
<g class="t"><path d="M392.4,193.8L407.9,192.4L420.5,191.2L432.5,186.7L443.2,194.6L462.1,197.7L482,198.7L498.4,190.9L507.3,179.6"/><circle cx="392.4" cy="193.8"/><circle cx="407.9" cy="192.4"/><circle cx="420.5" cy="191.2"/><circle cx="432.5" cy="186.7"/><circle cx="443.2" cy="194.6"/><circle cx="462.1" cy="197.7"/><circle cx="482" cy="198.7"/><circle cx="498.4" cy="190.9"/><circle cx="507.3" cy="179.6"/></g>
<g class="p"><path d="M400.9,112.5L418.4,122.3L434.6,125.1L453.6,127L475.4,129L493.7,189.5L514.5,191.4"/><circle cx="400.9" cy="112.5"/><circle cx="418.4" cy="122.3"/><circle cx="434.6" cy="125.1"/><circle cx="453.6" cy="127"/><circle cx="475.4" cy="129"/><circle cx="493.7" cy="189.5"/><circle cx="514.5" cy="191.4"/></g>
<g class="t"><path d="M394.2,205.5L401.8,189.6L413.7,191.7L433.9,190.6L451.6,191.6L467.9,188.3L475,188.9L485.1,185.2L495,190.2L508.1,191.2"/><circle cx="394.2" cy="205.5"/><circle cx="401.8" cy="189.6"/><circle cx="413.7" cy="191.7"/><circle cx="433.9" cy="190.6"/><circle cx="451.6" cy="191.6"/><circle cx="467.9" cy="188.3"/><circle cx="475" cy="188.9"/><circle cx="485.1" cy="185.2"/><circle cx="495" cy="190.2"/><circle cx="508.1" cy="191.2"/></g>
<g class="t"><path d="M396.9,185.3L405.7,63.6L418.3,42.5L428.9,43.6L440.3,44.9L457.4,37.7L473.8,40.7L485.3,44.8L493.4,37.4L513.8,40.4"/><circle cx="396.9" cy="185.3"/><circle cx="405.7" cy="63.6"/><circle cx="418.3" cy="42.5"/><circle cx="428.9" cy="43.6"/><circle cx="440.3" cy="44.9"/><circle cx="457.4" cy="37.7"/><circle cx="473.8" cy="40.7"/><circle cx="485.3" cy="44.8"/><circle cx="493.4" cy="37.4"/><circle cx="513.8" cy="40.4"/></g>
<g class="t"><path d="M398.1,186.9L444.8,35.6L467,44.1L476.7,40L492.7,47.3L504.1,59.1"/><circle cx="398.1" cy="186.9"/><circle cx="444.8" cy="35.6"/><circle cx="467" cy="44.1"/><circle cx="476.7" cy="40"/><circle cx="492.7" cy="47.3"/><circle cx="504.1" cy="59.1"/></g>
<g class="p"><path d="M401.5,74.5L425.6,84.9L451,84.7L459.4,82L473.1,87.8L496.4,86.4L516.4,92.3"/><circle cx="401.5" cy="74.5"/><circle cx="425.6" cy="84.9"/><circle cx="451" cy="84.7"/><circle cx="459.4" cy="82"/><circle cx="473.1" cy="87.8"/><circle cx="496.4" cy="86.4"/><circle cx="516.4" cy="92.3"/></g>
<g class="t"><path d="M397.3,116.6L410,126.1L422,126.3L445.1,130.9L460.8,138L472.6,142.8L487.7,144.2L509.8,189.2"/><circle cx="397.3" cy="116.6"/><circle cx="410" cy="126.1"/><circle cx="422" cy="126.3"/><circle cx="445.1" cy="130.9"/><circle cx="460.8" cy="138"/><circle cx="472.6" cy="142.8"/><circle cx="487.7" cy="144.2"/><circle cx="509.8" cy="189.2"/></g>
<g class="t"><path d="M394.3,193.6L435,75.4L459.4,84.7L473.9,74.5L487.8,86.5L500.5,83.1L514.8,85.7"/><circle cx="394.3" cy="193.6"/><circle cx="435" cy="75.4"/><circle cx="459.4" cy="84.7"/><circle cx="473.9" cy="74.5"/><circle cx="487.8" cy="86.5"/><circle cx="500.5" cy="83.1"/><circle cx="514.8" cy="85.7"/></g>
<g class="t"><path d="M393.1,110.2L395.3,76.8L420.9,65.8L446.5,65.1L454.4,69.3L475.5,76L493.3,71.4L519.4,87.5"/><circle cx="393.1" cy="110.2"/><circle cx="395.3" cy="76.8"/><circle cx="420.9" cy="65.8"/><circle cx="446.5" cy="65.1"/><circle cx="454.4" cy="69.3"/><circle cx="475.5" cy="76"/><circle cx="493.3" cy="71.4"/><circle cx="519.4" cy="87.5"/></g>
<g class="p"><path d="M401.5,190.5L416.4,78.2L428,67.8L445,77L463.9,83"/><circle cx="401.5" cy="190.5"/><circle cx="416.4" cy="78.2"/><circle cx="428" cy="67.8"/><circle cx="445" cy="77"/><circle cx="463.9" cy="83"/></g>
<g class="t"><path d="M393.2,189.6L411.9,187.7L425.7,189.9L433,186.6L447.9,195.1L457.7,190.1L468.1,192.4L481.6,188.6L496.9,185.8L504,189.6"/><circle cx="393.2" cy="189.6"/><circle cx="411.9" cy="187.7"/><circle cx="425.7" cy="189.9"/><circle cx="433" cy="186.6"/><circle cx="447.9" cy="195.1"/><circle cx="457.7" cy="190.1"/><circle cx="468.1" cy="192.4"/><circle cx="481.6" cy="188.6"/><circle cx="496.9" cy="185.8"/><circle cx="504" cy="189.6"/></g>
<g class="t"><path d="M396.6,118.8L402.4,64.5L427.4,41.1L442.2,37.3L451.1,39.9L474.7,43.9L484.6,44.8L495.5,48.7L520.6,46.7"/><circle cx="396.6" cy="118.8"/><circle cx="402.4" cy="64.5"/><circle cx="427.4" cy="41.1"/><circle cx="442.2" cy="37.3"/><circle cx="451.1" cy="39.9"/><circle cx="474.7" cy="43.9"/><circle cx="484.6" cy="44.8"/><circle cx="495.5" cy="48.7"/><circle cx="520.6" cy="46.7"/></g>
<g class="t"><path d="M397.4,156.7L403.4,84.6L417.5,63.7L441.1,68L463.7,63L475,78L494.4,75.3L514.6,77.7"/><circle cx="397.4" cy="156.7"/><circle cx="403.4" cy="84.6"/><circle cx="417.5" cy="63.7"/><circle cx="441.1" cy="68"/><circle cx="463.7" cy="63"/><circle cx="475" cy="78"/><circle cx="494.4" cy="75.3"/><circle cx="514.6" cy="77.7"/></g>
<g class="p"><path d="M400.6,192.7L441.3,57.7L465.4,68.7L485.2,61.3L506.1,67.5L519.3,65.8"/><circle cx="400.6" cy="192.7"/><circle cx="441.3" cy="57.7"/><circle cx="465.4" cy="68.7"/><circle cx="485.2" cy="61.3"/><circle cx="506.1" cy="67.5"/><circle cx="519.3" cy="65.8"/></g>
<g class="t"><path d="M394.3,201.6L405.4,204.4L425.6,174.7L441.8,186.8L451.7,187.7L472.3,177.6L490.5,189.5L510.7,189.6"/><circle cx="394.3" cy="201.6"/><circle cx="405.4" cy="204.4"/><circle cx="425.6" cy="174.7"/><circle cx="441.8" cy="186.8"/><circle cx="451.7" cy="187.7"/><circle cx="472.3" cy="177.6"/><circle cx="490.5" cy="189.5"/><circle cx="510.7" cy="189.6"/></g>
<g class="t"><path d="M402,65.3L424.4,53.8L434.4,57.2L450.6,56.8"/><circle cx="402" cy="65.3"/><circle cx="424.4" cy="53.8"/><circle cx="434.4" cy="57.2"/><circle cx="450.6" cy="56.8"/></g>
<g class="p"><path d="M408.6,99.2L428,66.3L443.1,69.2L455.8,80.1L467.7,69.2L477.7,79.2L485.9,77"/><circle cx="408.6" cy="99.2"/><circle cx="428" cy="66.3"/><circle cx="443.1" cy="69.2"/><circle cx="455.8" cy="80.1"/><circle cx="467.7" cy="69.2"/><circle cx="477.7" cy="79.2"/><circle cx="485.9" cy="77"/></g>
<g class="t"><path d="M393.4,187.8L413.7,75.8L431.2,85.5L439.7,83.9L460.4,89.4L475.5,86.5L486.6,89.3"/><circle cx="393.4" cy="187.8"/><circle cx="413.7" cy="75.8"/><circle cx="431.2" cy="85.5"/><circle cx="439.7" cy="83.9"/><circle cx="460.4" cy="89.4"/><circle cx="475.5" cy="86.5"/><circle cx="486.6" cy="89.3"/></g>
<g class="t"><path d="M398.7,193.1L431.6,59.7L453.5,64.5L469,55.9"/><circle cx="398.7" cy="193.1"/><circle cx="431.6" cy="59.7"/><circle cx="453.5" cy="64.5"/><circle cx="469" cy="55.9"/></g>
<g class="p"><path d="M394.3,192.9L416.1,45.5L440.7,48.4L457.1,53.7L467.5,48.5L491.1,55.2L502.5,55.6L515.9,53.9"/><circle cx="394.3" cy="192.9"/><circle cx="416.1" cy="45.5"/><circle cx="440.7" cy="48.4"/><circle cx="457.1" cy="53.7"/><circle cx="467.5" cy="48.5"/><circle cx="491.1" cy="55.2"/><circle cx="502.5" cy="55.6"/><circle cx="515.9" cy="53.9"/></g>
<g class="t"><path d="M401.1,186L413.8,68.5L431.2,72L450.5,74.3L460.3,81.5L473.4,73.6L497.1,80.7L511.4,89.5"/><circle cx="401.1" cy="186"/><circle cx="413.8" cy="68.5"/><circle cx="431.2" cy="72"/><circle cx="450.5" cy="74.3"/><circle cx="460.3" cy="81.5"/><circle cx="473.4" cy="73.6"/><circle cx="497.1" cy="80.7"/><circle cx="511.4" cy="89.5"/></g>
<g class="p"><path d="M395.7,89L401.9,78.6L423.9,86.1L438.2,84.7L458.5,91.2L467.9,98.3L492.8,97.7L515,102.4"/><circle cx="395.7" cy="89"/><circle cx="401.9" cy="78.6"/><circle cx="423.9" cy="86.1"/><circle cx="438.2" cy="84.7"/><circle cx="458.5" cy="91.2"/><circle cx="467.9" cy="98.3"/><circle cx="492.8" cy="97.7"/><circle cx="515" cy="102.4"/></g>
<g class="t"><path d="M395.3,75.5L399,72.6L410.8,65.8L436.9,74.8L462.7,78.2L486.7,76.7L500.5,82.7L516.1,79"/><circle cx="395.3" cy="75.5"/><circle cx="399" cy="72.6"/><circle cx="410.8" cy="65.8"/><circle cx="436.9" cy="74.8"/><circle cx="462.7" cy="78.2"/><circle cx="486.7" cy="76.7"/><circle cx="500.5" cy="82.7"/><circle cx="516.1" cy="79"/></g>
<g class="t"><path d="M392.3,65.7L399.6,64L414.8,61.3L438.5,53.9L451.1,59.6L474.5,64.1L494,69.9L512,68.1"/><circle cx="392.3" cy="65.7"/><circle cx="399.6" cy="64"/><circle cx="414.8" cy="61.3"/><circle cx="438.5" cy="53.9"/><circle cx="451.1" cy="59.6"/><circle cx="474.5" cy="64.1"/><circle cx="494" cy="69.9"/><circle cx="512" cy="68.1"/></g>
<g class="p"><path d="M403.8,191.1L412.7,187.8L430.7,187.7L448.1,188.5L468,188.4L475.5,186.5L488.5,189.4L500.7,190.3"/><circle cx="403.8" cy="191.1"/><circle cx="412.7" cy="187.8"/><circle cx="430.7" cy="187.7"/><circle cx="448.1" cy="188.5"/><circle cx="468" cy="188.4"/><circle cx="475.5" cy="186.5"/><circle cx="488.5" cy="189.4"/><circle cx="500.7" cy="190.3"/></g>
<g class="p"><path d="M392.9,159.7L395.8,119.4L412.2,95.6L432,90.5L441.3,89.9L455.4,93.4L469,89.1L492.4,87.5L507.4,92.5L520.5,93.6"/><circle cx="392.9" cy="159.7"/><circle cx="395.8" cy="119.4"/><circle cx="412.2" cy="95.6"/><circle cx="432" cy="90.5"/><circle cx="441.3" cy="89.9"/><circle cx="455.4" cy="93.4"/><circle cx="469" cy="89.1"/><circle cx="492.4" cy="87.5"/><circle cx="507.4" cy="92.5"/><circle cx="520.5" cy="93.6"/></g>
<g class="p"><path d="M393,191.3L412,195.9L427.9,194L436.3,190.6L449.3,205.8L464.9,195.1L476.5,188L487,192L502,191.5L516.6,194.2"/><circle cx="393" cy="191.3"/><circle cx="412" cy="195.9"/><circle cx="427.9" cy="194"/><circle cx="436.3" cy="190.6"/><circle cx="449.3" cy="205.8"/><circle cx="464.9" cy="195.1"/><circle cx="476.5" cy="188"/><circle cx="487" cy="192"/><circle cx="502" cy="191.5"/><circle cx="516.6" cy="194.2"/></g>
<g class="p"><path d="M399.3,85.6L403.6,60.2L423.6,49L437.3,45.3"/><circle cx="399.3" cy="85.6"/><circle cx="403.6" cy="60.2"/><circle cx="423.6" cy="49"/><circle cx="437.3" cy="45.3"/></g>
<g class="t"><path d="M392.6,103.5L415.4,63.7L435.7,49.1L459,53L484.2,50.6L493.9,43.5L509.2,44.6L521.4,51.2"/><circle cx="392.6" cy="103.5"/><circle cx="415.4" cy="63.7"/><circle cx="435.7" cy="49.1"/><circle cx="459" cy="53"/><circle cx="484.2" cy="50.6"/><circle cx="493.9" cy="43.5"/><circle cx="509.2" cy="44.6"/><circle cx="521.4" cy="51.2"/></g>
<g class="t"><path d="M392.2,154.2L412.6,61L431.3,41.8L449.4,39.1L471.5,40"/><circle cx="392.2" cy="154.2"/><circle cx="412.6" cy="61"/><circle cx="431.3" cy="41.8"/><circle cx="449.4" cy="39.1"/><circle cx="471.5" cy="40"/></g>
<g class="t"><path d="M400.1,192.7L450.6,166.2"/><circle cx="400.1" cy="192.7"/><circle cx="450.6" cy="166.2"/></g>
<g class="p"><path d="M397.9,189.5L415.2,191.2L423.7,186.6L442.5,188L452.8,191.3L472.2,190.9L484.3,190.2L499.1,187.4L515.1,191.2"/><circle cx="397.9" cy="189.5"/><circle cx="415.2" cy="191.2"/><circle cx="423.7" cy="186.6"/><circle cx="442.5" cy="188"/><circle cx="452.8" cy="191.3"/><circle cx="472.2" cy="190.9"/><circle cx="484.3" cy="190.2"/><circle cx="499.1" cy="187.4"/><circle cx="515.1" cy="191.2"/></g>
<g class="t"><path d="M393.1,88.8L407.6,43L420.4,41L434.1,36.9L444.9,41.1L454.4,42.8L467.2,47.8L493.5,43.2L509.8,46.5"/><circle cx="393.1" cy="88.8"/><circle cx="407.6" cy="43"/><circle cx="420.4" cy="41"/><circle cx="434.1" cy="36.9"/><circle cx="444.9" cy="41.1"/><circle cx="454.4" cy="42.8"/><circle cx="467.2" cy="47.8"/><circle cx="493.5" cy="43.2"/><circle cx="509.8" cy="46.5"/></g>
<g class="t"><path d="M397.5,114.7L403,89.2L425.6,51.1L434.8,49L446.1,53.2L455,59.8L476.1,62.5L501.9,59.8"/><circle cx="397.5" cy="114.7"/><circle cx="403" cy="89.2"/><circle cx="425.6" cy="51.1"/><circle cx="434.8" cy="49"/><circle cx="446.1" cy="53.2"/><circle cx="455" cy="59.8"/><circle cx="476.1" cy="62.5"/><circle cx="501.9" cy="59.8"/></g>
<g class="p"><path d="M394.5,130.6L415.2,70.4L441.1,73L462.1,74.9L476.7,67.2L496.7,61.9L511.3,70L519.3,68.2"/><circle cx="394.5" cy="130.6"/><circle cx="415.2" cy="70.4"/><circle cx="441.1" cy="73"/><circle cx="462.1" cy="74.9"/><circle cx="476.7" cy="67.2"/><circle cx="496.7" cy="61.9"/><circle cx="511.3" cy="70"/><circle cx="519.3" cy="68.2"/></g>
<g class="p"><path d="M394.9,191.8L405.2,190.9L418.4,186.8L426,192L444.8,186.4L456.8,187L465.5,191.5L482.4,187.6L501,189.5L509.7,190.1"/><circle cx="394.9" cy="191.8"/><circle cx="405.2" cy="190.9"/><circle cx="418.4" cy="186.8"/><circle cx="426" cy="192"/><circle cx="444.8" cy="186.4"/><circle cx="456.8" cy="187"/><circle cx="465.5" cy="191.5"/><circle cx="482.4" cy="187.6"/><circle cx="501" cy="189.5"/><circle cx="509.7" cy="190.1"/></g>
<g class="t"><path d="M402,87.9L425.3,68.9L450.2,68.1L473.5,72.9L496.3,73.5L508.8,77.1"/><circle cx="402" cy="87.9"/><circle cx="425.3" cy="68.9"/><circle cx="450.2" cy="68.1"/><circle cx="473.5" cy="72.9"/><circle cx="496.3" cy="73.5"/><circle cx="508.8" cy="77.1"/></g>
<g class="t"><path d="M402.2,133.7L408,87.5L417.5,65.8L429.8,55.1L441.9,56L465.3,53.7L476.2,55.2"/><circle cx="402.2" cy="133.7"/><circle cx="408" cy="87.5"/><circle cx="417.5" cy="65.8"/><circle cx="429.8" cy="55.1"/><circle cx="441.9" cy="56"/><circle cx="465.3" cy="53.7"/><circle cx="476.2" cy="55.2"/></g>
<g class="p"><path d="M401.9,188.9L453,58.8L474.9,55L496.3,66.5"/><circle cx="401.9" cy="188.9"/><circle cx="453" cy="58.8"/><circle cx="474.9" cy="55"/><circle cx="496.3" cy="66.5"/></g>
<g class="t"><path d="M393.4,139.4L413,45.9L425.7,50.4L439.6,47.7L452.5,59.1L461.3,46.4L477.7,57.6L486.2,67.7"/><circle cx="393.4" cy="139.4"/><circle cx="413" cy="45.9"/><circle cx="425.7" cy="50.4"/><circle cx="439.6" cy="47.7"/><circle cx="452.5" cy="59.1"/><circle cx="461.3" cy="46.4"/><circle cx="477.7" cy="57.6"/><circle cx="486.2" cy="67.7"/></g>
<g class="p"><path d="M434.6,119.9L475.4,132.3L511.9,134.9"/><circle cx="434.6" cy="119.9"/><circle cx="475.4" cy="132.3"/><circle cx="511.9" cy="134.9"/></g>
<g class="p"><path d="M393.6,192.1L427.8,83.1L440,81.3L450.4,90.4L460.6,89.3"/><circle cx="393.6" cy="192.1"/><circle cx="427.8" cy="83.1"/><circle cx="440" cy="81.3"/><circle cx="450.4" cy="90.4"/><circle cx="460.6" cy="89.3"/></g>
<g class="p"><path d="M398.5,120.7L408.5,87.7L417.6,71.6L427.4,68.2L436.9,64.3L457.2,59.2L483.6,60.3L502.5,58.4"/><circle cx="398.5" cy="120.7"/><circle cx="408.5" cy="87.7"/><circle cx="417.6" cy="71.6"/><circle cx="427.4" cy="68.2"/><circle cx="436.9" cy="64.3"/><circle cx="457.2" cy="59.2"/><circle cx="483.6" cy="60.3"/><circle cx="502.5" cy="58.4"/></g>
<g class="p"><path d="M401.9,190.4L426.6,108L444.8,65.7L465.1,76.1L473.6,59.4L487.4,75.4"/><circle cx="401.9" cy="190.4"/><circle cx="426.6" cy="108"/><circle cx="444.8" cy="65.7"/><circle cx="465.1" cy="76.1"/><circle cx="473.6" cy="59.4"/><circle cx="487.4" cy="75.4"/></g>
<g class="t"><path d="M394.5,131L420.4,66.4L436.7,69L445.4,68.8L462.5,67.5L486.3,69.4L500,84.9L516.3,76.3"/><circle cx="394.5" cy="131"/><circle cx="420.4" cy="66.4"/><circle cx="436.7" cy="69"/><circle cx="445.4" cy="68.8"/><circle cx="462.5" cy="67.5"/><circle cx="486.3" cy="69.4"/><circle cx="500" cy="84.9"/><circle cx="516.3" cy="76.3"/></g>
<g class="t"><path d="M399.2,179.8L419.5,196L427.8,191.3L442.9,193.7L456.3,193L473.1,194.8L484.6,191.6L495.1,194.3L504.1,191.7L511.2,194.2"/><circle cx="399.2" cy="179.8"/><circle cx="419.5" cy="196"/><circle cx="427.8" cy="191.3"/><circle cx="442.9" cy="193.7"/><circle cx="456.3" cy="193"/><circle cx="473.1" cy="194.8"/><circle cx="484.6" cy="191.6"/><circle cx="495.1" cy="194.3"/><circle cx="504.1" cy="191.7"/><circle cx="511.2" cy="194.2"/></g>
<g class="t"><path d="M405,106.7L416.7,59.1L432,42.9L452.2,45.9L476.4,52.4L500.5,51.9"/><circle cx="405" cy="106.7"/><circle cx="416.7" cy="59.1"/><circle cx="432" cy="42.9"/><circle cx="452.2" cy="45.9"/><circle cx="476.4" cy="52.4"/><circle cx="500.5" cy="51.9"/></g>
<g class="p"><path d="M393,192.4L411.6,195.6L424.1,193.2L437,194L449.1,193.4L461.1,188.6L473.4,192.7L482.4,189.4L498.3,194.4L511.6,188.3"/><circle cx="393" cy="192.4"/><circle cx="411.6" cy="195.6"/><circle cx="424.1" cy="193.2"/><circle cx="437" cy="194"/><circle cx="449.1" cy="193.4"/><circle cx="461.1" cy="188.6"/><circle cx="473.4" cy="192.7"/><circle cx="482.4" cy="189.4"/><circle cx="498.3" cy="194.4"/><circle cx="511.6" cy="188.3"/></g>
<g class="t"><path d="M396.7,190.1L427.9,38.9L440,42L458.9,43L482.6,36.5L506.3,45.9L517.1,54.6"/><circle cx="396.7" cy="190.1"/><circle cx="427.9" cy="38.9"/><circle cx="440" cy="42"/><circle cx="458.9" cy="43"/><circle cx="482.6" cy="36.5"/><circle cx="506.3" cy="45.9"/><circle cx="517.1" cy="54.6"/></g>
<g class="p"><path d="M400,191.6L433.9,77.7L442.8,80L450.7,78.5L471.3,84.5L486.9,77.9L509.1,88.4L518.6,84.4"/><circle cx="400" cy="191.6"/><circle cx="433.9" cy="77.7"/><circle cx="442.8" cy="80"/><circle cx="450.7" cy="78.5"/><circle cx="471.3" cy="84.5"/><circle cx="486.9" cy="77.9"/><circle cx="509.1" cy="88.4"/><circle cx="518.6" cy="84.4"/></g>
<g class="t"><path d="M392.4,191L412.4,42.4L423.5,43.9L447.2,37.7L457.8,46.5L471.7,41.7L495.9,47L509,61.9L520,49.5"/><circle cx="392.4" cy="191"/><circle cx="412.4" cy="42.4"/><circle cx="423.5" cy="43.9"/><circle cx="447.2" cy="37.7"/><circle cx="457.8" cy="46.5"/><circle cx="471.7" cy="41.7"/><circle cx="495.9" cy="47"/><circle cx="509" cy="61.9"/><circle cx="520" cy="49.5"/></g>
<g class="t"><path d="M403.2,144.3L428.4,43L443.3,41L468.5,40.7L483.7,44.5L499.6,39.4L513.4,41.5"/><circle cx="403.2" cy="144.3"/><circle cx="428.4" cy="43"/><circle cx="443.3" cy="41"/><circle cx="468.5" cy="40.7"/><circle cx="483.7" cy="44.5"/><circle cx="499.6" cy="39.4"/><circle cx="513.4" cy="41.5"/></g>
<g class="p"><path d="M396.7,75.8L412.9,65.4L435.1,62.6L445.9,64.1L456.8,63.7L471.8,68.4L487.6,66.1L509.6,65.7"/><circle cx="396.7" cy="75.8"/><circle cx="412.9" cy="65.4"/><circle cx="435.1" cy="62.6"/><circle cx="445.9" cy="64.1"/><circle cx="456.8" cy="63.7"/><circle cx="471.8" cy="68.4"/><circle cx="487.6" cy="66.1"/><circle cx="509.6" cy="65.7"/></g>
<g class="p"><path d="M392.5,70.6L399.7,94.2L416.8,98.4L436.1,96.3L455.2,100.1L476.7,107.6L494,104.2L506.7,98.7"/><circle cx="392.5" cy="70.6"/><circle cx="399.7" cy="94.2"/><circle cx="416.8" cy="98.4"/><circle cx="436.1" cy="96.3"/><circle cx="455.2" cy="100.1"/><circle cx="476.7" cy="107.6"/><circle cx="494" cy="104.2"/><circle cx="506.7" cy="98.7"/></g>
<g class="p"><path d="M399.4,193.5L414.5,194.2L423.9,191.7L436.6,190.7L447.9,189L465.7,197.9L479,194.3L490.6,190.8L507.6,192.7"/><circle cx="399.4" cy="193.5"/><circle cx="414.5" cy="194.2"/><circle cx="423.9" cy="191.7"/><circle cx="436.6" cy="190.7"/><circle cx="447.9" cy="189"/><circle cx="465.7" cy="197.9"/><circle cx="479" cy="194.3"/><circle cx="490.6" cy="190.8"/><circle cx="507.6" cy="192.7"/></g>
<g class="p"><path d="M395.2,187.1L404.7,184L422.4,186.4L440.8,191.6L451.3,185.7L465.6,184.1L473.8,188L493.2,191.5L502.2,189.6L509.9,194.3"/><circle cx="395.2" cy="187.1"/><circle cx="404.7" cy="184"/><circle cx="422.4" cy="186.4"/><circle cx="440.8" cy="191.6"/><circle cx="451.3" cy="185.7"/><circle cx="465.6" cy="184.1"/><circle cx="473.8" cy="188"/><circle cx="493.2" cy="191.5"/><circle cx="502.2" cy="189.6"/><circle cx="509.9" cy="194.3"/></g>
<g class="p"><path d="M397,189.9L407.1,190.1L421.1,190L440.9,189.9L450.6,198.7L465,175.8L476.8,192.4L485.3,195.1L494.8,188.7L511.1,187.1"/><circle cx="397" cy="189.9"/><circle cx="407.1" cy="190.1"/><circle cx="421.1" cy="190"/><circle cx="440.9" cy="189.9"/><circle cx="450.6" cy="198.7"/><circle cx="465" cy="175.8"/><circle cx="476.8" cy="192.4"/><circle cx="485.3" cy="195.1"/><circle cx="494.8" cy="188.7"/><circle cx="511.1" cy="187.1"/></g>
<g class="p"><path d="M395.8,124.5L400.3,105.7L414.1,90.7L431.5,97.1L445.9,94.9L454.9,91.7L463,102.1L483.4,98L496.1,94.3L512,96.6"/><circle cx="395.8" cy="124.5"/><circle cx="400.3" cy="105.7"/><circle cx="414.1" cy="90.7"/><circle cx="431.5" cy="97.1"/><circle cx="445.9" cy="94.9"/><circle cx="454.9" cy="91.7"/><circle cx="463" cy="102.1"/><circle cx="483.4" cy="98"/><circle cx="496.1" cy="94.3"/><circle cx="512" cy="96.6"/></g>
<g class="t"><path d="M402.7,71.3L418.9,74L435.7,79.2L455.8,84.4L473.2,92.3L489.3,101.5"/><circle cx="402.7" cy="71.3"/><circle cx="418.9" cy="74"/><circle cx="435.7" cy="79.2"/><circle cx="455.8" cy="84.4"/><circle cx="473.2" cy="92.3"/><circle cx="489.3" cy="101.5"/></g>
<path d="M392.1,146.4L392.6,143.1L393.2,139.8L393.7,136.4L394.2,132.9L394.8,129.2L395.3,125.3L395.8,121.4L396.4,117.5L396.9,113.9L397.4,110.7L397.9,107.7L398.5,104.9L399,102.3L399.5,99.9L400.1,97.6L400.6,95.6L401.1,93.7L401.7,91.8L402.2,90.1L402.7,88.4L403.3,86.8L403.8,85.2L404.3,83.8L404.9,82.4L405.4,81.1L405.9,80L406.3,79.2L407.7,76.5L409.1,74L410.5,71.9L412,70.3L413.4,69.2L414.8,68.2L416.2,67.4L417.6,66.7L419,66.2L420.5,66L421.9,66L423.3,66.2L424.7,66.5L426.1,66.9L427.6,67.3L429,67.8L430.4,68.2L431.8,68.7L433.2,69.1L434.6,69.7L436.1,70.2L437.5,70.8L438.9,71.4L440.3,72L441.7,72.6L443.1,73.2L444.6,73.8L446,74.4L447.4,75L448.8,75.5L450.2,76L451.7,76.5L453.1,77L454.5,77.5L455.9,77.9L457.3,78.4L458.7,78.8L460.2,79.2L461.6,79.6L463,80L464.4,80.4L465.8,80.8L467.3,81.1L468.7,81.4L470.1,81.8L471.5,82.1L472.9,82.4L474.3,82.7L475.8,83L477.2,83.3L478.6,83.6L480,83.8L481.4,84.1L482.9,84.4L484.3,84.6L485.7,84.9L487.1,85.1L488.5,85.4L489.9,85.6L491.4,85.9L492.8,86.1L494.2,86.3L495.6,86.5L497,86.7L498.5,86.9L499.9,87.1L501.3,87.3L502.7,87.5L504.1,87.7L505.5,87.9L507,88L508.4,88.2L509.8,88.3L511.2,88.5L512.6,88.6L514,88.8L515.5,88.9L516.9,89L518.3,89.1L519.7,89.2L521.1,89.3L521.8,89.4L521.8,117.7L521.1,117.5L519.7,117.1L518.3,116.7L516.9,116.3L515.5,115.9L514,115.5L512.6,115.1L511.2,114.6L509.8,114.2L508.4,113.8L507,113.3L505.5,112.9L504.1,112.5L502.7,112L501.3,111.6L499.9,111.1L498.5,110.7L497,110.2L495.6,109.8L494.2,109.3L492.8,108.9L491.4,108.4L489.9,108L488.5,107.5L487.1,107L485.7,106.5L484.3,106L482.9,105.5L481.4,105L480,104.5L478.6,104L477.2,103.4L475.8,102.9L474.3,102.3L472.9,101.8L471.5,101.2L470.1,100.7L468.7,100.2L467.3,99.6L465.8,99.1L464.4,98.6L463,98.1L461.6,97.6L460.2,97.1L458.7,96.6L457.3,96.1L455.9,95.6L454.5,95.2L453.1,94.7L451.7,94.2L450.2,93.7L448.8,93.2L447.4,92.7L446,92.2L444.6,91.6L443.1,91L441.7,90.5L440.3,89.9L438.9,89.3L437.5,88.8L436.1,88.2L434.6,87.7L433.2,87.2L431.8,86.8L430.4,86.4L429,86L427.6,85.6L426.1,85.2L424.7,84.9L423.3,84.6L421.9,84.5L420.5,84.5L419,84.8L417.6,85.3L416.2,86.1L414.8,87L413.4,88.1L412,89.3L410.5,91L409.1,93.2L407.7,95.8L406.3,98.6L405.9,99.4L405.4,100.6L404.9,101.9L404.3,103.2L403.8,104.7L403.3,106.2L402.7,107.8L402.2,109.5L401.7,111.3L401.1,113.1L400.6,115L400.1,116.9L399.5,119.1L399,121.5L398.5,124L397.9,126.8L397.4,129.6L396.9,132.7L396.4,136.2L395.8,140L395.3,143.8L394.8,147.6L394.2,151.1L393.7,154.5L393.2,157.8L392.6,161L392.1,164.1Z" fill="#4FE3CF" fill-opacity="0.5"/>
<path d="M392.1,146.4L392.6,143.1L393.2,139.8L393.7,136.4L394.2,132.9L394.8,129.2L395.3,125.3L395.8,121.4L396.4,117.5L396.9,113.9L397.4,110.7L397.9,107.7L398.5,104.9L399,102.3L399.5,99.9L400.1,97.6L400.6,95.6L401.1,93.7L401.7,91.8L402.2,90.1L402.7,88.4L403.3,86.8L403.8,85.2L404.3,83.8L404.9,82.4L405.4,81.1L405.9,80L406.3,79.2L407.7,76.5L409.1,74L410.5,71.9L412,70.3L413.4,69.2L414.8,68.2L416.2,67.4L417.6,66.7L419,66.2L420.5,66L421.9,66L423.3,66.2L424.7,66.5L426.1,66.9L427.6,67.3L429,67.8L430.4,68.2L431.8,68.7L433.2,69.1L434.6,69.7L436.1,70.2L437.5,70.8L438.9,71.4L440.3,72L441.7,72.6L443.1,73.2L444.6,73.8L446,74.4L447.4,75L448.8,75.5L450.2,76L451.7,76.5L453.1,77L454.5,77.5L455.9,77.9L457.3,78.4L458.7,78.8L460.2,79.2L461.6,79.6L463,80L464.4,80.4L465.8,80.8L467.3,81.1L468.7,81.4L470.1,81.8L471.5,82.1L472.9,82.4L474.3,82.7L475.8,83L477.2,83.3L478.6,83.6L480,83.8L481.4,84.1L482.9,84.4L484.3,84.6L485.7,84.9L487.1,85.1L488.5,85.4L489.9,85.6L491.4,85.9L492.8,86.1L494.2,86.3L495.6,86.5L497,86.7L498.5,86.9L499.9,87.1L501.3,87.3L502.7,87.5L504.1,87.7L505.5,87.9L507,88L508.4,88.2L509.8,88.3L511.2,88.5L512.6,88.6L514,88.8L515.5,88.9L516.9,89L518.3,89.1L519.7,89.2L521.1,89.3L521.8,89.4" fill="none" stroke="#22BDAE" stroke-width="1.5" stroke-dasharray="5,5.3" stroke-opacity="0.9"/>
<path d="M392.1,164.1L392.6,161L393.2,157.8L393.7,154.5L394.2,151.1L394.8,147.6L395.3,143.8L395.8,140L396.4,136.2L396.9,132.7L397.4,129.6L397.9,126.8L398.5,124L399,121.5L399.5,119.1L400.1,116.9L400.6,115L401.1,113.1L401.7,111.3L402.2,109.5L402.7,107.8L403.3,106.2L403.8,104.7L404.3,103.2L404.9,101.9L405.4,100.6L405.9,99.4L406.3,98.6L407.7,95.8L409.1,93.2L410.5,91L412,89.3L413.4,88.1L414.8,87L416.2,86.1L417.6,85.3L419,84.8L420.5,84.5L421.9,84.5L423.3,84.6L424.7,84.9L426.1,85.2L427.6,85.6L429,86L430.4,86.4L431.8,86.8L433.2,87.2L434.6,87.7L436.1,88.2L437.5,88.8L438.9,89.3L440.3,89.9L441.7,90.5L443.1,91L444.6,91.6L446,92.2L447.4,92.7L448.8,93.2L450.2,93.7L451.7,94.2L453.1,94.7L454.5,95.2L455.9,95.6L457.3,96.1L458.7,96.6L460.2,97.1L461.6,97.6L463,98.1L464.4,98.6L465.8,99.1L467.3,99.6L468.7,100.2L470.1,100.7L471.5,101.2L472.9,101.8L474.3,102.3L475.8,102.9L477.2,103.4L478.6,104L480,104.5L481.4,105L482.9,105.5L484.3,106L485.7,106.5L487.1,107L488.5,107.5L489.9,108L491.4,108.4L492.8,108.9L494.2,109.3L495.6,109.8L497,110.2L498.5,110.7L499.9,111.1L501.3,111.6L502.7,112L504.1,112.5L505.5,112.9L507,113.3L508.4,113.8L509.8,114.2L511.2,114.6L512.6,115.1L514,115.5L515.5,115.9L516.9,116.3L518.3,116.7L519.7,117.1L521.1,117.5L521.8,117.7" fill="none" stroke="#22BDAE" stroke-width="1.5" stroke-dasharray="5,5.3" stroke-opacity="0.9"/>
<path d="M392.1,155.3L392.6,152.1L393.2,148.8L393.7,145.4L394.2,142L394.8,138.4L395.3,134.5L395.8,130.7L396.4,126.9L396.9,123.3L397.4,120.2L397.9,117.3L398.5,114.5L399,111.9L399.5,109.5L400.1,107.3L400.6,105.3L401.1,103.4L401.7,101.6L402.2,99.8L402.7,98.1L403.3,96.5L403.8,95L404.3,93.5L404.9,92.1L405.4,90.9L405.9,89.7L406.3,88.9L407.7,86.2L409.1,83.6L410.5,81.5L412,79.8L413.4,78.7L414.8,77.6L416.2,76.7L417.6,76L419,75.5L420.5,75.2L421.9,75.3L423.3,75.4L424.7,75.7L426.1,76.1L427.6,76.5L429,76.9L430.4,77.3L431.8,77.7L433.2,78.2L434.6,78.7L436.1,79.2L437.5,79.8L438.9,80.3L440.3,80.9L441.7,81.5L443.1,82.1L444.6,82.7L446,83.3L447.4,83.9L448.8,84.4L450.2,84.9L451.7,85.4L453.1,85.8L454.5,86.3L455.9,86.8L457.3,87.2L458.7,87.7L460.2,88.2L461.6,88.6L463,89.1L464.4,89.5L465.8,89.9L467.3,90.4L468.7,90.8L470.1,91.2L471.5,91.7L472.9,92.1L474.3,92.5L475.8,92.9L477.2,93.3L478.6,93.8L480,94.2L481.4,94.6L482.9,95L484.3,95.3L485.7,95.7L487.1,96.1L488.5,96.4L489.9,96.8L491.4,97.1L492.8,97.5L494.2,97.8L495.6,98.2L497,98.5L498.5,98.8L499.9,99.1L501.3,99.5L502.7,99.8L504.1,100.1L505.5,100.4L507,100.7L508.4,101L509.8,101.3L511.2,101.6L512.6,101.8L514,102.1L515.5,102.4L516.9,102.6L518.3,102.9L519.7,103.2L521.1,103.4L521.8,103.5" fill="none" stroke="#35D3C3" stroke-width="2.6" stroke-opacity="0.85"/>
<path d="M392.1,151.7L392.6,150.2L393.2,148.5L393.7,146.8L394.2,144.9L394.8,142.9L395.3,140.8L395.8,138.7L396.4,136.4L396.9,134.1L397.4,131.8L397.9,129.1L398.5,126L399,122.8L399.5,119.6L400.1,116.4L400.6,113.6L401.1,111.3L401.7,109.5L402.2,107.9L402.7,106.6L403.3,105.3L403.8,104.1L404.3,102.8L404.9,101.5L405.4,100L405.9,98.5L406.3,97.4L407.7,93.4L409.1,90L410.5,87.8L412,86.5L413.4,85.2L414.8,84.2L416.2,83.3L417.6,82.6L419,82.1L420.5,81.9L421.9,81.9L423.3,81.9L424.7,82.1L426.1,82.3L427.6,82.5L429,82.7L430.4,82.9L431.8,83.1L433.2,83.3L434.6,83.6L436.1,83.9L437.5,84.2L438.9,84.5L440.3,84.9L441.7,85.2L443.1,85.6L444.6,85.9L446,86.2L447.4,86.6L448.8,86.9L450.2,87.2L451.7,87.5L453.1,87.8L454.5,88.1L455.9,88.5L457.3,88.8L458.7,89.1L460.2,89.4L461.6,89.7L463,90.1L464.4,90.3L465.8,90.6L467.3,90.9L468.7,91.2L470.1,91.4L471.5,91.6L472.9,91.9L474.3,92.1L475.8,92.3L477.2,92.5L478.6,92.7L480,92.9L481.4,93.1L482.9,93.4L484.3,93.6L485.7,93.8L487.1,94L488.5,94.2L489.9,94.5L491.4,94.7L492.8,94.9L494.2,95.2L495.6,95.4L497,95.6L498.5,95.9L499.9,96.1L501.3,96.4L502.7,96.6L504.1,96.8L505.5,97.1L507,97.3L508.4,97.6L509.8,97.8L511.2,98.1L512.6,98.3L514,98.6L515.5,98.8L516.9,99.1L518.3,99.3L519.7,99.6L521.1,99.9L521.8,100L521.8,126.5L521.1,126.3L519.7,125.9L518.3,125.6L516.9,125.2L515.5,124.8L514,124.4L512.6,124L511.2,123.7L509.8,123.3L508.4,122.9L507,122.6L505.5,122.2L504.1,121.9L502.7,121.5L501.3,121.1L499.9,120.8L498.5,120.5L497,120.1L495.6,119.8L494.2,119.4L492.8,119.1L491.4,118.8L489.9,118.4L488.5,118.1L487.1,117.8L485.7,117.5L484.3,117.2L482.9,116.9L481.4,116.6L480,116.3L478.6,116L477.2,115.8L475.8,115.5L474.3,115.2L472.9,114.9L471.5,114.6L470.1,114.3L468.7,114L467.3,113.6L465.8,113.3L464.4,112.9L463,112.6L461.6,112.2L460.2,111.8L458.7,111.4L457.3,111L455.9,110.6L454.5,110.2L453.1,109.7L451.7,109.3L450.2,108.9L448.8,108.5L447.4,108L446,107.6L444.6,107.1L443.1,106.6L441.7,106.1L440.3,105.6L438.9,105.2L437.5,104.7L436.1,104.3L434.6,103.8L433.2,103.5L431.8,103.1L430.4,102.8L429,102.5L427.6,102.2L426.1,101.9L424.7,101.7L423.3,101.5L421.9,101.3L420.5,101.3L419,101.5L417.6,102L416.2,102.8L414.8,103.8L413.4,105L412,106.3L410.5,107.7L409.1,110.1L407.7,113.6L406.3,117.7L405.9,118.7L405.4,120.3L404.9,121.8L404.3,123.1L403.8,124.4L403.3,125.7L402.7,126.9L402.2,128.3L401.7,129.8L401.1,131.5L400.6,133.8L400.1,136.6L399.5,139.6L399,142.7L398.5,145.8L397.9,148.7L397.4,151.3L396.9,153.5L396.4,155.6L395.8,157.7L395.3,159.7L394.8,161.5L394.2,163.3L393.7,165L393.2,166.6L392.6,168.1L392.1,169.4Z" fill="#E5898D" fill-opacity="0.5"/>
<path d="M392.1,151.7L392.6,150.2L393.2,148.5L393.7,146.8L394.2,144.9L394.8,142.9L395.3,140.8L395.8,138.7L396.4,136.4L396.9,134.1L397.4,131.8L397.9,129.1L398.5,126L399,122.8L399.5,119.6L400.1,116.4L400.6,113.6L401.1,111.3L401.7,109.5L402.2,107.9L402.7,106.6L403.3,105.3L403.8,104.1L404.3,102.8L404.9,101.5L405.4,100L405.9,98.5L406.3,97.4L407.7,93.4L409.1,90L410.5,87.8L412,86.5L413.4,85.2L414.8,84.2L416.2,83.3L417.6,82.6L419,82.1L420.5,81.9L421.9,81.9L423.3,81.9L424.7,82.1L426.1,82.3L427.6,82.5L429,82.7L430.4,82.9L431.8,83.1L433.2,83.3L434.6,83.6L436.1,83.9L437.5,84.2L438.9,84.5L440.3,84.9L441.7,85.2L443.1,85.6L444.6,85.9L446,86.2L447.4,86.6L448.8,86.9L450.2,87.2L451.7,87.5L453.1,87.8L454.5,88.1L455.9,88.5L457.3,88.8L458.7,89.1L460.2,89.4L461.6,89.7L463,90.1L464.4,90.3L465.8,90.6L467.3,90.9L468.7,91.2L470.1,91.4L471.5,91.6L472.9,91.9L474.3,92.1L475.8,92.3L477.2,92.5L478.6,92.7L480,92.9L481.4,93.1L482.9,93.4L484.3,93.6L485.7,93.8L487.1,94L488.5,94.2L489.9,94.5L491.4,94.7L492.8,94.9L494.2,95.2L495.6,95.4L497,95.6L498.5,95.9L499.9,96.1L501.3,96.4L502.7,96.6L504.1,96.8L505.5,97.1L507,97.3L508.4,97.6L509.8,97.8L511.2,98.1L512.6,98.3L514,98.6L515.5,98.8L516.9,99.1L518.3,99.3L519.7,99.6L521.1,99.9L521.8,100" fill="none" stroke="#D85F63" stroke-width="1.5" stroke-dasharray="5,5.3" stroke-opacity="0.9"/>
<path d="M392.1,169.4L392.6,168.1L393.2,166.6L393.7,165L394.2,163.3L394.8,161.5L395.3,159.7L395.8,157.7L396.4,155.6L396.9,153.5L397.4,151.3L397.9,148.7L398.5,145.8L399,142.7L399.5,139.6L400.1,136.6L400.6,133.8L401.1,131.5L401.7,129.8L402.2,128.3L402.7,126.9L403.3,125.7L403.8,124.4L404.3,123.1L404.9,121.8L405.4,120.3L405.9,118.7L406.3,117.7L407.7,113.6L409.1,110.1L410.5,107.7L412,106.3L413.4,105L414.8,103.8L416.2,102.8L417.6,102L419,101.5L420.5,101.3L421.9,101.3L423.3,101.5L424.7,101.7L426.1,101.9L427.6,102.2L429,102.5L430.4,102.8L431.8,103.1L433.2,103.5L434.6,103.8L436.1,104.3L437.5,104.7L438.9,105.2L440.3,105.6L441.7,106.1L443.1,106.6L444.6,107.1L446,107.6L447.4,108L448.8,108.5L450.2,108.9L451.7,109.3L453.1,109.7L454.5,110.2L455.9,110.6L457.3,111L458.7,111.4L460.2,111.8L461.6,112.2L463,112.6L464.4,112.9L465.8,113.3L467.3,113.6L468.7,114L470.1,114.3L471.5,114.6L472.9,114.9L474.3,115.2L475.8,115.5L477.2,115.8L478.6,116L480,116.3L481.4,116.6L482.9,116.9L484.3,117.2L485.7,117.5L487.1,117.8L488.5,118.1L489.9,118.4L491.4,118.8L492.8,119.1L494.2,119.4L495.6,119.8L497,120.1L498.5,120.5L499.9,120.8L501.3,121.1L502.7,121.5L504.1,121.9L505.5,122.2L507,122.6L508.4,122.9L509.8,123.3L511.2,123.7L512.6,124L514,124.4L515.5,124.8L516.9,125.2L518.3,125.6L519.7,125.9L521.1,126.3L521.8,126.5" fill="none" stroke="#D85F63" stroke-width="1.5" stroke-dasharray="5,5.3" stroke-opacity="0.9"/>
<path d="M392.1,160.6L392.6,159.1L393.2,157.6L393.7,155.9L394.2,154.1L394.8,152.2L395.3,150.2L395.8,148.2L396.4,146L396.9,143.8L397.4,141.5L397.9,138.9L398.5,135.9L399,132.8L399.5,129.6L400.1,126.5L400.6,123.7L401.1,121.4L401.7,119.6L402.2,118.1L402.7,116.7L403.3,115.5L403.8,114.3L404.3,113L404.9,111.6L405.4,110.1L405.9,108.6L406.3,107.6L407.7,103.5L409.1,100L410.5,97.8L412,96.4L413.4,95.1L414.8,94L416.2,93L417.6,92.3L419,91.8L420.5,91.6L421.9,91.6L423.3,91.7L424.7,91.9L426.1,92.1L427.6,92.3L429,92.6L430.4,92.8L431.8,93.1L433.2,93.4L434.6,93.7L436.1,94.1L437.5,94.4L438.9,94.8L440.3,95.2L441.7,95.7L443.1,96.1L444.6,96.5L446,96.9L447.4,97.3L448.8,97.7L450.2,98L451.7,98.4L453.1,98.8L454.5,99.2L455.9,99.5L457.3,99.9L458.7,100.3L460.2,100.6L461.6,101L463,101.3L464.4,101.6L465.8,102L467.3,102.3L468.7,102.6L470.1,102.8L471.5,103.1L472.9,103.4L474.3,103.6L475.8,103.9L477.2,104.1L478.6,104.4L480,104.6L481.4,104.9L482.9,105.1L484.3,105.4L485.7,105.6L487.1,105.9L488.5,106.2L489.9,106.5L491.4,106.7L492.8,107L494.2,107.3L495.6,107.6L497,107.9L498.5,108.2L499.9,108.5L501.3,108.8L502.7,109.1L504.1,109.3L505.5,109.6L507,110L508.4,110.3L509.8,110.6L511.2,110.9L512.6,111.2L514,111.5L515.5,111.8L516.9,112.1L518.3,112.4L519.7,112.8L521.1,113.1L521.8,113.3" fill="none" stroke="#E8605F" stroke-width="2.6" stroke-opacity="0.85"/>
</g>
<g filter="url(#bl)">
<g class="p"><path d="M550.1,190.6L568.4,206.4L584.2,185L604.3,188.9L617.6,185.6L631.8,189.3L650.5,190.8L664.8,191.8"/><circle cx="550.1" cy="190.6"/><circle cx="568.4" cy="206.4"/><circle cx="584.2" cy="185"/><circle cx="604.3" cy="188.9"/><circle cx="617.6" cy="185.6"/><circle cx="631.8" cy="189.3"/><circle cx="650.5" cy="190.8"/><circle cx="664.8" cy="191.8"/></g>
<g class="p"><path d="M547.4,100.2L567,63.1L578.4,59.9L591.4,73.3L617.3,70.2L634.7,70.9L658.8,80.6"/><circle cx="547.4" cy="100.2"/><circle cx="567" cy="63.1"/><circle cx="578.4" cy="59.9"/><circle cx="591.4" cy="73.3"/><circle cx="617.3" cy="70.2"/><circle cx="634.7" cy="70.9"/><circle cx="658.8" cy="80.6"/></g>
<g class="p"><path d="M548.5,89.8L567.4,88.4L584.7,101.5L597.1,103.3L618.3,103.8L628.5,189L648.4,187.9"/><circle cx="548.5" cy="89.8"/><circle cx="567.4" cy="88.4"/><circle cx="584.7" cy="101.5"/><circle cx="597.1" cy="103.3"/><circle cx="618.3" cy="103.8"/><circle cx="628.5" cy="189"/><circle cx="648.4" cy="187.9"/></g>
<g class="p"><path d="M553,192.5L567,192.5L580.2,192.5L594.1,188L609.8,190.9L627.6,187.4L646,207L658.9,186.7"/><circle cx="553" cy="192.5"/><circle cx="567" cy="192.5"/><circle cx="580.2" cy="192.5"/><circle cx="594.1" cy="188"/><circle cx="609.8" cy="190.9"/><circle cx="627.6" cy="187.4"/><circle cx="646" cy="207"/><circle cx="658.9" cy="186.7"/></g>
<g class="t"><path d="M542,138.9L545.7,96.4L561.6,53.5L585.9,50.8L594.7,63.3L605.8,56.9L625.2,61.6"/><circle cx="542" cy="138.9"/><circle cx="545.7" cy="96.4"/><circle cx="561.6" cy="53.5"/><circle cx="585.9" cy="50.8"/><circle cx="594.7" cy="63.3"/><circle cx="605.8" cy="56.9"/><circle cx="625.2" cy="61.6"/></g>
<g class="t"><path d="M542.4,179.2L557.7,191.2L571.6,190.9L591.8,189.5L605.3,194.9L623.9,190L632.9,188.6L643.2,193.3L655.6,192"/><circle cx="542.4" cy="179.2"/><circle cx="557.7" cy="191.2"/><circle cx="571.6" cy="190.9"/><circle cx="591.8" cy="189.5"/><circle cx="605.3" cy="194.9"/><circle cx="623.9" cy="190"/><circle cx="632.9" cy="188.6"/><circle cx="643.2" cy="193.3"/><circle cx="655.6" cy="192"/></g>
<g class="p"><path d="M545.1,160.7L560,93.6L581.4,88.4L591.3,88.3L615.8,86.2L639.1,90.3L662.7,95.5"/><circle cx="545.1" cy="160.7"/><circle cx="560" cy="93.6"/><circle cx="581.4" cy="88.4"/><circle cx="591.3" cy="88.3"/><circle cx="615.8" cy="86.2"/><circle cx="639.1" cy="90.3"/><circle cx="662.7" cy="95.5"/></g>
<g class="p"><path d="M546.1,190.5L553.4,189.5L570.8,191.2L587.6,187.8L607,202.1L620.7,188.5L630.6,191.4L641.4,193.3L654.9,186.7"/><circle cx="546.1" cy="190.5"/><circle cx="553.4" cy="189.5"/><circle cx="570.8" cy="191.2"/><circle cx="587.6" cy="187.8"/><circle cx="607" cy="202.1"/><circle cx="620.7" cy="188.5"/><circle cx="630.6" cy="191.4"/><circle cx="641.4" cy="193.3"/><circle cx="654.9" cy="186.7"/></g>
<g class="p"><path d="M541.6,84.2L549.2,47.1L567.8,49.3L583.4,39.7L598,48.3L623.4,42.9L649.2,49L658.1,41.4"/><circle cx="541.6" cy="84.2"/><circle cx="549.2" cy="47.1"/><circle cx="567.8" cy="49.3"/><circle cx="583.4" cy="39.7"/><circle cx="598" cy="48.3"/><circle cx="623.4" cy="42.9"/><circle cx="649.2" cy="49"/><circle cx="658.1" cy="41.4"/></g>
<g class="p"><path d="M542.3,143.7L544.5,104L569.6,71.9L577.9,69.5L592.4,75L617.5,72.5L628.6,88.1L639.2,85.1L658.2,83L666.8,88"/><circle cx="542.3" cy="143.7"/><circle cx="544.5" cy="104"/><circle cx="569.6" cy="71.9"/><circle cx="577.9" cy="69.5"/><circle cx="592.4" cy="75"/><circle cx="617.5" cy="72.5"/><circle cx="628.6" cy="88.1"/><circle cx="639.2" cy="85.1"/><circle cx="658.2" cy="83"/><circle cx="666.8" cy="88"/></g>
<g class="p"><path d="M542.2,137L551.4,82.8L567.5,91.8L576.9,94.8"/><circle cx="542.2" cy="137"/><circle cx="551.4" cy="82.8"/><circle cx="567.5" cy="91.8"/><circle cx="576.9" cy="94.8"/></g>
<g class="t"><path d="M542.5,191.4L567.1,60.1L589.8,60.3L611.9,63.9L623.4,68.1L642.6,64.6L658.8,74.6"/><circle cx="542.5" cy="191.4"/><circle cx="567.1" cy="60.1"/><circle cx="589.8" cy="60.3"/><circle cx="611.9" cy="63.9"/><circle cx="623.4" cy="68.1"/><circle cx="642.6" cy="64.6"/><circle cx="658.8" cy="74.6"/></g>
<g class="t"><path d="M544,103.5L553.6,85.2L562.7,86L586.2,81.3L607.4,85.8L629.6,78.4L651,83.9"/><circle cx="544" cy="103.5"/><circle cx="553.6" cy="85.2"/><circle cx="562.7" cy="86"/><circle cx="586.2" cy="81.3"/><circle cx="607.4" cy="85.8"/><circle cx="629.6" cy="78.4"/><circle cx="651" cy="83.9"/></g>
<g class="t"><path d="M546,96.9L572.2,63.8L596.2,64.3L613.8,54.8L640.2,64.9L654.2,56.9L663.9,70.7"/><circle cx="546" cy="96.9"/><circle cx="572.2" cy="63.8"/><circle cx="596.2" cy="64.3"/><circle cx="613.8" cy="54.8"/><circle cx="640.2" cy="64.9"/><circle cx="654.2" cy="56.9"/><circle cx="663.9" cy="70.7"/></g>
<g class="t"><path d="M543.7,84.1L546.8,68.9L562.5,58.1L580.5,62.5L599.1,61.9L613.3,70.3L636.7,69.6L656.5,66"/><circle cx="543.7" cy="84.1"/><circle cx="546.8" cy="68.9"/><circle cx="562.5" cy="58.1"/><circle cx="580.5" cy="62.5"/><circle cx="599.1" cy="61.9"/><circle cx="613.3" cy="70.3"/><circle cx="636.7" cy="69.6"/><circle cx="656.5" cy="66"/></g>
<g class="t"><path d="M545.8,92.4L563.9,90.6L582,103.6L599.3,189.6L619,187.3"/><circle cx="545.8" cy="92.4"/><circle cx="563.9" cy="90.6"/><circle cx="582" cy="103.6"/><circle cx="599.3" cy="189.6"/><circle cx="619" cy="187.3"/></g>
<g class="p"><path d="M541.1,128.4L549.1,75.8L569,53.9L584.7,57.8L592.5,65.4L607.6,64.2L618.9,66.3"/><circle cx="541.1" cy="128.4"/><circle cx="549.1" cy="75.8"/><circle cx="569" cy="53.9"/><circle cx="584.7" cy="57.8"/><circle cx="592.5" cy="65.4"/><circle cx="607.6" cy="64.2"/><circle cx="618.9" cy="66.3"/></g>
<g class="p"><path d="M546.1,194.1L556,197.4L570.1,193.3L583.6,191.9L599.9,189.9L618.6,195.3L635.7,198.6L647.7,196L663.7,194.3"/><circle cx="546.1" cy="194.1"/><circle cx="556" cy="197.4"/><circle cx="570.1" cy="193.3"/><circle cx="583.6" cy="191.9"/><circle cx="599.9" cy="189.9"/><circle cx="618.6" cy="195.3"/><circle cx="635.7" cy="198.6"/><circle cx="647.7" cy="196"/><circle cx="663.7" cy="194.3"/></g>
<g class="p"><path d="M545.4,204.9L560.1,179.2L571.7,186.8L591.1,209.4L605.1,189.7L623.9,191.2L633.8,186.9L648.2,193.1L655.7,184.4"/><circle cx="545.4" cy="204.9"/><circle cx="560.1" cy="179.2"/><circle cx="571.7" cy="186.8"/><circle cx="591.1" cy="209.4"/><circle cx="605.1" cy="189.7"/><circle cx="623.9" cy="191.2"/><circle cx="633.8" cy="186.9"/><circle cx="648.2" cy="193.1"/><circle cx="655.7" cy="184.4"/></g>
<g class="t"><path d="M548.4,184.4L557.8,187L572.9,178.3L580.9,189.3L593.7,189.7L609.9,193.7L628.1,186.7L637.2,189.1L651.9,185.5"/><circle cx="548.4" cy="184.4"/><circle cx="557.8" cy="187"/><circle cx="572.9" cy="178.3"/><circle cx="580.9" cy="189.3"/><circle cx="593.7" cy="189.7"/><circle cx="609.9" cy="193.7"/><circle cx="628.1" cy="186.7"/><circle cx="637.2" cy="189.1"/><circle cx="651.9" cy="185.5"/></g>
<g class="t"><path d="M546.3,192L587.7,90"/><circle cx="546.3" cy="192"/><circle cx="587.7" cy="90"/></g>
<g class="p"><path d="M541.6,131L544.6,102.8L567.4,46.6L587.6,48.1L603.8,49.5"/><circle cx="541.6" cy="131"/><circle cx="544.6" cy="102.8"/><circle cx="567.4" cy="46.6"/><circle cx="587.6" cy="48.1"/><circle cx="603.8" cy="49.5"/></g>
<g class="p"><path d="M545.2,188L567.4,63.1L586.2,71.2L603.2,75.9"/><circle cx="545.2" cy="188"/><circle cx="567.4" cy="63.1"/><circle cx="586.2" cy="71.2"/><circle cx="603.2" cy="75.9"/></g>
<g class="p"><path d="M546.5,189.3L568.5,72.8L586.7,70.9L606.4,85.7L630.3,80.8L643.9,84.5L652.4,84.4"/><circle cx="546.5" cy="189.3"/><circle cx="568.5" cy="72.8"/><circle cx="586.7" cy="70.9"/><circle cx="606.4" cy="85.7"/><circle cx="630.3" cy="80.8"/><circle cx="643.9" cy="84.5"/><circle cx="652.4" cy="84.4"/></g>
<g class="p"><path d="M541.4,81.3L547.6,72.2L556.5,75.2L578.4,66.6L601,73.2L620.5,70.8L643.4,74.2L659,81.1"/><circle cx="541.4" cy="81.3"/><circle cx="547.6" cy="72.2"/><circle cx="556.5" cy="75.2"/><circle cx="578.4" cy="66.6"/><circle cx="601" cy="73.2"/><circle cx="620.5" cy="70.8"/><circle cx="643.4" cy="74.2"/><circle cx="659" cy="81.1"/></g>
<g class="p"><path d="M552,191.5L572.1,190.5L581.5,189.1L594.1,193.2L607,183.3L616.3,193.5L629.1,186.3L636.8,188.7L653.3,189.9L665.7,189.5"/><circle cx="552" cy="191.5"/><circle cx="572.1" cy="190.5"/><circle cx="581.5" cy="189.1"/><circle cx="594.1" cy="193.2"/><circle cx="607" cy="183.3"/><circle cx="616.3" cy="193.5"/><circle cx="629.1" cy="186.3"/><circle cx="636.8" cy="188.7"/><circle cx="653.3" cy="189.9"/><circle cx="665.7" cy="189.5"/></g>
<g class="p"><path d="M542.8,110L548.5,81.9L573.2,71.7L590.3,77.5L608.1,77.6L624.5,87.3L633.9,91.5"/><circle cx="542.8" cy="110"/><circle cx="548.5" cy="81.9"/><circle cx="573.2" cy="71.7"/><circle cx="590.3" cy="77.5"/><circle cx="608.1" cy="77.6"/><circle cx="624.5" cy="87.3"/><circle cx="633.9" cy="91.5"/></g>
<g class="p"><path d="M555.2,106.6L582.1,115.9L620.1,117.2L640.3,126.5L661.5,124.3"/><circle cx="555.2" cy="106.6"/><circle cx="582.1" cy="115.9"/><circle cx="620.1" cy="117.2"/><circle cx="640.3" cy="126.5"/><circle cx="661.5" cy="124.3"/></g>
<g class="p"><path d="M545.5,188.6L559.9,134.7L583.2,83L605.8,80.1L619.2,93.2L628.7,94.6L648.3,92.6"/><circle cx="545.5" cy="188.6"/><circle cx="559.9" cy="134.7"/><circle cx="583.2" cy="83"/><circle cx="605.8" cy="80.1"/><circle cx="619.2" cy="93.2"/><circle cx="628.7" cy="94.6"/><circle cx="648.3" cy="92.6"/></g>
<g class="p"><path d="M543.5,96.2L547.1,95.7L558.5,95.5L574.2,93.9L588.2,88.8L607.9,92.5L625.8,96.4L634.4,96L656.5,97"/><circle cx="543.5" cy="96.2"/><circle cx="547.1" cy="95.7"/><circle cx="558.5" cy="95.5"/><circle cx="574.2" cy="93.9"/><circle cx="588.2" cy="88.8"/><circle cx="607.9" cy="92.5"/><circle cx="625.8" cy="96.4"/><circle cx="634.4" cy="96"/><circle cx="656.5" cy="97"/></g>
<g class="t"><path d="M545.1,191.3L589.3,119.7L609.8,68.4L626.2,80.8L639.6,79.6L654.5,81.7"/><circle cx="545.1" cy="191.3"/><circle cx="589.3" cy="119.7"/><circle cx="609.8" cy="68.4"/><circle cx="626.2" cy="80.8"/><circle cx="639.6" cy="79.6"/><circle cx="654.5" cy="81.7"/></g>
<g class="p"><path d="M562.3,114.4L564.4,103.5L589.8,72.1L616.4,63.2"/><circle cx="562.3" cy="114.4"/><circle cx="564.4" cy="103.5"/><circle cx="589.8" cy="72.1"/><circle cx="616.4" cy="63.2"/></g>
<g class="p"><path d="M541.7,164.7L555.3,60.4L575,61L595.6,71.5L614.5,75.3L628.3,77.6L636.4,80.3L659.1,75L668.4,75.9"/><circle cx="541.7" cy="164.7"/><circle cx="555.3" cy="60.4"/><circle cx="575" cy="61"/><circle cx="595.6" cy="71.5"/><circle cx="614.5" cy="75.3"/><circle cx="628.3" cy="77.6"/><circle cx="636.4" cy="80.3"/><circle cx="659.1" cy="75"/><circle cx="668.4" cy="75.9"/></g>
<g class="p"><path d="M549.5,186.1L561.5,183.9L572.2,184.8L580.3,188.2L597.2,187.6L615.7,186.1L632,184.4L650,188.2L657.4,188.1"/><circle cx="549.5" cy="186.1"/><circle cx="561.5" cy="183.9"/><circle cx="572.2" cy="184.8"/><circle cx="580.3" cy="188.2"/><circle cx="597.2" cy="187.6"/><circle cx="615.7" cy="186.1"/><circle cx="632" cy="184.4"/><circle cx="650" cy="188.2"/><circle cx="657.4" cy="188.1"/></g>
<g class="t"><path d="M547.7,192.7L564.2,192.7L583.4,190.8L600,192.4L617.4,192.7L632,192.4L641.6,194.3L652.5,191.6"/><circle cx="547.7" cy="192.7"/><circle cx="564.2" cy="192.7"/><circle cx="583.4" cy="190.8"/><circle cx="600" cy="192.4"/><circle cx="617.4" cy="192.7"/><circle cx="632" cy="192.4"/><circle cx="641.6" cy="194.3"/><circle cx="652.5" cy="191.6"/></g>
<g class="p"><path d="M544.7,155.5L564.2,73.9L573.4,65.6L586,65.5L611.3,64.5"/><circle cx="544.7" cy="155.5"/><circle cx="564.2" cy="73.9"/><circle cx="573.4" cy="65.6"/><circle cx="586" cy="65.5"/><circle cx="611.3" cy="64.5"/></g>
<g class="t"><path d="M547.8,192.6L585.6,78.3L597.9,87.5L610.1,90.6L621.6,81.9L630.1,90.6L640.2,88.9"/><circle cx="547.8" cy="192.6"/><circle cx="585.6" cy="78.3"/><circle cx="597.9" cy="87.5"/><circle cx="610.1" cy="90.6"/><circle cx="621.6" cy="81.9"/><circle cx="630.1" cy="90.6"/><circle cx="640.2" cy="88.9"/></g>
<g class="p"><path d="M545.5,188.7L559.5,89L579.6,73L589.2,79L610.1,74.1L626.2,70.7L635.7,70.4L654.7,84.3L670.8,80.2"/><circle cx="545.5" cy="188.7"/><circle cx="559.5" cy="89"/><circle cx="579.6" cy="73"/><circle cx="589.2" cy="79"/><circle cx="610.1" cy="74.1"/><circle cx="626.2" cy="70.7"/><circle cx="635.7" cy="70.4"/><circle cx="654.7" cy="84.3"/><circle cx="670.8" cy="80.2"/></g>
<g class="p"><path d="M543.1,194.7L558,190.9L575.5,195.7L595.4,175.2L608.6,196.6L621.5,178.6L634,200.5L648.8,194"/><circle cx="543.1" cy="194.7"/><circle cx="558" cy="190.9"/><circle cx="575.5" cy="195.7"/><circle cx="595.4" cy="175.2"/><circle cx="608.6" cy="196.6"/><circle cx="621.5" cy="178.6"/><circle cx="634" cy="200.5"/><circle cx="648.8" cy="194"/></g>
<g class="p"><path d="M548.1,188.5L558,187.2L566.2,182.2L575.5,188.8L587.5,180.3L607.5,187.7L625.6,181.1L639.6,190.1L659.9,192.4L667.4,188.5"/><circle cx="548.1" cy="188.5"/><circle cx="558" cy="187.2"/><circle cx="566.2" cy="182.2"/><circle cx="575.5" cy="188.8"/><circle cx="587.5" cy="180.3"/><circle cx="607.5" cy="187.7"/><circle cx="625.6" cy="181.1"/><circle cx="639.6" cy="190.1"/><circle cx="659.9" cy="192.4"/><circle cx="667.4" cy="188.5"/></g>
<g class="p"><path d="M549.4,189.6L602.2,121L612.6,62L628.4,67.6"/><circle cx="549.4" cy="189.6"/><circle cx="602.2" cy="121"/><circle cx="612.6" cy="62"/><circle cx="628.4" cy="67.6"/></g>
<g class="p"><path d="M547.6,190.1L561.4,205.5L577.2,186.4L587.9,186.7L598.9,186.5L606.7,188.8L614.9,199.7L625.8,190L634.6,173.6L644,188.9L658.5,189.9"/><circle cx="547.6" cy="190.1"/><circle cx="561.4" cy="205.5"/><circle cx="577.2" cy="186.4"/><circle cx="587.9" cy="186.7"/><circle cx="598.9" cy="186.5"/><circle cx="606.7" cy="188.8"/><circle cx="614.9" cy="199.7"/><circle cx="625.8" cy="190"/><circle cx="634.6" cy="173.6"/><circle cx="644" cy="188.9"/><circle cx="658.5" cy="189.9"/></g>
<g class="p"><path d="M546.4,147.9L550.9,110.4L572.7,81.2L594.3,89.2L618.3,84.6L632.1,87.7L652.7,88.6"/><circle cx="546.4" cy="147.9"/><circle cx="550.9" cy="110.4"/><circle cx="572.7" cy="81.2"/><circle cx="594.3" cy="89.2"/><circle cx="618.3" cy="84.6"/><circle cx="632.1" cy="87.7"/><circle cx="652.7" cy="88.6"/></g>
<g class="t"><path d="M574.3,119.9L593.5,132.3L612.3,129.6L635.3,130.5L639.2,180.9"/><circle cx="574.3" cy="119.9"/><circle cx="593.5" cy="132.3"/><circle cx="612.3" cy="129.6"/><circle cx="635.3" cy="130.5"/><circle cx="639.2" cy="180.9"/></g>
<g class="p"><path d="M548.7,190.6L566.4,49.1L590.3,48.1L611.3,61.7L621.4,56.7"/><circle cx="548.7" cy="190.6"/><circle cx="566.4" cy="49.1"/><circle cx="590.3" cy="48.1"/><circle cx="611.3" cy="61.7"/><circle cx="621.4" cy="56.7"/></g>
<g class="t"><path d="M551.1,191.7L565.4,191.4L582.4,191.4L596.6,198.2L604.1,188.1L624.4,187.6L632.7,185.5L647.1,188.8L655.5,187.5"/><circle cx="551.1" cy="191.7"/><circle cx="565.4" cy="191.4"/><circle cx="582.4" cy="191.4"/><circle cx="596.6" cy="198.2"/><circle cx="604.1" cy="188.1"/><circle cx="624.4" cy="187.6"/><circle cx="632.7" cy="185.5"/><circle cx="647.1" cy="188.8"/><circle cx="655.5" cy="187.5"/></g>
<g class="p"><path d="M545.6,77.8L556.6,60.3L570.3,56.2L591.9,60.3L600.6,60.6L615.8,57.7"/><circle cx="545.6" cy="77.8"/><circle cx="556.6" cy="60.3"/><circle cx="570.3" cy="56.2"/><circle cx="591.9" cy="60.3"/><circle cx="600.6" cy="60.6"/><circle cx="615.8" cy="57.7"/></g>
<g class="t"><path d="M545.9,163.9L551.5,74.8L562.3,55.3L580.4,52.8L589.3,55.8L615.1,57.7L631.7,70"/><circle cx="545.9" cy="163.9"/><circle cx="551.5" cy="74.8"/><circle cx="562.3" cy="55.3"/><circle cx="580.4" cy="52.8"/><circle cx="589.3" cy="55.8"/><circle cx="615.1" cy="57.7"/><circle cx="631.7" cy="70"/></g>
<g class="t"><path d="M542.7,150.4L552.7,66.2L574.8,52.3L590.4,54.1L612.2,61.6L624.9,58.1L635.2,54.6L656.7,57.8"/><circle cx="542.7" cy="150.4"/><circle cx="552.7" cy="66.2"/><circle cx="574.8" cy="52.3"/><circle cx="590.4" cy="54.1"/><circle cx="612.2" cy="61.6"/><circle cx="624.9" cy="58.1"/><circle cx="635.2" cy="54.6"/><circle cx="656.7" cy="57.8"/></g>
<g class="p"><path d="M546.4,185.3L553.7,60.3L566,62.9L587.5,67.7L609.5,73.6L626.6,70.2L643.5,74.1L652.8,72.1L670.5,70"/><circle cx="546.4" cy="185.3"/><circle cx="553.7" cy="60.3"/><circle cx="566" cy="62.9"/><circle cx="587.5" cy="67.7"/><circle cx="609.5" cy="73.6"/><circle cx="626.6" cy="70.2"/><circle cx="643.5" cy="74.1"/><circle cx="652.8" cy="72.1"/><circle cx="670.5" cy="70"/></g>
<g class="p"><path d="M543.6,135.4L569.4,78.2L579.1,74.3L595.4,80.2L605.4,76.1L622.9,83.5L648.9,84.1L669.8,86.5"/><circle cx="543.6" cy="135.4"/><circle cx="569.4" cy="78.2"/><circle cx="579.1" cy="74.3"/><circle cx="595.4" cy="80.2"/><circle cx="605.4" cy="76.1"/><circle cx="622.9" cy="83.5"/><circle cx="648.9" cy="84.1"/><circle cx="669.8" cy="86.5"/></g>
<g class="p"><path d="M543.7,84.9L548.2,64.9L560.7,60.7L572.8,75.1L586.6,75.9"/><circle cx="543.7" cy="84.9"/><circle cx="548.2" cy="64.9"/><circle cx="560.7" cy="60.7"/><circle cx="572.8" cy="75.1"/><circle cx="586.6" cy="75.9"/></g>
<g class="t"><path d="M544.9,93.9L547.3,63.4L557.1,55.2L571.8,55.1L592.3,59.1L604.7,54.6"/><circle cx="544.9" cy="93.9"/><circle cx="547.3" cy="63.4"/><circle cx="557.1" cy="55.2"/><circle cx="571.8" cy="55.1"/><circle cx="592.3" cy="59.1"/><circle cx="604.7" cy="54.6"/></g>
<g class="p"><path d="M542.7,188L569.8,75.5L588.6,70.2L601.5,80.3L622.5,63.5"/><circle cx="542.7" cy="188"/><circle cx="569.8" cy="75.5"/><circle cx="588.6" cy="70.2"/><circle cx="601.5" cy="80.3"/><circle cx="622.5" cy="63.5"/></g>
<g class="p"><path d="M541.4,72.6L552,77.5L561.2,79L570.3,79.1L592.3,89.4L604.3,88L619.8,92.8L629.8,90.7L648.3,97.7L662.3,191.6"/><circle cx="541.4" cy="72.6"/><circle cx="552" cy="77.5"/><circle cx="561.2" cy="79"/><circle cx="570.3" cy="79.1"/><circle cx="592.3" cy="89.4"/><circle cx="604.3" cy="88"/><circle cx="619.8" cy="92.8"/><circle cx="629.8" cy="90.7"/><circle cx="648.3" cy="97.7"/><circle cx="662.3" cy="191.6"/></g>
<g class="p"><path d="M551.7,195L566.9,189.6L582.4,193.8L602.9,191.2L610.5,192L624.1,189.3L633.1,184.8L645.5,192.2L656.8,194.1"/><circle cx="551.7" cy="195"/><circle cx="566.9" cy="189.6"/><circle cx="582.4" cy="193.8"/><circle cx="602.9" cy="191.2"/><circle cx="610.5" cy="192"/><circle cx="624.1" cy="189.3"/><circle cx="633.1" cy="184.8"/><circle cx="645.5" cy="192.2"/><circle cx="656.8" cy="194.1"/></g>
<g class="p"><path d="M547.6,190.9L598.5,58.6L615.1,64.3L626.2,70.9L640,63.1L662.4,62.4"/><circle cx="547.6" cy="190.9"/><circle cx="598.5" cy="58.6"/><circle cx="615.1" cy="64.3"/><circle cx="626.2" cy="70.9"/><circle cx="640" cy="63.1"/><circle cx="662.4" cy="62.4"/></g>
<g class="p"><path d="M548,188.1L574.2,73.6L583.9,82.1"/><circle cx="548" cy="188.1"/><circle cx="574.2" cy="73.6"/><circle cx="583.9" cy="82.1"/></g>
<g class="t"><path d="M541.9,72L546.5,65.1L565.6,67.1L584.9,61.4L602.7,58.8L611.2,57.3L624,71.3L643.3,72.1L656.3,71.9L666.3,58.4"/><circle cx="541.9" cy="72"/><circle cx="546.5" cy="65.1"/><circle cx="565.6" cy="67.1"/><circle cx="584.9" cy="61.4"/><circle cx="602.7" cy="58.8"/><circle cx="611.2" cy="57.3"/><circle cx="624" cy="71.3"/><circle cx="643.3" cy="72.1"/><circle cx="656.3" cy="71.9"/><circle cx="666.3" cy="58.4"/></g>
<g class="t"><path d="M541.3,110.8L544.6,63.1L566.5,52.7L574.8,48.6L596.2,46.6L609.9,51.5L634.8,57.5L655,48.1"/><circle cx="541.3" cy="110.8"/><circle cx="544.6" cy="63.1"/><circle cx="566.5" cy="52.7"/><circle cx="574.8" cy="48.6"/><circle cx="596.2" cy="46.6"/><circle cx="609.9" cy="51.5"/><circle cx="634.8" cy="57.5"/><circle cx="655" cy="48.1"/></g>
<g class="p"><path d="M549,85.6L556.4,77.5L571,73.8L593,77.7L603.8,84L619.2,79.2"/><circle cx="549" cy="85.6"/><circle cx="556.4" cy="77.5"/><circle cx="571" cy="73.8"/><circle cx="593" cy="77.7"/><circle cx="603.8" cy="84"/><circle cx="619.2" cy="79.2"/></g>
<g class="t"><path d="M541.4,151.4L564,63.4L579,71.4L603,68.4L618.2,75.1L637.1,69.4L648.5,74.8L663.2,71.2"/><circle cx="541.4" cy="151.4"/><circle cx="564" cy="63.4"/><circle cx="579" cy="71.4"/><circle cx="603" cy="68.4"/><circle cx="618.2" cy="75.1"/><circle cx="637.1" cy="69.4"/><circle cx="648.5" cy="74.8"/><circle cx="663.2" cy="71.2"/></g>
<g class="p"><path d="M549.6,121.5L567,100.6L588.1,101.3L607.3,102.7L630.4,109.4"/><circle cx="549.6" cy="121.5"/><circle cx="567" cy="100.6"/><circle cx="588.1" cy="101.3"/><circle cx="607.3" cy="102.7"/><circle cx="630.4" cy="109.4"/></g>
<g class="p"><path d="M545.3,68.1L558.8,65.2L574.1,74.9L591.7,77.1L600.3,76.3"/><circle cx="545.3" cy="68.1"/><circle cx="558.8" cy="65.2"/><circle cx="574.1" cy="74.9"/><circle cx="591.7" cy="77.1"/><circle cx="600.3" cy="76.3"/></g>
<g class="p"><path d="M551.7,133.1L556.3,123.6L571.8,124.4L593.8,122.5L608.7,123.6L631.1,129.9L652.1,132.1L666.9,129.6"/><circle cx="551.7" cy="133.1"/><circle cx="556.3" cy="123.6"/><circle cx="571.8" cy="124.4"/><circle cx="593.8" cy="122.5"/><circle cx="608.7" cy="123.6"/><circle cx="631.1" cy="129.9"/><circle cx="652.1" cy="132.1"/><circle cx="666.9" cy="129.6"/></g>
<g class="p"><path d="M548.2,190.4L562.6,193.7L572.7,190.4L587.4,192.2L600.1,191.2L610.9,189.5L618.4,189.2L637.9,192L654,192.9"/><circle cx="548.2" cy="190.4"/><circle cx="562.6" cy="193.7"/><circle cx="572.7" cy="190.4"/><circle cx="587.4" cy="192.2"/><circle cx="600.1" cy="191.2"/><circle cx="610.9" cy="189.5"/><circle cx="618.4" cy="189.2"/><circle cx="637.9" cy="192"/><circle cx="654" cy="192.9"/></g>
<g class="t"><path d="M542.8,145.8L550.1,48.8L572.2,43.5L589.1,43.7L602.2,48.2L622.9,47.4L632.1,53L649.4,64.2L666.9,64.9"/><circle cx="542.8" cy="145.8"/><circle cx="550.1" cy="48.8"/><circle cx="572.2" cy="43.5"/><circle cx="589.1" cy="43.7"/><circle cx="602.2" cy="48.2"/><circle cx="622.9" cy="47.4"/><circle cx="632.1" cy="53"/><circle cx="649.4" cy="64.2"/><circle cx="666.9" cy="64.9"/></g>
<g class="p"><path d="M548.9,190.3L556.2,64.7L576,74.2L598.2,73.3L613.3,78.9L628.2,77.5"/><circle cx="548.9" cy="190.3"/><circle cx="556.2" cy="64.7"/><circle cx="576" cy="74.2"/><circle cx="598.2" cy="73.3"/><circle cx="613.3" cy="78.9"/><circle cx="628.2" cy="77.5"/></g>
<g class="p"><path d="M541,162.6L549,83.4L574.4,74.5L592.7,75.4L616.9,86.6L626.4,80.8L637.4,84.6L656.8,86.4L664.7,95.4"/><circle cx="541" cy="162.6"/><circle cx="549" cy="83.4"/><circle cx="574.4" cy="74.5"/><circle cx="592.7" cy="75.4"/><circle cx="616.9" cy="86.6"/><circle cx="626.4" cy="80.8"/><circle cx="637.4" cy="84.6"/><circle cx="656.8" cy="86.4"/><circle cx="664.7" cy="95.4"/></g>
<g class="p"><path d="M541.3,71.6L563,112L575,119.6L595.8,119.6L609.4,122.2"/><circle cx="541.3" cy="71.6"/><circle cx="563" cy="112"/><circle cx="575" cy="119.6"/><circle cx="595.8" cy="119.6"/><circle cx="609.4" cy="122.2"/></g>
<g class="t"><path d="M566.2,148.6L567.6,165.9"/><circle cx="566.2" cy="148.6"/><circle cx="567.6" cy="165.9"/></g>
<g class="p"><path d="M547.6,189.7L577.3,158.8L594.5,55.7L616.1,54.6L627.4,54.8L641.2,56.1L657.2,58"/><circle cx="547.6" cy="189.7"/><circle cx="577.3" cy="158.8"/><circle cx="594.5" cy="55.7"/><circle cx="616.1" cy="54.6"/><circle cx="627.4" cy="54.8"/><circle cx="641.2" cy="56.1"/><circle cx="657.2" cy="58"/></g>
<g class="p"><path d="M541,129.7L547.4,62.2L555.9,51.1L566,67.9L591.3,61.6L617.2,71.8L641,73.8L664.1,81.1"/><circle cx="541" cy="129.7"/><circle cx="547.4" cy="62.2"/><circle cx="555.9" cy="51.1"/><circle cx="566" cy="67.9"/><circle cx="591.3" cy="61.6"/><circle cx="617.2" cy="71.8"/><circle cx="641" cy="73.8"/><circle cx="664.1" cy="81.1"/></g>
<g class="p"><path d="M542.8,77.3L553.5,77.2L572.4,75.4L585.2,71.2L593.6,70.1L613.9,73.8"/><circle cx="542.8" cy="77.3"/><circle cx="553.5" cy="77.2"/><circle cx="572.4" cy="75.4"/><circle cx="585.2" cy="71.2"/><circle cx="593.6" cy="70.1"/><circle cx="613.9" cy="73.8"/></g>
<g class="p"><path d="M544.7,192.7L576,66.1L599.8,62.5"/><circle cx="544.7" cy="192.7"/><circle cx="576" cy="66.1"/><circle cx="599.8" cy="62.5"/></g>
<g class="p"><path d="M550.5,189.1L566.2,61.3L586.7,76.5L606.7,72.5L626,71.5L634.5,76.2L647.2,72.8L663.5,80.2"/><circle cx="550.5" cy="189.1"/><circle cx="566.2" cy="61.3"/><circle cx="586.7" cy="76.5"/><circle cx="606.7" cy="72.5"/><circle cx="626" cy="71.5"/><circle cx="634.5" cy="76.2"/><circle cx="647.2" cy="72.8"/><circle cx="663.5" cy="80.2"/></g>
<g class="p"><path d="M549.9,188.7L559.8,189.9L577.6,191.9L587.9,185.4L595.6,183.6L608,185.1L618.5,196.8L627.3,186.7L644.6,187.1"/><circle cx="549.9" cy="188.7"/><circle cx="559.8" cy="189.9"/><circle cx="577.6" cy="191.9"/><circle cx="587.9" cy="185.4"/><circle cx="595.6" cy="183.6"/><circle cx="608" cy="185.1"/><circle cx="618.5" cy="196.8"/><circle cx="627.3" cy="186.7"/><circle cx="644.6" cy="187.1"/></g>
<g class="p"><path d="M544.1,190.9L558.1,51.2L570.8,52.9L586.8,41.5L603.8,47.8L613.6,43.6L633.9,45L642,51.4L654.2,50.9"/><circle cx="544.1" cy="190.9"/><circle cx="558.1" cy="51.2"/><circle cx="570.8" cy="52.9"/><circle cx="586.8" cy="41.5"/><circle cx="603.8" cy="47.8"/><circle cx="613.6" cy="43.6"/><circle cx="633.9" cy="45"/><circle cx="642" cy="51.4"/><circle cx="654.2" cy="50.9"/></g>
<g class="p"><path d="M542.8,159.7L545.6,128.8L559.1,61.6L571.5,64.3L592.4,49.3L600.4,59.2L608.8,46.4L620.4,48.8L645.4,52.5L655.7,48.2"/><circle cx="542.8" cy="159.7"/><circle cx="545.6" cy="128.8"/><circle cx="559.1" cy="61.6"/><circle cx="571.5" cy="64.3"/><circle cx="592.4" cy="49.3"/><circle cx="600.4" cy="59.2"/><circle cx="608.8" cy="46.4"/><circle cx="620.4" cy="48.8"/><circle cx="645.4" cy="52.5"/><circle cx="655.7" cy="48.2"/></g>
<g class="t"><path d="M544,160.7L549.2,107.4L569.9,49.1L591.7,45"/><circle cx="544" cy="160.7"/><circle cx="549.2" cy="107.4"/><circle cx="569.9" cy="49.1"/><circle cx="591.7" cy="45"/></g>
<g class="t"><path d="M541.2,117.2L548.8,77.8L560,64.1L582.4,60.7L605.3,65.6L620.4,68.2L641.2,66.4L649.1,66.4L670.9,69.1"/><circle cx="541.2" cy="117.2"/><circle cx="548.8" cy="77.8"/><circle cx="560" cy="64.1"/><circle cx="582.4" cy="60.7"/><circle cx="605.3" cy="65.6"/><circle cx="620.4" cy="68.2"/><circle cx="641.2" cy="66.4"/><circle cx="649.1" cy="66.4"/><circle cx="670.9" cy="69.1"/></g>
<g class="p"><path d="M541.2,157.8L555.2,113.3L573,96.3L581.4,104.6L602.9,107.5L622.7,104"/><circle cx="541.2" cy="157.8"/><circle cx="555.2" cy="113.3"/><circle cx="573" cy="96.3"/><circle cx="581.4" cy="104.6"/><circle cx="602.9" cy="107.5"/><circle cx="622.7" cy="104"/></g>
<g class="p"><path d="M541.6,63L559.5,78.2L568.7,81L582.8,79.8L590.7,86.8L603,86.5L625,84.6L637.9,90.8L662,94.3"/><circle cx="541.6" cy="63"/><circle cx="559.5" cy="78.2"/><circle cx="568.7" cy="81"/><circle cx="582.8" cy="79.8"/><circle cx="590.7" cy="86.8"/><circle cx="603" cy="86.5"/><circle cx="625" cy="84.6"/><circle cx="637.9" cy="90.8"/><circle cx="662" cy="94.3"/></g>
<g class="p"><path d="M545.7,76.8L555.1,75.8L569.9,84.9L587.7,188.7L604.3,188.8L613.7,190.6L631.9,190.5L648.2,189.6"/><circle cx="545.7" cy="76.8"/><circle cx="555.1" cy="75.8"/><circle cx="569.9" cy="84.9"/><circle cx="587.7" cy="188.7"/><circle cx="604.3" cy="188.8"/><circle cx="613.7" cy="190.6"/><circle cx="631.9" cy="190.5"/><circle cx="648.2" cy="189.6"/></g>
<g class="p"><path d="M569.7,117.2L588.9,118.6L609.1,123.9L628.2,123.9L653.7,130.5L665.1,128.7"/><circle cx="569.7" cy="117.2"/><circle cx="588.9" cy="118.6"/><circle cx="609.1" cy="123.9"/><circle cx="628.2" cy="123.9"/><circle cx="653.7" cy="130.5"/><circle cx="665.1" cy="128.7"/></g>
<g class="p"><path d="M547.9,191.4L556.9,191.8L572.2,193.4L584.5,181.6L592.3,185.8L607,187.2L621.1,192.4L636.9,190.3L648.3,190.9L664.5,191.3"/><circle cx="547.9" cy="191.4"/><circle cx="556.9" cy="191.8"/><circle cx="572.2" cy="193.4"/><circle cx="584.5" cy="181.6"/><circle cx="592.3" cy="185.8"/><circle cx="607" cy="187.2"/><circle cx="621.1" cy="192.4"/><circle cx="636.9" cy="190.3"/><circle cx="648.3" cy="190.9"/><circle cx="664.5" cy="191.3"/></g>
<g class="p"><path d="M552.7,192.7L567.2,189.1L580,186.7L595.4,187.1L611.3,189.5L628.7,189.9L638.1,203.7L649.5,191.1"/><circle cx="552.7" cy="192.7"/><circle cx="567.2" cy="189.1"/><circle cx="580" cy="186.7"/><circle cx="595.4" cy="187.1"/><circle cx="611.3" cy="189.5"/><circle cx="628.7" cy="189.9"/><circle cx="638.1" cy="203.7"/><circle cx="649.5" cy="191.1"/></g>
<g class="p"><path d="M543.8,145.7L570.4,73.4L582.3,71.5L600.2,84.3L616.4,79.9"/><circle cx="543.8" cy="145.7"/><circle cx="570.4" cy="73.4"/><circle cx="582.3" cy="71.5"/><circle cx="600.2" cy="84.3"/><circle cx="616.4" cy="79.9"/></g>
<g class="p"><path d="M543.4,188.7L558.1,191.4L568.9,189L579,189.8L587.6,193.4L601.5,184.2L619.6,189L629.7,191.5L639.2,190.8L655.4,187.4L667.2,190.1"/><circle cx="543.4" cy="188.7"/><circle cx="558.1" cy="191.4"/><circle cx="568.9" cy="189"/><circle cx="579" cy="189.8"/><circle cx="587.6" cy="193.4"/><circle cx="601.5" cy="184.2"/><circle cx="619.6" cy="189"/><circle cx="629.7" cy="191.5"/><circle cx="639.2" cy="190.8"/><circle cx="655.4" cy="187.4"/><circle cx="667.2" cy="190.1"/></g>
<g class="p"><path d="M545.9,67.8L548,75.1L558.3,90.7L579.5,92.3L594.6,101.3L613.4,96.1L637,98.3"/><circle cx="545.9" cy="67.8"/><circle cx="548" cy="75.1"/><circle cx="558.3" cy="90.7"/><circle cx="579.5" cy="92.3"/><circle cx="594.6" cy="101.3"/><circle cx="613.4" cy="96.1"/><circle cx="637" cy="98.3"/></g>
<g class="p"><path d="M543.3,65L559.3,67.8L567.8,71.9L587.9,78.5L601.9,69.2L620.7,78.8L638.7,73.9L661.4,70.8"/><circle cx="543.3" cy="65"/><circle cx="559.3" cy="67.8"/><circle cx="567.8" cy="71.9"/><circle cx="587.9" cy="78.5"/><circle cx="601.9" cy="69.2"/><circle cx="620.7" cy="78.8"/><circle cx="638.7" cy="73.9"/><circle cx="661.4" cy="70.8"/></g>
<g class="p"><path d="M546.6,62.5L558.7,89.9L580.4,103.7L602.2,101.7L624.7,104.3L645,108"/><circle cx="546.6" cy="62.5"/><circle cx="558.7" cy="89.9"/><circle cx="580.4" cy="103.7"/><circle cx="602.2" cy="101.7"/><circle cx="624.7" cy="104.3"/><circle cx="645" cy="108"/></g>
<g class="t"><path d="M543.5,71.9L555.9,68.9L582.1,73.3L599.7,71.3L617.2,77.4L627.3,78.1L644.8,85.4"/><circle cx="543.5" cy="71.9"/><circle cx="555.9" cy="68.9"/><circle cx="582.1" cy="73.3"/><circle cx="599.7" cy="71.3"/><circle cx="617.2" cy="77.4"/><circle cx="627.3" cy="78.1"/><circle cx="644.8" cy="85.4"/></g>
<g class="p"><path d="M544.5,102.4L569.7,52.3L596,55.2L613.7,56.3L638.7,58.8L651.7,58.5L663.9,61.6"/><circle cx="544.5" cy="102.4"/><circle cx="569.7" cy="52.3"/><circle cx="596" cy="55.2"/><circle cx="613.7" cy="56.3"/><circle cx="638.7" cy="58.8"/><circle cx="651.7" cy="58.5"/><circle cx="663.9" cy="61.6"/></g>
<g class="p"><path d="M543.7,191.6L563.8,191.3L574.3,189.4L587.8,185.3L601.2,188.2L620.3,190.3L632.8,185.5L652.2,189.9"/><circle cx="543.7" cy="191.6"/><circle cx="563.8" cy="191.3"/><circle cx="574.3" cy="189.4"/><circle cx="587.8" cy="185.3"/><circle cx="601.2" cy="188.2"/><circle cx="620.3" cy="190.3"/><circle cx="632.8" cy="185.5"/><circle cx="652.2" cy="189.9"/></g>
<g class="p"><path d="M546.2,188.1L557.6,193L572,190.4L591.8,201.1L603.3,186L614.5,205.8L629.6,185.1L638.9,188L646.3,187.8L659.6,184.5"/><circle cx="546.2" cy="188.1"/><circle cx="557.6" cy="193"/><circle cx="572" cy="190.4"/><circle cx="591.8" cy="201.1"/><circle cx="603.3" cy="186"/><circle cx="614.5" cy="205.8"/><circle cx="629.6" cy="185.1"/><circle cx="638.9" cy="188"/><circle cx="646.3" cy="187.8"/><circle cx="659.6" cy="184.5"/></g>
<g class="t"><path d="M542.2,191.6L580.9,139.8L593.1,52.2L602.2,48L610,52.5L634.6,48.9L651.5,53.9L662.1,52.9"/><circle cx="542.2" cy="191.6"/><circle cx="580.9" cy="139.8"/><circle cx="593.1" cy="52.2"/><circle cx="602.2" cy="48"/><circle cx="610" cy="52.5"/><circle cx="634.6" cy="48.9"/><circle cx="651.5" cy="53.9"/><circle cx="662.1" cy="52.9"/></g>
<g class="t"><path d="M547.4,191.8L573.8,40L598.1,49.8L617,39L640.4,47.1"/><circle cx="547.4" cy="191.8"/><circle cx="573.8" cy="40"/><circle cx="598.1" cy="49.8"/><circle cx="617" cy="39"/><circle cx="640.4" cy="47.1"/></g>
<g class="t"><path d="M544.1,184.8L581.8,59.3L600.5,62.7L611,66.6L634.1,62.2L646.4,65.8L663.3,72.3"/><circle cx="544.1" cy="184.8"/><circle cx="581.8" cy="59.3"/><circle cx="600.5" cy="62.7"/><circle cx="611" cy="66.6"/><circle cx="634.1" cy="62.2"/><circle cx="646.4" cy="65.8"/><circle cx="663.3" cy="72.3"/></g>
<g class="t"><path d="M550.4,190.2L602.1,52.1L618.4,50.7L628.3,51.6L636.8,58.7L649.5,63.4L659.1,70.2"/><circle cx="550.4" cy="190.2"/><circle cx="602.1" cy="52.1"/><circle cx="618.4" cy="50.7"/><circle cx="628.3" cy="51.6"/><circle cx="636.8" cy="58.7"/><circle cx="649.5" cy="63.4"/><circle cx="659.1" cy="70.2"/></g>
<g class="t"><path d="M542.3,127.6L553.6,121.9L566.7,129.6L577.8,139.5L593.9,191.8"/><circle cx="542.3" cy="127.6"/><circle cx="553.6" cy="121.9"/><circle cx="566.7" cy="129.6"/><circle cx="577.8" cy="139.5"/><circle cx="593.9" cy="191.8"/></g>
<g class="p"><path d="M548.1,89.8L567,52.4L588,61.3L601.3,63.2L622.7,65.6L648.6,72.8L657.9,72.3L669.5,75.4"/><circle cx="548.1" cy="89.8"/><circle cx="567" cy="52.4"/><circle cx="588" cy="61.3"/><circle cx="601.3" cy="63.2"/><circle cx="622.7" cy="65.6"/><circle cx="648.6" cy="72.8"/><circle cx="657.9" cy="72.3"/><circle cx="669.5" cy="75.4"/></g>
<g class="p"><path d="M543.2,188.1L551.2,205.5L558.9,194.4L577.2,192.1L596.1,192.7L615.2,186.2L632.5,196.6L651,189.8"/><circle cx="543.2" cy="188.1"/><circle cx="551.2" cy="205.5"/><circle cx="558.9" cy="194.4"/><circle cx="577.2" cy="192.1"/><circle cx="596.1" cy="192.7"/><circle cx="615.2" cy="186.2"/><circle cx="632.5" cy="196.6"/><circle cx="651" cy="189.8"/></g>
<g class="t"><path d="M556.4,144L559.2,103.8L577.9,51L586.9,43.2L600.4,48.9L621.3,51.6L630.3,50.1L644.9,52.5L656.3,58.5"/><circle cx="556.4" cy="144"/><circle cx="559.2" cy="103.8"/><circle cx="577.9" cy="51"/><circle cx="586.9" cy="43.2"/><circle cx="600.4" cy="48.9"/><circle cx="621.3" cy="51.6"/><circle cx="630.3" cy="50.1"/><circle cx="644.9" cy="52.5"/><circle cx="656.3" cy="58.5"/></g>
<g class="p"><path d="M541.7,103.6L547.2,79.4L560.4,75.3L574.6,75.7L595,68.1L617.8,73.2L634.5,71.9L649.5,75.2L660.4,75.9"/><circle cx="541.7" cy="103.6"/><circle cx="547.2" cy="79.4"/><circle cx="560.4" cy="75.3"/><circle cx="574.6" cy="75.7"/><circle cx="595" cy="68.1"/><circle cx="617.8" cy="73.2"/><circle cx="634.5" cy="71.9"/><circle cx="649.5" cy="75.2"/><circle cx="660.4" cy="75.9"/></g>
<g class="p"><path d="M550.5,190.2L559.8,183.9L571.8,192.2L588.5,188.7L600.1,187.7L610.6,191L630.2,188.5L641.6,191.4L660.1,183.3L670.1,187.9"/><circle cx="550.5" cy="190.2"/><circle cx="559.8" cy="183.9"/><circle cx="571.8" cy="192.2"/><circle cx="588.5" cy="188.7"/><circle cx="600.1" cy="187.7"/><circle cx="610.6" cy="191"/><circle cx="630.2" cy="188.5"/><circle cx="641.6" cy="191.4"/><circle cx="660.1" cy="183.3"/><circle cx="670.1" cy="187.9"/></g>
<g class="p"><path d="M548.6,186.3L585.1,94L600.1,79.4L622.3,88.2L636.3,91.3"/><circle cx="548.6" cy="186.3"/><circle cx="585.1" cy="94"/><circle cx="600.1" cy="79.4"/><circle cx="622.3" cy="88.2"/><circle cx="636.3" cy="91.3"/></g>
<g class="t"><path d="M545.1,152.3L563.7,59.2L584.1,58.8L598.8,54.7L625.4,61.2L638.2,57L654.5,62.1"/><circle cx="545.1" cy="152.3"/><circle cx="563.7" cy="59.2"/><circle cx="584.1" cy="58.8"/><circle cx="598.8" cy="54.7"/><circle cx="625.4" cy="61.2"/><circle cx="638.2" cy="57"/><circle cx="654.5" cy="62.1"/></g>
<g class="t"><path d="M543.8,187.5L585.4,89.7L606,88.8L615.2,92.3L629.5,95.8L652.1,103.8L671.4,103.9"/><circle cx="543.8" cy="187.5"/><circle cx="585.4" cy="89.7"/><circle cx="606" cy="88.8"/><circle cx="615.2" cy="92.3"/><circle cx="629.5" cy="95.8"/><circle cx="652.1" cy="103.8"/><circle cx="671.4" cy="103.9"/></g>
<g class="p"><path d="M544,164.9L563.6,51.5L571.9,46.8L586.2,43L611,44.9L624.4,43.1"/><circle cx="544" cy="164.9"/><circle cx="563.6" cy="51.5"/><circle cx="571.9" cy="46.8"/><circle cx="586.2" cy="43"/><circle cx="611" cy="44.9"/><circle cx="624.4" cy="43.1"/></g>
<g class="p"><path d="M547,205L555.6,189.1L571.7,187.4L591.7,187.1L599.5,192.3L612.1,190.7L625.3,187.8L638.6,191.7"/><circle cx="547" cy="205"/><circle cx="555.6" cy="189.1"/><circle cx="571.7" cy="187.4"/><circle cx="591.7" cy="187.1"/><circle cx="599.5" cy="192.3"/><circle cx="612.1" cy="190.7"/><circle cx="625.3" cy="187.8"/><circle cx="638.6" cy="191.7"/></g>
<g class="t"><path d="M542,135.7L545.2,94.3L559.2,81.6L575.5,81.5L598.6,83.9L609,78.5L634.9,84.7L644.7,86.6L655.1,95.7"/><circle cx="542" cy="135.7"/><circle cx="545.2" cy="94.3"/><circle cx="559.2" cy="81.6"/><circle cx="575.5" cy="81.5"/><circle cx="598.6" cy="83.9"/><circle cx="609" cy="78.5"/><circle cx="634.9" cy="84.7"/><circle cx="644.7" cy="86.6"/><circle cx="655.1" cy="95.7"/></g>
<g class="p"><path d="M543.3,191L560.6,188.9L573.9,187.5L586.9,210.2L596.2,195.3L606.3,188.9L615.3,184.4L632.7,188.2L646.6,188.8L656.2,191.2L670.2,195.5"/><circle cx="543.3" cy="191"/><circle cx="560.6" cy="188.9"/><circle cx="573.9" cy="187.5"/><circle cx="586.9" cy="210.2"/><circle cx="596.2" cy="195.3"/><circle cx="606.3" cy="188.9"/><circle cx="615.3" cy="184.4"/><circle cx="632.7" cy="188.2"/><circle cx="646.6" cy="188.8"/><circle cx="656.2" cy="191.2"/><circle cx="670.2" cy="195.5"/></g>
<g class="t"><path d="M549.1,190.9L560.9,58.7L579.9,47L595.6,50.2L608.6,52.6L629.9,50.9L651,62.8"/><circle cx="549.1" cy="190.9"/><circle cx="560.9" cy="58.7"/><circle cx="579.9" cy="47"/><circle cx="595.6" cy="50.2"/><circle cx="608.6" cy="52.6"/><circle cx="629.9" cy="50.9"/><circle cx="651" cy="62.8"/></g>
<g class="p"><path d="M541.1,104.1L550.1,125.5L575.8,123.6L588.8,124.6L614.1,123.5"/><circle cx="541.1" cy="104.1"/><circle cx="550.1" cy="125.5"/><circle cx="575.8" cy="123.6"/><circle cx="588.8" cy="124.6"/><circle cx="614.1" cy="123.5"/></g>
<g class="t"><path d="M546.4,77.2L551,63.1L575.3,45.4L592.9,46.3L601.7,46.8L612.6,53.5L624.8,48.6L637,49.4L649.9,66.2L658.1,53.6"/><circle cx="546.4" cy="77.2"/><circle cx="551" cy="63.1"/><circle cx="575.3" cy="45.4"/><circle cx="592.9" cy="46.3"/><circle cx="601.7" cy="46.8"/><circle cx="612.6" cy="53.5"/><circle cx="624.8" cy="48.6"/><circle cx="637" cy="49.4"/><circle cx="649.9" cy="66.2"/><circle cx="658.1" cy="53.6"/></g>
<g class="t"><path d="M541.7,130.2L566.3,37.4L591.3,33L612.4,49.5L636.4,34.3L659.2,48.4"/><circle cx="541.7" cy="130.2"/><circle cx="566.3" cy="37.4"/><circle cx="591.3" cy="33"/><circle cx="612.4" cy="49.5"/><circle cx="636.4" cy="34.3"/><circle cx="659.2" cy="48.4"/></g>
<g class="p"><path d="M545.2,115.8L565.4,120.7L578.2,139.2L600.8,141.6L613.4,138.1L626.2,190.9L644.1,191.8"/><circle cx="545.2" cy="115.8"/><circle cx="565.4" cy="120.7"/><circle cx="578.2" cy="139.2"/><circle cx="600.8" cy="141.6"/><circle cx="613.4" cy="138.1"/><circle cx="626.2" cy="190.9"/><circle cx="644.1" cy="191.8"/></g>
<g class="t"><path d="M544.3,126.1L564.6,50.1L578.9,48.6L601.9,46.8L614.8,47.4"/><circle cx="544.3" cy="126.1"/><circle cx="564.6" cy="50.1"/><circle cx="578.9" cy="48.6"/><circle cx="601.9" cy="46.8"/><circle cx="614.8" cy="47.4"/></g>
<g class="p"><path d="M549.9,177.7L561.4,188.6L571.7,193L584,189.3L592.8,190.4L601.6,192L609.5,189.4L625.2,188.9L643.1,185.5L650.3,193.9L664.6,193.3"/><circle cx="549.9" cy="177.7"/><circle cx="561.4" cy="188.6"/><circle cx="571.7" cy="193"/><circle cx="584" cy="189.3"/><circle cx="592.8" cy="190.4"/><circle cx="601.6" cy="192"/><circle cx="609.5" cy="189.4"/><circle cx="625.2" cy="188.9"/><circle cx="643.1" cy="185.5"/><circle cx="650.3" cy="193.9"/><circle cx="664.6" cy="193.3"/></g>
<g class="p"><path d="M546.5,188.3L562.4,193.7L580.9,188L591,192.1L605.8,186.3L621,190.4L633,188.3L647.4,190L659.8,191.4"/><circle cx="546.5" cy="188.3"/><circle cx="562.4" cy="193.7"/><circle cx="580.9" cy="188"/><circle cx="591" cy="192.1"/><circle cx="605.8" cy="186.3"/><circle cx="621" cy="190.4"/><circle cx="633" cy="188.3"/><circle cx="647.4" cy="190"/><circle cx="659.8" cy="191.4"/></g>
<g class="t"><path d="M549.9,192.9L565.8,57.4L578.6,58.3L594.7,66L613.3,77.3L626,67.8L637.1,65.4L655.2,73.2"/><circle cx="549.9" cy="192.9"/><circle cx="565.8" cy="57.4"/><circle cx="578.6" cy="58.3"/><circle cx="594.7" cy="66"/><circle cx="613.3" cy="77.3"/><circle cx="626" cy="67.8"/><circle cx="637.1" cy="65.4"/><circle cx="655.2" cy="73.2"/></g>
<g class="p"><path d="M548,62.2L564.9,82.7L582.4,96L598.8,93.8L619.6,94.8L632.9,97.2L655.1,109.5L670.4,101"/><circle cx="548" cy="62.2"/><circle cx="564.9" cy="82.7"/><circle cx="582.4" cy="96"/><circle cx="598.8" cy="93.8"/><circle cx="619.6" cy="94.8"/><circle cx="632.9" cy="97.2"/><circle cx="655.1" cy="109.5"/><circle cx="670.4" cy="101"/></g>
<g class="p"><path d="M548.5,125.3L565.5,88.6L575.5,84.6L586,83.3L603.4,86.3L629.5,94.6"/><circle cx="548.5" cy="125.3"/><circle cx="565.5" cy="88.6"/><circle cx="575.5" cy="84.6"/><circle cx="586" cy="83.3"/><circle cx="603.4" cy="86.3"/><circle cx="629.5" cy="94.6"/></g>
<g class="p"><path d="M542.2,187L551.3,173.1L564,187.8L579.7,188.3L594.2,202.4L606.5,188.7L615.3,198.1L624.5,190.5L632.2,185.9L643.1,187.8L656.1,188.5"/><circle cx="542.2" cy="187"/><circle cx="551.3" cy="173.1"/><circle cx="564" cy="187.8"/><circle cx="579.7" cy="188.3"/><circle cx="594.2" cy="202.4"/><circle cx="606.5" cy="188.7"/><circle cx="615.3" cy="198.1"/><circle cx="624.5" cy="190.5"/><circle cx="632.2" cy="185.9"/><circle cx="643.1" cy="187.8"/><circle cx="656.1" cy="188.5"/></g>
<g class="p"><path d="M542.8,186.9L559.4,191.4L573.9,190.4L586.3,189.6L597.7,192.3L616.7,189.4L628.1,190.3L645.3,186.7L653,193.6"/><circle cx="542.8" cy="186.9"/><circle cx="559.4" cy="191.4"/><circle cx="573.9" cy="190.4"/><circle cx="586.3" cy="189.6"/><circle cx="597.7" cy="192.3"/><circle cx="616.7" cy="189.4"/><circle cx="628.1" cy="190.3"/><circle cx="645.3" cy="186.7"/><circle cx="653" cy="193.6"/></g>
<g class="t"><path d="M541.4,137.4L544.7,83L561.6,45.9L585.5,51.8L601,48.8L609.5,58.1L630.8,52.9L638.7,60.9L661.1,59.6"/><circle cx="541.4" cy="137.4"/><circle cx="544.7" cy="83"/><circle cx="561.6" cy="45.9"/><circle cx="585.5" cy="51.8"/><circle cx="601" cy="48.8"/><circle cx="609.5" cy="58.1"/><circle cx="630.8" cy="52.9"/><circle cx="638.7" cy="60.9"/><circle cx="661.1" cy="59.6"/></g>
<g class="p"><path d="M542,187L556.5,185.7L572.5,186.6L585.9,188.6L595.8,183.6L603.5,185.3L619,204.9L626.5,188.2L640.9,185.5L661.4,187.5"/><circle cx="542" cy="187"/><circle cx="556.5" cy="185.7"/><circle cx="572.5" cy="186.6"/><circle cx="585.9" cy="188.6"/><circle cx="595.8" cy="183.6"/><circle cx="603.5" cy="185.3"/><circle cx="619" cy="204.9"/><circle cx="626.5" cy="188.2"/><circle cx="640.9" cy="185.5"/><circle cx="661.4" cy="187.5"/></g>
<g class="p"><path d="M548.4,187.8L569,107.2L580,88.5L590.5,93.1L615.3,86.3L639.9,92.8L657.1,104.6"/><circle cx="548.4" cy="187.8"/><circle cx="569" cy="107.2"/><circle cx="580" cy="88.5"/><circle cx="590.5" cy="93.1"/><circle cx="615.3" cy="86.3"/><circle cx="639.9" cy="92.8"/><circle cx="657.1" cy="104.6"/></g>
<g class="p"><path d="M543.4,119.2L554.2,79.6L576.5,77.7L600.1,79.2"/><circle cx="543.4" cy="119.2"/><circle cx="554.2" cy="79.6"/><circle cx="576.5" cy="77.7"/><circle cx="600.1" cy="79.2"/></g>
<g class="p"><path d="M550.7,189L562.4,68.2L576,66.7L591,75L603.3,72L621.1,81L631.6,76.2L647.5,77.6L658,83.2"/><circle cx="550.7" cy="189"/><circle cx="562.4" cy="68.2"/><circle cx="576" cy="66.7"/><circle cx="591" cy="75"/><circle cx="603.3" cy="72"/><circle cx="621.1" cy="81"/><circle cx="631.6" cy="76.2"/><circle cx="647.5" cy="77.6"/><circle cx="658" cy="83.2"/></g>
<g class="p"><path d="M581.1,150.8L601.3,152.2L621.8,149.5L629.6,144.2L667.9,168.5"/><circle cx="581.1" cy="150.8"/><circle cx="601.3" cy="152.2"/><circle cx="621.8" cy="149.5"/><circle cx="629.6" cy="144.2"/><circle cx="667.9" cy="168.5"/></g>
<g class="t"><path d="M546.3,87.3L563.1,43.2L586.1,43.1L612.5,45.2L628.1,48.6L641.7,55.6L667.4,64"/><circle cx="546.3" cy="87.3"/><circle cx="563.1" cy="43.2"/><circle cx="586.1" cy="43.1"/><circle cx="612.5" cy="45.2"/><circle cx="628.1" cy="48.6"/><circle cx="641.7" cy="55.6"/><circle cx="667.4" cy="64"/></g>
<g class="p"><path d="M548,89.1L553,85.6L566.2,90L586.6,98.7"/><circle cx="548" cy="89.1"/><circle cx="553" cy="85.6"/><circle cx="566.2" cy="90"/><circle cx="586.6" cy="98.7"/></g>
<g class="p"><path d="M550.9,188.7L569.3,56.6L583.9,60.6L602.7,58.7L625.6,78.2L634.4,68.4L652.4,73.5"/><circle cx="550.9" cy="188.7"/><circle cx="569.3" cy="56.6"/><circle cx="583.9" cy="60.6"/><circle cx="602.7" cy="58.7"/><circle cx="625.6" cy="78.2"/><circle cx="634.4" cy="68.4"/><circle cx="652.4" cy="73.5"/></g>
<g class="p"><path d="M542.5,189.4L559.2,179.7L573,192.9L590.3,188L608.6,187.9L617,190.3L626.4,194.7L646.7,179.3"/><circle cx="542.5" cy="189.4"/><circle cx="559.2" cy="179.7"/><circle cx="573" cy="192.9"/><circle cx="590.3" cy="188"/><circle cx="608.6" cy="187.9"/><circle cx="617" cy="190.3"/><circle cx="626.4" cy="194.7"/><circle cx="646.7" cy="179.3"/></g>
<g class="t"><path d="M548.8,190.6L595.2,59.2L612,61.9L627.1,62L647.5,69.7L657.8,63.4"/><circle cx="548.8" cy="190.6"/><circle cx="595.2" cy="59.2"/><circle cx="612" cy="61.9"/><circle cx="627.1" cy="62"/><circle cx="647.5" cy="69.7"/><circle cx="657.8" cy="63.4"/></g>
<g class="p"><path d="M549,186.8L563,188.5L570.9,210.3L585.4,188.5L601.2,182.1L614.1,188.8L633.7,186.1L647.4,187.6"/><circle cx="549" cy="186.8"/><circle cx="563" cy="188.5"/><circle cx="570.9" cy="210.3"/><circle cx="585.4" cy="188.5"/><circle cx="601.2" cy="182.1"/><circle cx="614.1" cy="188.8"/><circle cx="633.7" cy="186.1"/><circle cx="647.4" cy="187.6"/></g>
<g class="p"><path d="M543,116.2L554.3,96.1L563.4,81.9L575.5,75.8L593.5,76.1"/><circle cx="543" cy="116.2"/><circle cx="554.3" cy="96.1"/><circle cx="563.4" cy="81.9"/><circle cx="575.5" cy="75.8"/><circle cx="593.5" cy="76.1"/></g>
<g class="p"><path d="M547.5,157.5L567.4,103.8L581.9,94.5L593.5,88.1L617,89.8L636.2,89L644.9,92.1L664.4,92.8"/><circle cx="547.5" cy="157.5"/><circle cx="567.4" cy="103.8"/><circle cx="581.9" cy="94.5"/><circle cx="593.5" cy="88.1"/><circle cx="617" cy="89.8"/><circle cx="636.2" cy="89"/><circle cx="644.9" cy="92.1"/><circle cx="664.4" cy="92.8"/></g>
<g class="t"><path d="M548.7,116.5L552.9,94.4L560.7,76.7L568.7,72L583.9,73.9L604.1,64.2L618.8,70L634,68.7L648.6,67.7L666.5,61"/><circle cx="548.7" cy="116.5"/><circle cx="552.9" cy="94.4"/><circle cx="560.7" cy="76.7"/><circle cx="568.7" cy="72"/><circle cx="583.9" cy="73.9"/><circle cx="604.1" cy="64.2"/><circle cx="618.8" cy="70"/><circle cx="634" cy="68.7"/><circle cx="648.6" cy="67.7"/><circle cx="666.5" cy="61"/></g>
<g class="p"><path d="M552.9,191.5L563.1,201.7L571.8,190.1L581,190.1L598.9,188.7L618.8,188.2L635.5,209.4L650.1,187.5"/><circle cx="552.9" cy="191.5"/><circle cx="563.1" cy="201.7"/><circle cx="571.8" cy="190.1"/><circle cx="581" cy="190.1"/><circle cx="598.9" cy="188.7"/><circle cx="618.8" cy="188.2"/><circle cx="635.5" cy="209.4"/><circle cx="650.1" cy="187.5"/></g>
<g class="p"><path d="M547.6,187.8L558.8,187.3L572.3,191.6L579.4,185.1L592.9,191.8L612.9,190.7L621.7,189.3L636.1,188.2L649.3,189"/><circle cx="547.6" cy="187.8"/><circle cx="558.8" cy="187.3"/><circle cx="572.3" cy="191.6"/><circle cx="579.4" cy="185.1"/><circle cx="592.9" cy="191.8"/><circle cx="612.9" cy="190.7"/><circle cx="621.7" cy="189.3"/><circle cx="636.1" cy="188.2"/><circle cx="649.3" cy="189"/></g>
<g class="p"><path d="M548,146.8L551,129.4L571.9,90L586.8,94.5L600.7,85.2L609.9,85.7L619.8,94.2L628.9,79.9L638.7,82.9L658.3,88.2"/><circle cx="548" cy="146.8"/><circle cx="551" cy="129.4"/><circle cx="571.9" cy="90"/><circle cx="586.8" cy="94.5"/><circle cx="600.7" cy="85.2"/><circle cx="609.9" cy="85.7"/><circle cx="619.8" cy="94.2"/><circle cx="628.9" cy="79.9"/><circle cx="638.7" cy="82.9"/><circle cx="658.3" cy="88.2"/></g>
<g class="p"><path d="M544.9,185.7L553.1,56.7L561.7,46.6"/><circle cx="544.9" cy="185.7"/><circle cx="553.1" cy="56.7"/><circle cx="561.7" cy="46.6"/></g>
<g class="p"><path d="M549.6,186.1L568.6,192L577.1,193.6L590.3,188.7L604.4,198.5L614.2,192.5L628.6,188.9L648.2,191.3L655.9,192.4"/><circle cx="549.6" cy="186.1"/><circle cx="568.6" cy="192"/><circle cx="577.1" cy="193.6"/><circle cx="590.3" cy="188.7"/><circle cx="604.4" cy="198.5"/><circle cx="614.2" cy="192.5"/><circle cx="628.6" cy="188.9"/><circle cx="648.2" cy="191.3"/><circle cx="655.9" cy="192.4"/></g>
<g class="t"><path d="M541.9,189.8L578.9,76.7L590.1,79.6L608.3,79.5L627.5,85.7L644.9,79.6L666.4,91.6"/><circle cx="541.9" cy="189.8"/><circle cx="578.9" cy="76.7"/><circle cx="590.1" cy="79.6"/><circle cx="608.3" cy="79.5"/><circle cx="627.5" cy="85.7"/><circle cx="644.9" cy="79.6"/><circle cx="666.4" cy="91.6"/></g>
<g class="t"><path d="M548.6,68.3L570.4,77.8L588.5,77.5L603,84.9L623.1,97.7L645.8,85.1"/><circle cx="548.6" cy="68.3"/><circle cx="570.4" cy="77.8"/><circle cx="588.5" cy="77.5"/><circle cx="603" cy="84.9"/><circle cx="623.1" cy="97.7"/><circle cx="645.8" cy="85.1"/></g>
<g class="p"><path d="M546.3,189.1L557.3,186.5L567.6,186L575.5,190.5L588,187.8L595.5,189.7L603.1,190.3L622.1,204.3L633.8,189.7L648.3,190.5L665.9,185.9"/><circle cx="546.3" cy="189.1"/><circle cx="557.3" cy="186.5"/><circle cx="567.6" cy="186"/><circle cx="575.5" cy="190.5"/><circle cx="588" cy="187.8"/><circle cx="595.5" cy="189.7"/><circle cx="603.1" cy="190.3"/><circle cx="622.1" cy="204.3"/><circle cx="633.8" cy="189.7"/><circle cx="648.3" cy="190.5"/><circle cx="665.9" cy="185.9"/></g>
<g class="p"><path d="M545.6,192.7L556.4,180.7L571.1,187.9L590.8,188.2L609.4,190.7L622.9,175.1L637,191.7L655.9,190.1"/><circle cx="545.6" cy="192.7"/><circle cx="556.4" cy="180.7"/><circle cx="571.1" cy="187.9"/><circle cx="590.8" cy="188.2"/><circle cx="609.4" cy="190.7"/><circle cx="622.9" cy="175.1"/><circle cx="637" cy="191.7"/><circle cx="655.9" cy="190.1"/></g>
<g class="p"><path d="M549.3,191.4L578.7,54L601.2,57.5L624.2,53.5L640.3,73.9L658,67.9L668.6,64.6"/><circle cx="549.3" cy="191.4"/><circle cx="578.7" cy="54"/><circle cx="601.2" cy="57.5"/><circle cx="624.2" cy="53.5"/><circle cx="640.3" cy="73.9"/><circle cx="658" cy="67.9"/><circle cx="668.6" cy="64.6"/></g>
<g class="p"><path d="M547.6,188.5L579,80.7L595.9,82.5"/><circle cx="547.6" cy="188.5"/><circle cx="579" cy="80.7"/><circle cx="595.9" cy="82.5"/></g>
<g class="t"><path d="M543.5,160.7L565.4,54.5L574.4,56.1L594.5,68.4"/><circle cx="543.5" cy="160.7"/><circle cx="565.4" cy="54.5"/><circle cx="574.4" cy="56.1"/><circle cx="594.5" cy="68.4"/></g>
<g class="t"><path d="M640.3,119.9L659.8,130.5"/><circle cx="640.3" cy="119.9"/><circle cx="659.8" cy="130.5"/></g>
<g class="p"><path d="M545.1,74.3L558.2,97.5L575,97.1L594.8,106.2L606.9,106.7L622.7,105.8L648.3,110.7L664.3,104.8"/><circle cx="545.1" cy="74.3"/><circle cx="558.2" cy="97.5"/><circle cx="575" cy="97.1"/><circle cx="594.8" cy="106.2"/><circle cx="606.9" cy="106.7"/><circle cx="622.7" cy="105.8"/><circle cx="648.3" cy="110.7"/><circle cx="664.3" cy="104.8"/></g>
<g class="p"><path d="M542.3,100.9L545.8,103L571.5,102L584.5,105.4L592.7,92.5L611,99.2"/><circle cx="542.3" cy="100.9"/><circle cx="545.8" cy="103"/><circle cx="571.5" cy="102"/><circle cx="584.5" cy="105.4"/><circle cx="592.7" cy="92.5"/><circle cx="611" cy="99.2"/></g>
<g class="p"><path d="M567.6,132.3L585,142.9L589.2,137.6L611.9,139.8"/><circle cx="567.6" cy="132.3"/><circle cx="585" cy="142.9"/><circle cx="589.2" cy="137.6"/><circle cx="611.9" cy="139.8"/></g>
<path d="M541,149.5L541.5,145.6L542.1,141.8L542.6,138.2L543.1,134.9L543.7,131.8L544.2,129L544.7,126.3L545.3,123.7L545.8,121.2L546.3,118.7L546.8,116.2L547.4,113.6L547.9,110.9L548.4,108L549,104.9L549.5,101.6L550,98.2L550.6,95L551.1,92L551.6,89.4L552.2,87L552.7,84.7L553.2,82.5L553.8,80.3L554.3,78.4L554.8,76.5L555.2,75.4L556.6,72.1L558,69.6L559.4,67.5L560.9,65.8L562.3,64.4L563.7,63.4L565.1,62.8L566.5,62.3L567.9,61.8L569.4,61.4L570.8,61.1L572.2,60.8L573.6,60.6L575,60.6L576.5,60.7L577.9,60.8L579.3,61L580.7,61.3L582.1,61.7L583.5,62L585,62.4L586.4,62.8L587.8,63.2L589.2,63.6L590.6,63.9L592,64.2L593.5,64.5L594.9,64.8L596.3,65.1L597.7,65.4L599.1,65.7L600.6,66L602,66.4L603.4,66.7L604.8,67L606.2,67.4L607.6,67.7L609.1,68L610.5,68.3L611.9,68.6L613.3,68.9L614.7,69.2L616.2,69.5L617.6,69.8L619,70.1L620.4,70.4L621.8,70.6L623.2,70.9L624.7,71.1L626.1,71.4L627.5,71.6L628.9,71.9L630.3,72.1L631.8,72.4L633.2,72.6L634.6,72.8L636,73L637.4,73.3L638.8,73.5L640.3,73.7L641.7,73.9L643.1,74.1L644.5,74.4L645.9,74.6L647.4,74.8L648.8,75L650.2,75.2L651.6,75.4L653,75.6L654.4,75.8L655.9,76L657.3,76.2L658.7,76.4L660.1,76.6L661.5,76.7L662.9,76.9L664.4,77.1L665.8,77.3L667.2,77.4L668.6,77.6L670,77.8L670.7,77.9L670.7,105.3L670,105.1L668.6,104.8L667.2,104.5L665.8,104.2L664.4,103.9L662.9,103.6L661.5,103.3L660.1,103L658.7,102.6L657.3,102.3L655.9,102L654.4,101.7L653,101.3L651.6,101L650.2,100.7L648.8,100.3L647.4,100L645.9,99.6L644.5,99.3L643.1,98.9L641.7,98.6L640.3,98.2L638.8,97.9L637.4,97.5L636,97.1L634.6,96.8L633.2,96.4L631.8,96L630.3,95.7L628.9,95.3L627.5,94.9L626.1,94.5L624.7,94.1L623.2,93.7L621.8,93.3L620.4,92.9L619,92.5L617.6,92.1L616.2,91.7L614.7,91.3L613.3,90.8L611.9,90.3L610.5,89.9L609.1,89.4L607.6,88.9L606.2,88.4L604.8,87.8L603.4,87.3L602,86.8L600.6,86.3L599.1,85.8L597.7,85.3L596.3,84.7L594.9,84.2L593.5,83.8L592,83.3L590.6,82.8L589.2,82.3L587.8,81.8L586.4,81.3L585,80.8L583.5,80.2L582.1,79.8L580.7,79.3L579.3,78.9L577.9,78.6L576.5,78.4L575,78.3L573.6,78.4L572.2,78.5L570.8,78.8L569.4,79.2L567.9,79.7L566.5,80.3L565.1,81L563.7,81.9L562.3,83.2L560.9,84.8L559.4,86.9L558,89.4L556.6,92.1L555.2,95.8L554.8,97L554.3,99L553.8,101.1L553.2,103.3L552.7,105.7L552.2,108.1L551.6,110.6L551.1,113.3L550.6,116.5L550,119.9L549.5,123.4L549,126.8L548.4,130.1L547.9,133.2L547.4,136L546.8,138.8L546.3,141.5L545.8,144.2L545.3,146.9L544.7,149.7L544.2,152.5L543.7,155.6L543.1,158.8L542.6,162.4L542.1,166.2L541.5,170.2L541,174.3Z" fill="#4FE3CF" fill-opacity="0.5"/>
<path d="M541,149.5L541.5,145.6L542.1,141.8L542.6,138.2L543.1,134.9L543.7,131.8L544.2,129L544.7,126.3L545.3,123.7L545.8,121.2L546.3,118.7L546.8,116.2L547.4,113.6L547.9,110.9L548.4,108L549,104.9L549.5,101.6L550,98.2L550.6,95L551.1,92L551.6,89.4L552.2,87L552.7,84.7L553.2,82.5L553.8,80.3L554.3,78.4L554.8,76.5L555.2,75.4L556.6,72.1L558,69.6L559.4,67.5L560.9,65.8L562.3,64.4L563.7,63.4L565.1,62.8L566.5,62.3L567.9,61.8L569.4,61.4L570.8,61.1L572.2,60.8L573.6,60.6L575,60.6L576.5,60.7L577.9,60.8L579.3,61L580.7,61.3L582.1,61.7L583.5,62L585,62.4L586.4,62.8L587.8,63.2L589.2,63.6L590.6,63.9L592,64.2L593.5,64.5L594.9,64.8L596.3,65.1L597.7,65.4L599.1,65.7L600.6,66L602,66.4L603.4,66.7L604.8,67L606.2,67.4L607.6,67.7L609.1,68L610.5,68.3L611.9,68.6L613.3,68.9L614.7,69.2L616.2,69.5L617.6,69.8L619,70.1L620.4,70.4L621.8,70.6L623.2,70.9L624.7,71.1L626.1,71.4L627.5,71.6L628.9,71.9L630.3,72.1L631.8,72.4L633.2,72.6L634.6,72.8L636,73L637.4,73.3L638.8,73.5L640.3,73.7L641.7,73.9L643.1,74.1L644.5,74.4L645.9,74.6L647.4,74.8L648.8,75L650.2,75.2L651.6,75.4L653,75.6L654.4,75.8L655.9,76L657.3,76.2L658.7,76.4L660.1,76.6L661.5,76.7L662.9,76.9L664.4,77.1L665.8,77.3L667.2,77.4L668.6,77.6L670,77.8L670.7,77.9" fill="none" stroke="#22BDAE" stroke-width="1.5" stroke-dasharray="5,5.3" stroke-opacity="0.9"/>
<path d="M541,174.3L541.5,170.2L542.1,166.2L542.6,162.4L543.1,158.8L543.7,155.6L544.2,152.5L544.7,149.7L545.3,146.9L545.8,144.2L546.3,141.5L546.8,138.8L547.4,136L547.9,133.2L548.4,130.1L549,126.8L549.5,123.4L550,119.9L550.6,116.5L551.1,113.3L551.6,110.6L552.2,108.1L552.7,105.7L553.2,103.3L553.8,101.1L554.3,99L554.8,97L555.2,95.8L556.6,92.1L558,89.4L559.4,86.9L560.9,84.8L562.3,83.2L563.7,81.9L565.1,81L566.5,80.3L567.9,79.7L569.4,79.2L570.8,78.8L572.2,78.5L573.6,78.4L575,78.3L576.5,78.4L577.9,78.6L579.3,78.9L580.7,79.3L582.1,79.8L583.5,80.2L585,80.8L586.4,81.3L587.8,81.8L589.2,82.3L590.6,82.8L592,83.3L593.5,83.8L594.9,84.2L596.3,84.7L597.7,85.3L599.1,85.8L600.6,86.3L602,86.8L603.4,87.3L604.8,87.8L606.2,88.4L607.6,88.9L609.1,89.4L610.5,89.9L611.9,90.3L613.3,90.8L614.7,91.3L616.2,91.7L617.6,92.1L619,92.5L620.4,92.9L621.8,93.3L623.2,93.7L624.7,94.1L626.1,94.5L627.5,94.9L628.9,95.3L630.3,95.7L631.8,96L633.2,96.4L634.6,96.8L636,97.1L637.4,97.5L638.8,97.9L640.3,98.2L641.7,98.6L643.1,98.9L644.5,99.3L645.9,99.6L647.4,100L648.8,100.3L650.2,100.7L651.6,101L653,101.3L654.4,101.7L655.9,102L657.3,102.3L658.7,102.6L660.1,103L661.5,103.3L662.9,103.6L664.4,103.9L665.8,104.2L667.2,104.5L668.6,104.8L670,105.1L670.7,105.3" fill="none" stroke="#22BDAE" stroke-width="1.5" stroke-dasharray="5,5.3" stroke-opacity="0.9"/>
<path d="M541,161.9L541.5,157.9L542.1,154L542.6,150.3L543.1,146.9L543.7,143.7L544.2,140.8L544.7,138L545.3,135.3L545.8,132.7L546.3,130.1L546.8,127.5L547.4,124.8L547.9,122L548.4,119.1L549,115.9L549.5,112.5L550,109.1L550.6,105.7L551.1,102.7L551.6,100L552.2,97.6L552.7,95.2L553.2,92.9L553.8,90.7L554.3,88.7L554.8,86.8L555.2,85.6L556.6,82.1L558,79.5L559.4,77.2L560.9,75.3L562.3,73.8L563.7,72.6L565.1,71.9L566.5,71.3L567.9,70.8L569.4,70.3L570.8,69.9L572.2,69.7L573.6,69.5L575,69.5L576.5,69.5L577.9,69.7L579.3,70L580.7,70.3L582.1,70.7L583.5,71.1L585,71.6L586.4,72L587.8,72.5L589.2,72.9L590.6,73.3L592,73.7L593.5,74.1L594.9,74.5L596.3,74.9L597.7,75.3L599.1,75.7L600.6,76.2L602,76.6L603.4,77L604.8,77.4L606.2,77.9L607.6,78.3L609.1,78.7L610.5,79.1L611.9,79.5L613.3,79.9L614.7,80.2L616.2,80.6L617.6,81L619,81.3L620.4,81.6L621.8,82L623.2,82.3L624.7,82.6L626.1,83L627.5,83.3L628.9,83.6L630.3,83.9L631.8,84.2L633.2,84.5L634.6,84.8L636,85.1L637.4,85.4L638.8,85.7L640.3,86L641.7,86.2L643.1,86.5L644.5,86.8L645.9,87.1L647.4,87.4L648.8,87.6L650.2,87.9L651.6,88.2L653,88.5L654.4,88.7L655.9,89L657.3,89.3L658.7,89.5L660.1,89.8L661.5,90L662.9,90.3L664.4,90.5L665.8,90.8L667.2,91L668.6,91.2L670,91.5L670.7,91.6" fill="none" stroke="#35D3C3" stroke-width="2.6" stroke-opacity="0.85"/>
<path d="M541,155.3L541.5,153.2L542.1,151.1L542.6,149L543.1,146.9L543.7,144.8L544.2,142.7L544.7,140.6L545.3,138.5L545.8,136.3L546.3,134.2L546.8,131.9L547.4,129.6L547.9,127.3L548.4,124.9L549,122.5L549.5,120.1L550,117.8L550.6,115.5L551.1,113.4L551.6,111.4L552.2,109.5L552.7,107.8L553.2,106.1L553.8,104.4L554.3,102.9L554.8,101.4L555.2,100.5L556.6,97.6L558,95.3L559.4,93.3L560.9,91.6L562.3,90.1L563.7,89.1L565.1,88.4L566.5,87.9L567.9,87.5L569.4,87L570.8,86.7L572.2,86.5L573.6,86.3L575,86.3L576.5,86.4L577.9,86.5L579.3,86.7L580.7,87L582.1,87.2L583.5,87.5L585,87.9L586.4,88.2L587.8,88.5L589.2,88.8L590.6,89.1L592,89.4L593.5,89.8L594.9,90.1L596.3,90.4L597.7,90.8L599.1,91.2L600.6,91.5L602,91.8L603.4,92.1L604.8,92.4L606.2,92.7L607.6,92.9L609.1,93.2L610.5,93.4L611.9,93.6L613.3,93.8L614.7,94.1L616.2,94.3L617.6,94.5L619,94.8L620.4,95L621.8,95.2L623.2,95.5L624.7,95.7L626.1,95.9L627.5,96.1L628.9,96.3L630.3,96.6L631.8,96.8L633.2,97L634.6,97.3L636,97.5L637.4,97.7L638.8,98L640.3,98.2L641.7,98.4L643.1,98.7L644.5,98.9L645.9,99.2L647.4,99.4L648.8,99.7L650.2,99.9L651.6,100.2L653,100.5L654.4,100.7L655.9,101L657.3,101.3L658.7,101.5L660.1,101.8L661.5,102.1L662.9,102.4L664.4,102.6L665.8,102.9L667.2,103.2L668.6,103.5L670,103.8L670.7,104L670.7,128.7L670,128.5L668.6,127.9L667.2,127.4L665.8,126.9L664.4,126.4L662.9,125.9L661.5,125.4L660.1,124.9L658.7,124.5L657.3,124L655.9,123.5L654.4,123.1L653,122.6L651.6,122.2L650.2,121.7L648.8,121.3L647.4,120.9L645.9,120.5L644.5,120.1L643.1,119.7L641.7,119.3L640.3,118.9L638.8,118.5L637.4,118.2L636,117.8L634.6,117.5L633.2,117.1L631.8,116.8L630.3,116.5L628.9,116.2L627.5,115.9L626.1,115.6L624.7,115.3L623.2,115L621.8,114.8L620.4,114.5L619,114.2L617.6,114L616.2,113.8L614.7,113.5L613.3,113.3L611.9,113.1L610.5,112.9L609.1,112.7L607.6,112.4L606.2,112.2L604.8,112L603.4,111.7L602,111.4L600.6,111.1L599.1,110.7L597.7,110.4L596.3,110.1L594.9,109.8L593.5,109.5L592,109.2L590.6,108.9L589.2,108.6L587.8,108.4L586.4,108.1L585,107.8L583.5,107.5L582.1,107.2L580.7,107L579.3,106.8L577.9,106.7L576.5,106.6L575,106.6L573.6,106.6L572.2,106.8L570.8,107.1L569.4,107.5L567.9,108.1L566.5,108.7L565.1,109.3L563.7,110.1L562.3,111.4L560.9,113L559.4,114.9L558,117.2L556.6,119.7L555.2,122.8L554.8,123.8L554.3,125.4L553.8,127L553.2,128.8L552.7,130.5L552.2,132.4L551.6,134.3L551.1,136.5L550.6,138.8L550,141.1L549.5,143.6L549,146.1L548.4,148.7L547.9,151.2L547.4,153.8L546.8,156.2L546.3,158.7L545.8,161L545.3,163.3L544.7,165.7L544.2,168L543.7,170.3L543.1,172.6L542.6,174.9L542.1,177.2L541.5,179.5L541,181.8Z" fill="#E5898D" fill-opacity="0.5"/>
<path d="M541,155.3L541.5,153.2L542.1,151.1L542.6,149L543.1,146.9L543.7,144.8L544.2,142.7L544.7,140.6L545.3,138.5L545.8,136.3L546.3,134.2L546.8,131.9L547.4,129.6L547.9,127.3L548.4,124.9L549,122.5L549.5,120.1L550,117.8L550.6,115.5L551.1,113.4L551.6,111.4L552.2,109.5L552.7,107.8L553.2,106.1L553.8,104.4L554.3,102.9L554.8,101.4L555.2,100.5L556.6,97.6L558,95.3L559.4,93.3L560.9,91.6L562.3,90.1L563.7,89.1L565.1,88.4L566.5,87.9L567.9,87.5L569.4,87L570.8,86.7L572.2,86.5L573.6,86.3L575,86.3L576.5,86.4L577.9,86.5L579.3,86.7L580.7,87L582.1,87.2L583.5,87.5L585,87.9L586.4,88.2L587.8,88.5L589.2,88.8L590.6,89.1L592,89.4L593.5,89.8L594.9,90.1L596.3,90.4L597.7,90.8L599.1,91.2L600.6,91.5L602,91.8L603.4,92.1L604.8,92.4L606.2,92.7L607.6,92.9L609.1,93.2L610.5,93.4L611.9,93.6L613.3,93.8L614.7,94.1L616.2,94.3L617.6,94.5L619,94.8L620.4,95L621.8,95.2L623.2,95.5L624.7,95.7L626.1,95.9L627.5,96.1L628.9,96.3L630.3,96.6L631.8,96.8L633.2,97L634.6,97.3L636,97.5L637.4,97.7L638.8,98L640.3,98.2L641.7,98.4L643.1,98.7L644.5,98.9L645.9,99.2L647.4,99.4L648.8,99.7L650.2,99.9L651.6,100.2L653,100.5L654.4,100.7L655.9,101L657.3,101.3L658.7,101.5L660.1,101.8L661.5,102.1L662.9,102.4L664.4,102.6L665.8,102.9L667.2,103.2L668.6,103.5L670,103.8L670.7,104" fill="none" stroke="#D85F63" stroke-width="1.5" stroke-dasharray="5,5.3" stroke-opacity="0.9"/>
<path d="M541,181.8L541.5,179.5L542.1,177.2L542.6,174.9L543.1,172.6L543.7,170.3L544.2,168L544.7,165.7L545.3,163.3L545.8,161L546.3,158.7L546.8,156.2L547.4,153.8L547.9,151.2L548.4,148.7L549,146.1L549.5,143.6L550,141.1L550.6,138.8L551.1,136.5L551.6,134.3L552.2,132.4L552.7,130.5L553.2,128.8L553.8,127L554.3,125.4L554.8,123.8L555.2,122.8L556.6,119.7L558,117.2L559.4,114.9L560.9,113L562.3,111.4L563.7,110.1L565.1,109.3L566.5,108.7L567.9,108.1L569.4,107.5L570.8,107.1L572.2,106.8L573.6,106.6L575,106.6L576.5,106.6L577.9,106.7L579.3,106.8L580.7,107L582.1,107.2L583.5,107.5L585,107.8L586.4,108.1L587.8,108.4L589.2,108.6L590.6,108.9L592,109.2L593.5,109.5L594.9,109.8L596.3,110.1L597.7,110.4L599.1,110.7L600.6,111.1L602,111.4L603.4,111.7L604.8,112L606.2,112.2L607.6,112.4L609.1,112.7L610.5,112.9L611.9,113.1L613.3,113.3L614.7,113.5L616.2,113.8L617.6,114L619,114.2L620.4,114.5L621.8,114.8L623.2,115L624.7,115.3L626.1,115.6L627.5,115.9L628.9,116.2L630.3,116.5L631.8,116.8L633.2,117.1L634.6,117.5L636,117.8L637.4,118.2L638.8,118.5L640.3,118.9L641.7,119.3L643.1,119.7L644.5,120.1L645.9,120.5L647.4,120.9L648.8,121.3L650.2,121.7L651.6,122.2L653,122.6L654.4,123.1L655.9,123.5L657.3,124L658.7,124.5L660.1,124.9L661.5,125.4L662.9,125.9L664.4,126.4L665.8,126.9L667.2,127.4L668.6,127.9L670,128.5L670.7,128.7" fill="none" stroke="#D85F63" stroke-width="1.5" stroke-dasharray="5,5.3" stroke-opacity="0.9"/>
<path d="M541,168.5L541.5,166.4L542.1,164.2L542.6,162L543.1,159.8L543.7,157.6L544.2,155.4L544.7,153.1L545.3,150.9L545.8,148.7L546.3,146.4L546.8,144.1L547.4,141.7L547.9,139.2L548.4,136.8L549,134.3L549.5,131.8L550,129.5L550.6,127.1L551.1,124.9L551.6,122.9L552.2,120.9L552.7,119.1L553.2,117.4L553.8,115.7L554.3,114.1L554.8,112.6L555.2,111.7L556.6,108.6L558,106.3L559.4,104.1L560.9,102.3L562.3,100.7L563.7,99.6L565.1,98.9L566.5,98.3L567.9,97.8L569.4,97.3L570.8,96.9L572.2,96.6L573.6,96.5L575,96.4L576.5,96.5L577.9,96.6L579.3,96.8L580.7,97L582.1,97.2L583.5,97.5L585,97.8L586.4,98.1L587.8,98.4L589.2,98.7L590.6,99L592,99.3L593.5,99.6L594.9,99.9L596.3,100.3L597.7,100.6L599.1,100.9L600.6,101.3L602,101.6L603.4,101.9L604.8,102.2L606.2,102.4L607.6,102.7L609.1,102.9L610.5,103.1L611.9,103.3L613.3,103.6L614.7,103.8L616.2,104L617.6,104.3L619,104.5L620.4,104.8L621.8,105L623.2,105.2L624.7,105.5L626.1,105.7L627.5,106L628.9,106.3L630.3,106.5L631.8,106.8L633.2,107.1L634.6,107.4L636,107.6L637.4,107.9L638.8,108.2L640.3,108.5L641.7,108.9L643.1,109.2L644.5,109.5L645.9,109.8L647.4,110.2L648.8,110.5L650.2,110.8L651.6,111.2L653,111.5L654.4,111.9L655.9,112.3L657.3,112.6L658.7,113L660.1,113.4L661.5,113.7L662.9,114.1L664.4,114.5L665.8,114.9L667.2,115.3L668.6,115.7L670,116.1L670.7,116.3" fill="none" stroke="#E8605F" stroke-width="2.6" stroke-opacity="0.85"/>
</g>
<g filter="url(#tx)">
<rect x="44.80" y="2.9" width="140.50" height="20.3" fill="#fff" stroke="#000" stroke-width="1.2"/>
<text x="115.05" y="16.8" font-family="Liberation Sans" font-size="11.15" fill="#1a1a1a" text-anchor="middle">Female</text>
<line x1="43.40" y1="216.4" x2="186.00" y2="216.4" stroke="#000" stroke-width="1.3"/>
<line x1="50.30" y1="216.4" x2="50.30" y2="220.0" stroke="#333" stroke-width="1.2"/>
<text x="50.30" y="231.4" font-family="Liberation Sans" font-size="11.5" fill="#4d4d4d" text-anchor="middle">0</text>
<line x1="85.75" y1="216.4" x2="85.75" y2="220.0" stroke="#333" stroke-width="1.2"/>
<text x="85.75" y="231.4" font-family="Liberation Sans" font-size="11.5" fill="#4d4d4d" text-anchor="middle">100</text>
<line x1="121.20" y1="216.4" x2="121.20" y2="220.0" stroke="#333" stroke-width="1.2"/>
<text x="121.20" y="231.4" font-family="Liberation Sans" font-size="11.5" fill="#4d4d4d" text-anchor="middle">200</text>
<line x1="156.65" y1="216.4" x2="156.65" y2="220.0" stroke="#333" stroke-width="1.2"/>
<text x="156.65" y="231.4" font-family="Liberation Sans" font-size="11.5" fill="#4d4d4d" text-anchor="middle">300</text>
<line x1="43.90" y1="24.00" x2="43.90" y2="217.0" stroke="#000" stroke-width="1.3"/>
<line x1="40.30" y1="53.54" x2="43.90" y2="53.54" stroke="#333" stroke-width="1.2"/>
<text x="37.50" y="57.94" font-family="Liberation Sans" font-size="11.5" fill="#4d4d4d" text-anchor="end">2</text>
<line x1="40.30" y1="97.77" x2="43.90" y2="97.77" stroke="#333" stroke-width="1.2"/>
<text x="37.50" y="102.17" font-family="Liberation Sans" font-size="11.5" fill="#4d4d4d" text-anchor="end">1</text>
<line x1="40.30" y1="142.00" x2="43.90" y2="142.00" stroke="#333" stroke-width="1.2"/>
<text x="37.50" y="146.40" font-family="Liberation Sans" font-size="11.5" fill="#4d4d4d" text-anchor="end">0</text>
<line x1="40.30" y1="186.23" x2="43.90" y2="186.23" stroke="#333" stroke-width="1.2"/>
<text x="37.50" y="190.63" font-family="Liberation Sans" font-size="11.5" fill="#4d4d4d" text-anchor="end">-1</text>
<rect x="194.00" y="2.9" width="140.40" height="20.3" fill="#fff" stroke="#000" stroke-width="1.2"/>
<text x="264.20" y="16.8" font-family="Liberation Sans" font-size="11.15" fill="#1a1a1a" text-anchor="middle">Male</text>
<line x1="192.60" y1="216.4" x2="335.10" y2="216.4" stroke="#000" stroke-width="1.3"/>
<line x1="199.30" y1="216.4" x2="199.30" y2="220.0" stroke="#333" stroke-width="1.2"/>
<text x="199.30" y="231.4" font-family="Liberation Sans" font-size="11.5" fill="#4d4d4d" text-anchor="middle">0</text>
<line x1="234.75" y1="216.4" x2="234.75" y2="220.0" stroke="#333" stroke-width="1.2"/>
<text x="234.75" y="231.4" font-family="Liberation Sans" font-size="11.5" fill="#4d4d4d" text-anchor="middle">100</text>
<line x1="270.20" y1="216.4" x2="270.20" y2="220.0" stroke="#333" stroke-width="1.2"/>
<text x="270.20" y="231.4" font-family="Liberation Sans" font-size="11.5" fill="#4d4d4d" text-anchor="middle">200</text>
<line x1="305.65" y1="216.4" x2="305.65" y2="220.0" stroke="#333" stroke-width="1.2"/>
<text x="305.65" y="231.4" font-family="Liberation Sans" font-size="11.5" fill="#4d4d4d" text-anchor="middle">300</text>
<rect x="386.60" y="2.9" width="140.40" height="20.3" fill="#fff" stroke="#000" stroke-width="1.2"/>
<text x="456.80" y="16.8" font-family="Liberation Sans" font-size="11.15" fill="#1a1a1a" text-anchor="middle">Comorbidities</text>
<line x1="385.20" y1="216.4" x2="527.70" y2="216.4" stroke="#000" stroke-width="1.3"/>
<line x1="392.10" y1="216.4" x2="392.10" y2="220.0" stroke="#333" stroke-width="1.2"/>
<text x="392.10" y="231.4" font-family="Liberation Sans" font-size="11.5" fill="#4d4d4d" text-anchor="middle">0</text>
<line x1="427.55" y1="216.4" x2="427.55" y2="220.0" stroke="#333" stroke-width="1.2"/>
<text x="427.55" y="231.4" font-family="Liberation Sans" font-size="11.5" fill="#4d4d4d" text-anchor="middle">100</text>
<line x1="463.00" y1="216.4" x2="463.00" y2="220.0" stroke="#333" stroke-width="1.2"/>
<text x="463.00" y="231.4" font-family="Liberation Sans" font-size="11.5" fill="#4d4d4d" text-anchor="middle">200</text>
<line x1="498.45" y1="216.4" x2="498.45" y2="220.0" stroke="#333" stroke-width="1.2"/>
<text x="498.45" y="231.4" font-family="Liberation Sans" font-size="11.5" fill="#4d4d4d" text-anchor="middle">300</text>
<line x1="385.70" y1="24.00" x2="385.70" y2="217.0" stroke="#000" stroke-width="1.3"/>
<line x1="382.10" y1="53.54" x2="385.70" y2="53.54" stroke="#333" stroke-width="1.2"/>
<text x="379.30" y="57.94" font-family="Liberation Sans" font-size="11.5" fill="#4d4d4d" text-anchor="end">2</text>
<line x1="382.10" y1="97.77" x2="385.70" y2="97.77" stroke="#333" stroke-width="1.2"/>
<text x="379.30" y="102.17" font-family="Liberation Sans" font-size="11.5" fill="#4d4d4d" text-anchor="end">1</text>
<line x1="382.10" y1="142.00" x2="385.70" y2="142.00" stroke="#333" stroke-width="1.2"/>
<text x="379.30" y="146.40" font-family="Liberation Sans" font-size="11.5" fill="#4d4d4d" text-anchor="end">0</text>
<line x1="382.10" y1="186.23" x2="385.70" y2="186.23" stroke="#333" stroke-width="1.2"/>
<text x="379.30" y="190.63" font-family="Liberation Sans" font-size="11.5" fill="#4d4d4d" text-anchor="end">-1</text>
<rect x="535.80" y="2.9" width="140.50" height="20.3" fill="#fff" stroke="#000" stroke-width="1.2"/>
<text x="606.05" y="16.8" font-family="Liberation Sans" font-size="11.15" fill="#1a1a1a" text-anchor="middle">No Comorbidities</text>
<line x1="534.40" y1="216.4" x2="677.00" y2="216.4" stroke="#000" stroke-width="1.3"/>
<line x1="541.00" y1="216.4" x2="541.00" y2="220.0" stroke="#333" stroke-width="1.2"/>
<text x="541.00" y="231.4" font-family="Liberation Sans" font-size="11.5" fill="#4d4d4d" text-anchor="middle">0</text>
<line x1="576.45" y1="216.4" x2="576.45" y2="220.0" stroke="#333" stroke-width="1.2"/>
<text x="576.45" y="231.4" font-family="Liberation Sans" font-size="11.5" fill="#4d4d4d" text-anchor="middle">100</text>
<line x1="611.90" y1="216.4" x2="611.90" y2="220.0" stroke="#333" stroke-width="1.2"/>
<text x="611.90" y="231.4" font-family="Liberation Sans" font-size="11.5" fill="#4d4d4d" text-anchor="middle">200</text>
<line x1="647.35" y1="216.4" x2="647.35" y2="220.0" stroke="#333" stroke-width="1.2"/>
<text x="647.35" y="231.4" font-family="Liberation Sans" font-size="11.5" fill="#4d4d4d" text-anchor="middle">300</text>
<text x="8.3" y="14" font-family="Liberation Sans" font-weight="bold" font-size="18" fill="#000">a.</text>
<text x="350.6" y="14" font-family="Liberation Sans" font-weight="bold" font-size="18" fill="#000">b.</text>
<text transform="translate(18.80,119.8) rotate(-90)" font-family="Liberation Sans" font-size="14.4" fill="#000" text-anchor="middle">Log Anti-N Levels (u/Mg)</text>
<text transform="translate(360.60,119.8) rotate(-90)" font-family="Liberation Sans" font-size="14.4" fill="#000" text-anchor="middle">Log Anti-N Levels (u/Mg)</text>
<text x="189.70" y="247.7" font-family="Liberation Sans" font-size="14" fill="#000" text-anchor="middle">Time since Infection</text>
<text x="531.50" y="247.7" font-family="Liberation Sans" font-size="14" fill="#000" text-anchor="middle">Time since Infection</text>
<text x="229.6" y="280.5" font-family="Liberation Sans" font-size="14" fill="#000">PCC Status</text>
<rect x="310.7" y="265.5" width="20.4" height="20.4" fill="#F2C4C6"/>
<text x="339" y="280" font-family="Liberation Sans" font-size="11.2" fill="#1a1a1a">Acute Only</text>
<rect x="403.1" y="265.5" width="20.4" height="20.4" fill="#A8F2E8"/>
<text x="431.3" y="280" font-family="Liberation Sans" font-size="11.5" fill="#1a1a1a">PCC</text>
</g>
</svg>
</body></html>
